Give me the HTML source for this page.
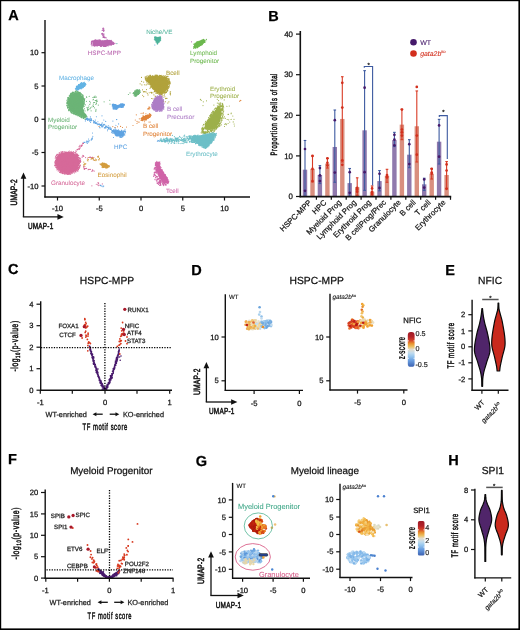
<!DOCTYPE html>
<html><head><meta charset="utf-8"><style>
html,body{margin:0;padding:0;background:#fff;}
#fig{position:relative;width:520px;height:630px;overflow:hidden;background:#fff;}
svg{position:absolute;left:0;top:0;will-change:transform;}
svg text{font-family:"Liberation Sans", sans-serif;text-rendering:geometricPrecision;}
</style></head><body><div id="fig">
<svg width="520" height="630" viewBox="0 0 520 630">
<rect x="0" y="0" width="520" height="630" fill="#fff"/>
<text transform="translate(8.20,14.80)" y="5.22" font-size="14.5" fill="#000" stroke="#000" stroke-width="0.25" font-weight="bold" >A</text>
<path d="M92.7,40.8 L96.0,40.0 L100.4,40.2 L103.9,40.5 L107.4,39.9 L110.1,40.3 L111.8,42.1 L114.5,43.4 L111.8,44.3 L109.2,45.6 L103.9,46.3 L98.6,46.1 L93.4,45.9 L92.5,43.9 Z" fill="#b965ae"/>
<path d="M106.6 43.6h0M113.4 44.4h0M110.4 44.4h0M96.6 43.8h0M98.5 42.6h0M111.5 41.6h0M110.9 42.6h0M98.6 42.1h0M98.0 42.8h0M97.4 42.2h0M102.1 43.7h0M103.6 46.4h0M104.8 46.0h0M110.8 41.4h0M106.6 46.0h0M96.4 44.5h0M95.0 40.0h0M106.3 45.8h0M92.1 41.8h0M91.9 43.1h0M103.9 40.9h0M102.7 42.6h0M106.7 45.5h0M103.9 43.0h0M103.4 45.1h0M97.2 42.8h0M91.3 42.2h0M95.8 43.5h0M108.3 41.0h0M96.0 41.8h0M100.2 44.7h0M94.9 44.8h0M97.7 45.5h0M113.0 42.7h0M112.2 44.5h0M107.0 41.3h0M109.5 44.2h0M93.3 42.2h0M104.5 44.2h0M103.7 41.4h0M112.8 43.0h0M100.0 43.3h0M106.0 44.1h0M92.5 41.0h0M100.7 46.5h0M99.1 41.6h0M94.8 41.7h0M111.4 41.4h0M100.5 40.0h0M105.7 45.1h0M106.1 44.7h0M106.9 40.9h0M107.9 40.5h0M94.8 41.8h0M102.0 45.1h0M97.0 43.1h0M101.1 46.2h0M93.4 44.3h0M96.4 45.1h0M107.8 45.0h0M98.5 42.0h0M107.6 42.7h0M94.3 43.1h0M113.6 44.2h0M105.2 40.5h0M94.6 40.5h0M95.8 40.8h0M104.8 46.5h0M95.5 39.7h0M107.0 40.7h0M105.2 43.0h0M101.3 42.8h0M97.0 40.7h0M92.0 41.5h0M102.7 40.8h0M104.7 44.0h0M99.1 42.5h0M109.8 42.5h0M100.3 40.7h0M94.1 46.0h0M107.4 39.9h0M101.7 44.3h0M104.1 43.9h0M99.6 41.1h0M105.8 46.5h0M108.1 46.0h0M99.9 40.3h0M104.0 41.8h0M94.8 46.2h0M91.1 44.0h0M109.8 44.4h0M111.3 44.5h0M94.4 43.7h0M101.5 46.5h0M111.4 43.9h0M91.4 42.0h0M106.7 43.2h0M103.8 44.8h0M109.1 44.6h0M96.7 42.6h0M96.0 45.7h0M100.1 45.0h0M95.5 42.0h0M99.7 40.1h0M105.3 40.8h0M99.5 41.7h0M97.8 42.8h0M102.1 41.5h0M103.9 44.5h0M104.0 45.7h0M113.4 42.4h0M105.5 45.2h0M101.7 41.3h0M101.3 45.3h0M92.7 41.1h0M101.7 41.5h0M104.0 46.4h0M97.3 44.6h0M111.2 40.4h0M107.9 45.4h0M108.9 40.4h0M106.7 43.3h0M99.3 43.5h0M101.0 45.7h0M96.1 40.1h0M92.3 41.5h0M96.3 45.1h0M113.9 43.9h0M112.0 41.8h0M93.8 44.1h0M106.1 42.8h0M103.0 45.8h0M105.9 41.6h0M107.5 45.0h0M98.7 44.1h0M102.6 42.3h0M106.7 44.8h0M106.9 44.6h0M95.6 42.3h0M101.3 46.5h0M110.1 44.7h0M111.4 41.0h0M109.2 44.8h0M93.8 41.5h0M113.8 42.9h0M112.9 42.8h0M104.1 41.6h0M91.8 41.1h0M91.5 41.5h0M97.3 40.8h0M97.2 40.0h0M95.7 42.9h0M105.2 41.1h0M92.0 44.9h0M105.8 46.2h0M95.2 41.5h0M107.9 43.7h0M91.5 43.2h0M98.8 40.0h0M104.5 46.0h0M111.3 43.0h0M107.5 45.4h0M106.3 40.0h0M95.8 43.8h0M105.4 45.8h0M92.0 45.8h0M115.0 43.3h0M112.4 42.2h0M92.3 45.0h0M99.5 40.0h0M99.0 41.4h0M93.8 45.4h0M106.7 42.9h0M110.9 42.8h0M112.6 41.8h0M94.2 42.4h0M110.2 40.6h0M95.9 43.6h0M105.3 46.5h0M107.0 43.7h0M106.2 44.2h0M93.4 41.9h0M107.5 43.7h0M106.8 45.0h0M111.6 43.8h0M111.1 45.4h0M99.2 43.5h0M109.1 40.9h0M112.7 43.8h0M113.3 43.1h0M95.0 40.7h0M91.7 44.0h0M107.3 45.5h0M96.4 40.5h0M105.1 43.5h0M100.5 42.4h0M97.3 41.5h0M102.4 42.2h0M107.4 43.5h0M93.5 44.5h0M100.5 43.6h0M94.3 40.3h0M107.6 45.5h0M100.4 40.2h0M100.3 41.3h0M104.5 40.8h0M96.4 45.7h0M97.2 46.1h0M99.2 39.8h0M102.4 41.9h0M93.0 40.9h0M109.8 42.9h0M105.5 46.2h0M98.5 40.0h0M92.9 40.8h0M110.1 43.1h0M94.3 43.3h0M94.3 44.9h0M94.3 42.7h0M93.0 40.5h0M98.7 45.0h0M106.5 45.4h0M95.7 41.8h0M101.9 45.2h0M100.4 45.9h0M108.8 40.7h0M93.4 42.8h0M109.2 44.3h0M110.4 43.2h0M111.6 40.7h0M107.9 40.5h0M100.3 41.6h0M104.0 41.1h0M109.9 40.4h0M95.8 42.9h0M97.7 42.1h0M104.4 43.8h0M103.5 30.2h0M103.7 30.6h0M104.0 30.0h0M103.9 28.7h0M103.7 30.9h0M103.5 28.1h0M104.1 30.4h0M103.8 28.7h0M102.9 29.7h0M103.7 31.4h0M103.1 29.9h0M102.7 28.3h0M103.2 29.5h0M102.2 30.4h0M103.5 34.1h0M103.4 36.7h0M103.5 34.0h0M104.2 36.0h0M104.1 34.1h0M103.4 35.7h0M103.5 37.3h0M101.7 33.5h0M103.8 36.6h0M102.5 35.7h0M103.0 34.7h0M103.0 34.6h0M102.1 33.5h0M102.0 34.4h0M103.7 35.7h0M102.7 33.4h0M103.6 36.0h0M103.9 37.4h0M104.6 37.2h0M103.0 37.3h0M104.8 37.7h0M104.5 37.7h0M105.2 37.3h0M106.2 37.7h0M106.1 38.0h0M104.6 37.3h0" stroke="#b965ae" stroke-width="1.15" stroke-linecap="round" fill="none"/>
<path d="M116.9 43.6h0" stroke="#4db39a" stroke-width="1.15" stroke-linecap="round" fill="none"/>
<path d="M154.4,37.6 L155.8,36.6 L157.3,37.4 L159.3,36.5 L161.0,37.6 L160.6,39.8 L157.5,43.7 L154.9,40.3 Z" fill="#4db39a"/>
<path d="M157.8 43.4h0M160.6 38.7h0M159.0 37.2h0M155.0 40.1h0M156.3 38.2h0M154.6 37.5h0M157.5 40.1h0M158.4 40.2h0M154.8 36.9h0M160.1 40.4h0M158.2 39.5h0M155.0 38.3h0M158.1 40.8h0M158.7 38.8h0M157.2 43.8h0M160.5 36.9h0M156.9 37.9h0M158.2 38.6h0M157.2 39.4h0M155.3 36.7h0M158.8 42.0h0M157.5 43.3h0M157.5 43.1h0M156.1 39.1h0M156.4 42.2h0M159.2 37.3h0M157.1 39.4h0M158.5 38.5h0M157.7 43.7h0M154.4 39.2h0M158.1 38.9h0M155.4 37.2h0M156.3 37.7h0M156.5 41.7h0M158.3 42.2h0M156.8 37.0h0M160.5 40.3h0M158.9 42.2h0M156.2 41.6h0M159.8 41.3h0M160.7 38.1h0M154.9 37.2h0M159.6 40.6h0M157.9 37.6h0M156.2 39.6h0M158.1 40.7h0M158.4 39.0h0M157.4 42.0h0M158.4 37.6h0M160.7 40.0h0M159.9 40.5h0M159.4 41.8h0M155.5 39.4h0M156.0 42.1h0M156.4 40.0h0M158.4 39.6h0M158.7 39.2h0M155.5 38.2h0M156.7 37.4h0M160.1 39.8h0M158.1 38.6h0M157.8 43.1h0M158.9 39.0h0M156.2 41.3h0M157.5 39.1h0M158.5 39.8h0M157.3 44.1h0M156.9 37.3h0M158.4 41.7h0M156.5 41.4h0M157.1 43.3h0M158.6 38.9h0" stroke="#4db39a" stroke-width="1.15" stroke-linecap="round" fill="none"/>
<path d="M154.8 45.0h0" stroke="#5ea3e2" stroke-width="1.15" stroke-linecap="round" fill="none"/>
<path d="M193.5,48.0 L194.2,44.0 L198.1,41.4 L202.5,39.9 L205.6,39.8 L204.7,42.2 L201.7,45.3 L197.3,47.5 L194.6,48.2 Z" fill="#6cb84e"/>
<path d="M199.1 44.3h0M203.0 43.4h0M197.7 41.8h0M193.9 44.4h0M200.2 41.3h0M205.0 42.3h0M197.9 47.4h0M197.1 46.9h0M200.0 43.9h0M201.5 43.6h0M202.1 41.7h0M198.0 43.8h0M202.0 42.4h0M197.5 46.6h0M200.5 40.8h0M199.6 43.6h0M193.7 48.5h0M197.6 41.8h0M194.5 47.2h0M205.0 41.9h0M197.7 42.2h0M199.5 42.3h0M194.3 46.2h0M197.7 45.2h0M198.7 46.5h0M196.7 44.1h0M204.0 40.7h0M203.0 41.3h0M196.7 42.4h0M204.0 39.8h0M201.1 43.5h0M204.7 42.0h0M202.9 42.4h0M201.6 42.8h0M195.8 45.1h0M197.8 44.0h0M201.3 41.1h0M196.9 44.1h0M198.2 43.6h0M195.9 45.6h0M202.0 40.7h0M199.1 45.9h0M198.3 41.7h0M203.0 40.4h0M195.3 43.0h0M199.1 45.5h0M195.9 46.4h0M204.0 40.4h0M204.1 41.8h0M202.7 43.6h0M203.0 40.9h0M202.3 44.4h0M204.2 42.5h0M196.8 45.5h0M202.0 44.3h0M199.8 45.8h0M197.4 41.6h0M197.2 46.0h0M194.8 46.3h0M199.5 46.1h0M202.1 41.8h0M202.1 43.4h0M195.7 44.2h0M199.7 41.6h0M198.1 42.7h0M203.2 39.6h0M199.7 41.1h0M203.7 39.3h0M197.6 42.0h0M199.7 44.4h0M196.9 47.8h0M195.9 43.2h0M198.6 45.7h0M194.1 44.1h0M197.5 45.9h0M198.3 42.9h0M206.4 39.4h0M202.6 41.8h0M197.4 45.4h0M194.1 47.3h0M201.7 41.1h0M199.1 46.0h0M200.1 41.6h0M202.0 44.8h0M193.7 46.7h0M199.5 43.6h0M195.9 44.0h0M194.1 43.9h0M195.4 43.6h0M196.1 43.1h0M205.9 40.7h0M203.0 42.0h0M204.5 41.7h0M202.3 41.6h0M197.1 46.7h0M198.8 41.2h0M196.7 44.3h0M198.5 42.2h0M203.3 41.5h0M196.5 44.0h0M199.3 45.7h0M202.7 43.3h0M195.2 43.2h0M203.1 39.9h0M196.8 41.9h0M200.9 44.9h0M201.4 40.2h0M197.4 47.7h0M195.3 48.3h0M194.6 47.1h0M204.4 41.4h0M201.8 42.3h0M201.5 44.0h0M202.2 39.9h0M195.3 45.8h0M200.1 42.3h0" stroke="#6cb84e" stroke-width="1.15" stroke-linecap="round" fill="none"/>
<path d="M191.5 41.8h0" stroke="#b965ae" stroke-width="1.15" stroke-linecap="round" fill="none"/>
<path d="M75.7,88.7 L77.0,86.0 L79.2,84.3 L81.9,82.8 L84.5,82.7 L85.7,83.8 L85.0,86.0 L82.8,87.8 L80.1,89.1 L77.5,90.2 Z" fill="#62b3e4"/>
<path d="M77.6 86.0h0M78.5 84.6h0M77.2 87.3h0M78.9 89.0h0M77.5 89.3h0M86.0 84.2h0M85.5 84.8h0M76.6 88.2h0M81.3 85.5h0M82.8 84.1h0M78.5 89.5h0M77.0 86.4h0M79.1 87.1h0M82.8 86.7h0M80.5 88.2h0M78.2 87.6h0M79.0 85.1h0M78.4 89.1h0M84.1 82.6h0M76.3 89.9h0M83.3 85.5h0M78.1 88.0h0M80.9 83.6h0M77.4 87.4h0M83.1 83.3h0M83.8 86.3h0M85.1 84.9h0M83.3 86.6h0M80.2 84.0h0M84.4 85.7h0M79.0 89.0h0M84.1 82.5h0M79.3 85.3h0M83.5 84.2h0M82.2 83.8h0M78.7 85.0h0M81.1 89.0h0M76.3 87.9h0M75.4 88.5h0M81.0 84.9h0M76.4 89.6h0M84.3 84.0h0M79.9 85.9h0M83.1 83.2h0M81.1 82.9h0M82.8 86.5h0M78.1 88.5h0M84.9 83.9h0M79.0 88.2h0M78.8 84.5h0M76.2 87.8h0M79.8 85.4h0M81.4 85.6h0M79.1 86.7h0M83.5 87.2h0M81.7 82.5h0M85.1 85.2h0M78.0 88.4h0M82.8 87.8h0M83.6 86.3h0M84.2 82.4h0M81.0 88.6h0M85.4 83.3h0M82.2 86.7h0M81.8 88.1h0M79.4 85.1h0M81.5 86.5h0M84.3 86.5h0M83.3 82.8h0M85.4 83.2h0M75.7 89.5h0M83.5 87.2h0M78.3 87.2h0M80.3 86.8h0M78.3 86.5h0M80.5 86.2h0M84.3 82.4h0M84.9 86.0h0M83.4 86.2h0M79.4 86.6h0M85.1 85.4h0M80.4 83.5h0M76.4 86.4h0M83.6 84.4h0M78.5 88.2h0M81.6 84.9h0M80.6 87.2h0M83.4 85.4h0M76.6 86.3h0M77.9 90.2h0M84.8 85.1h0M79.2 85.5h0M77.0 89.9h0M80.6 87.9h0M77.6 89.4h0M76.8 86.9h0M79.3 88.5h0" stroke="#62b3e4" stroke-width="1.15" stroke-linecap="round" fill="none"/>
<path d="M72.7,93.6 L76.8,92.6 L79.8,93.6 L82.4,96.3 L83.7,99.8 L83.7,104.2 L82.4,107.7 L83.3,111.2 L85.9,114.8 L86.8,117.4 L84.2,117.8 L79.8,115.6 L76.2,113.9 L71.8,112.1 L69.2,109.5 L67.9,105.1 L68.3,99.8 L70.1,96.3 Z" fill="#6bb476"/>
<path d="M73.9 99.4h0M76.9 100.3h0M74.3 94.6h0M68.6 98.2h0M68.4 107.4h0M80.0 99.4h0M83.1 110.0h0M86.0 116.7h0M74.3 107.3h0M69.8 105.9h0M81.6 100.6h0M81.6 103.4h0M78.0 103.9h0M77.4 98.9h0M74.4 102.6h0M70.0 108.0h0M83.1 105.5h0M72.4 102.6h0M70.5 111.2h0M78.8 109.4h0M72.5 100.6h0M73.5 113.9h0M83.1 102.9h0M67.0 102.2h0M76.9 115.0h0M79.5 109.6h0M82.9 106.4h0M70.2 97.7h0M76.8 94.2h0M74.9 99.0h0M67.9 103.2h0M85.9 114.7h0M77.5 107.7h0M71.3 93.9h0M78.2 92.7h0M76.9 100.8h0M71.8 100.4h0M72.9 109.2h0M72.0 93.4h0M66.7 103.5h0M82.1 94.5h0M83.5 99.3h0M75.2 96.4h0M79.3 99.8h0M71.2 103.9h0M80.9 99.7h0M81.7 100.4h0M82.3 104.7h0M77.1 110.4h0M85.1 119.4h0M78.8 103.2h0M81.2 117.3h0M80.4 93.6h0M85.7 117.0h0M72.7 102.6h0M68.8 110.7h0M77.9 93.3h0M68.9 101.2h0M70.6 100.3h0M82.9 103.8h0M74.7 93.2h0M68.3 101.3h0M73.7 110.8h0M81.3 111.2h0M81.6 102.7h0M80.8 96.6h0M82.5 115.5h0M82.6 107.3h0M81.9 102.9h0M83.1 95.4h0M78.0 98.4h0M68.4 98.0h0M82.6 105.0h0M73.8 108.1h0M83.9 103.3h0M83.3 97.6h0M78.5 108.3h0M71.5 102.6h0M81.2 105.3h0M73.7 110.8h0M84.9 116.9h0M72.9 100.7h0M82.3 95.8h0M75.6 97.9h0M80.2 110.4h0M68.7 109.9h0M77.2 91.9h0M73.6 96.4h0M71.6 107.3h0M77.4 93.2h0M80.5 96.6h0M81.6 107.4h0M84.2 102.4h0M72.2 112.7h0M68.2 104.2h0M66.9 105.0h0M80.0 96.9h0M75.4 99.2h0M69.4 101.0h0M82.9 101.2h0M78.0 95.9h0M70.2 104.4h0M77.9 100.2h0M73.0 98.1h0M80.5 95.3h0M69.8 104.6h0M79.8 96.1h0M81.9 103.1h0M73.9 110.1h0M81.5 104.3h0M83.3 105.3h0M84.5 99.7h0M79.7 103.0h0M80.7 100.6h0M72.3 100.7h0M74.9 113.3h0M70.3 107.0h0M82.8 97.8h0M71.3 110.0h0M72.1 111.2h0M82.9 95.0h0M76.1 108.2h0M69.4 96.8h0M72.3 101.4h0M83.5 118.4h0M74.6 106.3h0M82.0 117.9h0M72.9 92.1h0M69.3 109.2h0M72.9 106.6h0M81.2 101.2h0M82.6 109.6h0M70.7 98.2h0M74.1 93.0h0M76.0 95.5h0M83.2 96.5h0M80.6 105.1h0M74.9 106.3h0M76.5 111.2h0M72.5 107.6h0M83.0 104.0h0M71.6 106.3h0M79.3 95.1h0M76.6 93.5h0M70.8 109.7h0M79.3 111.0h0M75.3 98.2h0M72.1 98.3h0M83.4 110.1h0M74.9 96.5h0M72.7 93.3h0M74.4 107.5h0M85.3 114.0h0M74.7 108.7h0M76.1 105.5h0M78.7 99.8h0M71.3 105.6h0M72.2 107.2h0M72.1 104.5h0M78.6 107.4h0M78.3 94.8h0M83.4 109.9h0M84.4 115.8h0M78.3 98.0h0M81.1 106.7h0M69.9 101.0h0M76.6 100.7h0M81.5 102.4h0M83.8 103.1h0M71.2 98.4h0M84.4 101.1h0M78.7 95.5h0M80.9 100.4h0M85.4 115.7h0M74.7 93.7h0M82.8 97.5h0M70.0 109.6h0M82.5 111.1h0M81.4 116.5h0M67.3 105.2h0M76.8 99.9h0M72.3 96.7h0M83.3 117.8h0M73.8 93.2h0M77.5 101.9h0M70.7 100.9h0M79.6 93.1h0M75.0 107.9h0M80.8 98.7h0M82.0 111.7h0M67.9 98.6h0M85.4 117.2h0M80.3 109.3h0M81.7 98.8h0M79.5 93.7h0M74.1 114.0h0M77.0 93.3h0M71.3 106.0h0M75.7 96.9h0M77.4 112.8h0M72.6 111.7h0M80.1 93.7h0M84.0 101.5h0M79.7 107.3h0M80.8 117.0h0M79.7 101.4h0M72.0 96.2h0M74.6 98.9h0M70.4 100.7h0M85.0 116.5h0M79.3 107.1h0M71.7 95.2h0M76.0 106.1h0M80.9 96.5h0M71.1 101.2h0M81.9 100.1h0M81.8 97.5h0M75.6 107.6h0M82.8 100.3h0M66.9 100.2h0M68.9 110.7h0M81.8 104.8h0M80.0 95.2h0M85.4 115.4h0M80.0 97.5h0M75.7 97.7h0M81.7 115.6h0M71.7 101.2h0M80.9 94.0h0M81.4 97.1h0M78.1 112.9h0M72.1 98.4h0M71.1 112.4h0M71.8 99.4h0M79.1 106.6h0M76.2 112.9h0M69.6 106.8h0M79.9 107.9h0M72.2 103.5h0M70.8 104.3h0M71.2 107.6h0M79.8 108.3h0M80.1 106.6h0M73.3 108.7h0M70.3 96.5h0M82.3 114.7h0M78.5 98.2h0M70.3 107.6h0M79.6 105.1h0M77.5 96.9h0M76.4 94.1h0M78.6 95.4h0M83.9 99.2h0M75.4 103.9h0M83.1 109.9h0M72.4 107.2h0M74.7 97.6h0M75.6 99.3h0M75.1 103.7h0M70.6 105.4h0M67.6 103.6h0M73.5 110.9h0M76.3 97.2h0M86.6 116.1h0M80.0 96.9h0M83.9 99.3h0M67.9 108.0h0M74.8 98.5h0M76.5 107.6h0M70.5 93.9h0M67.8 103.0h0M75.3 91.3h0M77.4 101.5h0M75.0 109.4h0M71.8 111.9h0M71.5 102.8h0M77.6 105.2h0M76.5 97.9h0M79.5 94.7h0M83.3 111.6h0M76.8 103.9h0M79.7 105.5h0M80.3 99.3h0M73.6 99.3h0M77.1 99.4h0M71.2 105.9h0M73.4 106.2h0M75.9 105.2h0M76.1 113.0h0M78.3 92.1h0M76.7 106.5h0M72.2 92.3h0M67.1 103.4h0M82.3 102.4h0M76.7 106.2h0M81.7 108.7h0M73.6 111.0h0M77.6 109.6h0M73.6 109.9h0M68.3 98.5h0M73.2 98.5h0M79.3 110.4h0M79.4 108.4h0M69.8 101.8h0M75.2 104.1h0M72.2 98.2h0M76.4 100.0h0M69.4 107.2h0M84.0 104.6h0M72.0 101.4h0M77.8 98.9h0M79.0 107.7h0M73.9 99.5h0M79.1 115.1h0M69.2 110.7h0M77.7 111.5h0M69.1 100.2h0M73.0 107.1h0M73.2 98.2h0M81.7 96.6h0M80.6 97.7h0M81.0 97.2h0M81.8 110.1h0M82.0 98.0h0M78.4 102.9h0M82.4 96.6h0M71.1 97.2h0M82.4 106.8h0M70.6 95.9h0M77.9 104.6h0M75.8 99.5h0M80.7 103.4h0M76.1 92.8h0M83.8 115.0h0M80.6 100.6h0M76.0 110.5h0M81.4 114.9h0M80.8 104.7h0M78.3 113.6h0M68.4 104.4h0M76.7 107.7h0M79.5 94.9h0M67.7 106.4h0M83.5 110.7h0M81.9 111.8h0M74.5 103.5h0M76.6 99.4h0M75.3 101.2h0M84.4 117.9h0M75.6 91.2h0M71.1 93.0h0M75.8 96.7h0M70.0 99.0h0M84.3 115.4h0M67.7 102.0h0M81.1 93.9h0M71.8 111.8h0M81.3 105.0h0M85.1 115.9h0M78.7 92.1h0M71.6 105.1h0M71.0 97.7h0M80.6 103.4h0M80.0 92.7h0M73.3 101.1h0M73.7 102.5h0M76.5 90.9h0M78.6 104.8h0M77.0 96.8h0M77.1 104.4h0M82.1 103.3h0M70.4 101.6h0M75.0 96.8h0M78.9 115.0h0M68.7 104.8h0M82.8 108.1h0M80.8 116.2h0M72.8 105.0h0M76.9 106.0h0M67.7 105.2h0M68.0 99.4h0M71.4 97.5h0M79.6 101.1h0M79.9 97.6h0M75.3 98.6h0M76.0 94.3h0M84.1 102.0h0M83.3 116.5h0M79.1 99.6h0M75.0 101.5h0M75.2 110.9h0M72.3 110.8h0M71.6 97.3h0M68.7 103.8h0M78.4 110.1h0M76.1 95.7h0M81.8 105.9h0M80.3 114.8h0M73.8 104.2h0M74.8 94.9h0M80.7 104.9h0M83.8 103.9h0M75.0 109.3h0M80.1 111.1h0M68.9 100.5h0M77.9 104.8h0M68.5 110.1h0M79.9 110.4h0M69.6 98.9h0M77.6 102.4h0M74.7 96.8h0M83.0 117.0h0M81.8 97.4h0M78.6 93.3h0M79.9 105.5h0M79.0 113.6h0M81.1 102.3h0M68.8 98.9h0M76.2 94.3h0M83.3 112.0h0M72.8 104.3h0M79.5 109.6h0M67.7 97.6h0M70.9 111.9h0M75.6 99.9h0M85.0 115.2h0M74.7 97.3h0M78.5 93.3h0M67.6 103.2h0M71.2 107.3h0M79.6 98.2h0M70.8 102.9h0M71.8 101.3h0M79.9 93.2h0M77.1 92.8h0M72.3 113.2h0M73.1 113.3h0M74.0 99.9h0M70.7 96.0h0M83.9 117.1h0M81.5 98.1h0M72.8 100.1h0M76.3 102.5h0M77.4 114.7h0M84.5 103.1h0M78.2 101.0h0M75.7 95.2h0M74.6 109.6h0M81.1 109.4h0M75.2 114.4h0M83.0 115.1h0M68.6 99.2h0M84.1 98.7h0M80.9 94.3h0M75.9 98.1h0M81.8 94.2h0M75.1 113.3h0M75.5 96.3h0M84.2 101.8h0M77.3 114.0h0M84.3 113.0h0M79.2 108.0h0M79.0 110.4h0M79.4 106.9h0M76.5 106.1h0M74.3 107.9h0M71.6 94.6h0M74.4 100.8h0M83.1 106.5h0M78.4 97.9h0M70.0 95.9h0M84.0 103.6h0M67.4 102.6h0M75.4 92.1h0M84.2 104.6h0M77.7 91.6h0M72.9 93.1h0M75.1 91.8h0M78.0 94.4h0M81.1 116.2h0M82.4 98.5h0M78.0 110.6h0M69.0 104.2h0M76.8 99.1h0M70.8 93.3h0M74.5 109.4h0M74.3 96.5h0M67.9 100.8h0M81.9 99.9h0M67.5 107.2h0M76.8 106.4h0M69.1 102.2h0M77.9 93.1h0M80.9 99.6h0M80.6 98.9h0M73.4 94.7h0M71.1 99.6h0M72.0 98.4h0M73.5 99.2h0M79.1 115.4h0M74.4 103.6h0M78.8 92.2h0M82.1 96.2h0M77.0 92.2h0M73.1 92.8h0M66.7 105.7h0M78.0 99.1h0M80.0 96.4h0M76.0 108.3h0M70.8 96.2h0M82.0 103.9h0M85.8 115.1h0M71.6 97.5h0M75.2 91.8h0M81.1 115.1h0M87.0 118.6h0M79.3 100.2h0M79.0 113.0h0M68.0 97.9h0M71.7 96.9h0M74.6 92.8h0M70.2 108.9h0M73.0 107.1h0M69.1 102.8h0M87.0 116.2h0M75.7 111.3h0M74.9 103.2h0M77.6 99.0h0M76.0 94.9h0M76.6 99.8h0M75.6 100.9h0M70.1 98.2h0M75.8 106.3h0M76.1 106.6h0M77.1 109.3h0M75.0 95.5h0M83.3 98.3h0M73.8 111.9h0M84.5 100.5h0M81.9 116.0h0M74.8 99.8h0M83.0 110.7h0M77.8 115.5h0M81.0 116.2h0M81.0 106.0h0M78.2 102.6h0M75.7 97.3h0M72.4 111.3h0M79.3 95.8h0M79.6 100.4h0M75.1 108.5h0M78.4 102.2h0M68.9 99.2h0M81.4 93.7h0M69.4 101.7h0M83.6 106.1h0M71.9 110.5h0M76.8 100.9h0M80.0 107.7h0M73.3 110.8h0M68.8 101.6h0M75.9 100.9h0M78.5 115.0h0M75.6 103.6h0M87.5 118.6h0M74.1 112.7h0M82.1 101.4h0M82.8 106.5h0M82.7 111.3h0M84.3 116.2h0M76.9 107.5h0M80.1 102.2h0M73.2 109.2h0M66.9 102.4h0M70.5 111.1h0M68.6 107.1h0M85.7 117.0h0M74.7 113.2h0M81.4 115.4h0M75.8 91.2h0M82.2 109.0h0M76.4 100.4h0M78.1 115.9h0M73.1 102.0h0M79.3 97.9h0M72.2 108.9h0M85.4 115.5h0M74.3 101.3h0M68.7 104.6h0M80.1 106.2h0M78.1 100.7h0M67.7 104.7h0M79.6 116.1h0M72.5 99.8h0M83.7 118.0h0M77.3 101.2h0M86.2 115.2h0M78.8 97.7h0M82.2 109.0h0M79.5 93.4h0M67.5 108.1h0M75.3 112.2h0M68.3 99.2h0M80.3 94.1h0M75.9 114.2h0M74.4 97.6h0M79.6 103.5h0M79.9 114.8h0M75.6 110.0h0M80.9 115.0h0M70.9 101.0h0M74.8 108.8h0M82.5 107.5h0M73.6 113.1h0M74.4 114.0h0M70.9 94.3h0M71.7 112.1h0M72.4 98.7h0M73.6 92.4h0M73.4 97.9h0M71.4 95.7h0M71.2 100.8h0M71.3 103.4h0M69.5 102.4h0M75.6 94.4h0M77.3 98.5h0M80.0 110.2h0M67.7 102.5h0M70.6 107.2h0M72.3 109.7h0M74.5 99.3h0M80.8 105.8h0M83.6 98.1h0M74.6 104.1h0M75.2 95.6h0M73.0 96.4h0M83.8 101.7h0M83.8 117.9h0M77.0 101.1h0M80.5 101.5h0M81.2 102.4h0M72.3 94.8h0M71.7 96.1h0M71.4 112.9h0M83.7 99.0h0M85.8 119.1h0M84.2 116.0h0M83.8 98.4h0M75.9 103.3h0M83.0 107.1h0M70.1 95.6h0M80.6 103.1h0M67.4 99.0h0M83.0 97.6h0M84.2 100.3h0M75.5 114.6h0M79.8 92.7h0M82.0 102.0h0M71.0 108.2h0M78.4 100.4h0M74.2 98.5h0M70.3 109.4h0M71.6 103.1h0M81.0 105.9h0M76.3 108.8h0M80.4 92.8h0M80.6 98.1h0M70.0 109.3h0M77.5 102.4h0M79.1 100.0h0M82.7 100.8h0M80.0 92.2h0M80.3 96.7h0M75.7 91.9h0M76.0 114.8h0M73.5 94.5h0M70.3 94.7h0M76.7 114.3h0M72.0 97.8h0M85.0 114.7h0M74.7 99.6h0M83.1 107.0h0M79.0 99.7h0M76.5 100.5h0M84.0 117.6h0M84.4 116.9h0M70.8 95.8h0M76.9 92.8h0M73.0 109.4h0M75.6 111.7h0M76.8 112.2h0M76.6 113.0h0M72.7 103.4h0M70.8 103.7h0M75.1 108.5h0M81.9 117.1h0M83.1 112.0h0M82.3 107.8h0M74.8 97.5h0M71.8 112.3h0M78.1 102.8h0M72.9 111.1h0M73.1 95.5h0M83.9 113.5h0M79.6 116.4h0M69.3 95.2h0M77.0 109.3h0M73.4 98.1h0M76.1 100.2h0M75.7 103.5h0M75.0 111.1h0M70.5 100.8h0M78.4 112.7h0M68.5 97.2h0M75.5 102.6h0M68.6 98.7h0M74.3 100.3h0M70.1 110.3h0M68.6 109.1h0M82.4 103.0h0M82.2 103.9h0M83.1 114.1h0M69.4 107.3h0M82.8 101.5h0M86.8 118.5h0M78.7 96.4h0M80.4 116.9h0M82.5 108.3h0M68.9 103.2h0M80.0 113.0h0M79.4 92.9h0M67.3 101.0h0M82.4 102.8h0M73.7 97.1h0M80.5 113.2h0M81.1 97.5h0M86.0 118.7h0M81.3 104.6h0M68.6 99.3h0M81.9 117.4h0M94.1 96.7h0M86.4 101.3h0M84.3 106.2h0M86.7 97.3h0M88.4 109.6h0M86.5 96.7h0M93.0 99.8h0M97.2 101.3h0M96.5 97.0h0M91.1 110.8h0M95.8 111.5h0M95.9 110.5h0M93.5 99.2h0M96.0 109.3h0M89.7 101.4h0M95.2 100.6h0M91.8 107.0h0M95.1 97.4h0M95.1 96.1h0M85.0 110.9h0M96.5 101.7h0M84.5 108.7h0M90.4 102.8h0M92.9 97.5h0M96.4 103.6h0M84.9 98.7h0M94.1 97.3h0M89.2 96.3h0M89.9 108.8h0M87.0 107.6h0M88.2 107.5h0M96.2 103.1h0M93.7 102.5h0M94.4 107.8h0M85.4 104.8h0M93.3 104.1h0M93.5 106.4h0M89.8 104.4h0M87.6 109.4h0M87.7 110.6h0M88.8 106.0h0M87.8 108.6h0M94.6 102.5h0M90.5 107.8h0M92.9 105.8h0M95.8 104.5h0M110.0 104.1h0M98.3 105.1h0M104.1 101.8h0M96.9 100.0h0M109.7 100.2h0M96.2 100.4h0" stroke="#6bb476" stroke-width="1.15" stroke-linecap="round" fill="none"/>
<path d="M133.8,93.0 L135.2,90.8 L137.4,89.5 L139.6,89.9 L140.2,92.1 L138.3,94.7 L136.1,96.7 L134.3,95.6 Z" fill="#6bb476"/>
<path d="M139.9 91.8h0M138.0 92.0h0M137.7 91.0h0M135.0 96.4h0M140.3 92.3h0M136.6 90.1h0M138.6 94.5h0M134.8 94.2h0M138.8 93.2h0M136.0 95.9h0M135.7 93.2h0M135.6 95.6h0M139.5 93.3h0M135.2 95.8h0M139.4 89.7h0M137.7 92.6h0M138.9 92.0h0M136.0 90.1h0M137.7 92.0h0M138.2 92.8h0M137.8 91.7h0M139.5 91.1h0M135.1 91.5h0M137.9 92.4h0M138.3 93.1h0M138.8 93.3h0M134.1 95.0h0M137.9 94.5h0M134.6 91.1h0M134.1 92.6h0M135.1 90.9h0M139.6 91.7h0M137.6 90.9h0M135.8 93.4h0M139.2 89.5h0M138.1 93.5h0M134.3 92.4h0M139.2 91.3h0M133.9 93.8h0M137.2 89.5h0M138.5 93.7h0M135.7 94.8h0M136.4 92.3h0M140.1 90.8h0M138.7 93.4h0M133.0 93.3h0M128.4 94.5h0M130.0 92.9h0M134.0 95.2h0M133.6 92.6h0" stroke="#6bb476" stroke-width="1.15" stroke-linecap="round" fill="none"/>
<path d="M112.1,130.3 L116.6,130.3 L120.4,130.7 L123.9,131.5 L123.4,134.5 L121.1,136.7 L117.4,135.6 L113.6,133.0 Z" fill="#5ea3e2"/>
<path d="M112.3,105.1 L113.6,103.8 L115.8,104.2 L117.2,105.1 L119.4,104.6 L120.7,103.3 L123.3,103.8 L124.8,105.5 L123.3,107.3 L118.9,107.3 L116.3,109.7 L113.6,108.6 Z" fill="#5ea3e2"/>
<path d="M91.6 120.2h0M90.3 118.8h0M101.8 126.8h0M100.2 125.4h0M109.3 128.8h0M89.7 120.3h0M107.0 127.0h0M110.7 128.6h0M105.2 127.2h0M89.2 119.2h0M89.6 121.1h0M88.4 119.1h0M95.0 121.5h0M105.3 127.8h0M89.8 120.0h0M97.5 123.8h0M87.3 118.7h0M104.3 124.3h0M88.4 120.0h0M107.0 126.2h0M101.6 126.0h0M91.4 119.5h0M104.7 124.8h0M95.0 122.6h0M99.5 124.6h0M100.4 124.7h0M93.4 120.6h0M96.6 123.7h0M106.9 126.1h0M108.6 127.7h0M108.3 127.3h0M100.9 124.5h0M108.4 128.7h0M89.8 119.6h0M111.4 129.7h0M87.0 119.5h0M109.9 127.1h0M106.9 126.3h0M96.3 122.5h0M106.7 126.8h0M110.8 129.3h0M90.9 118.9h0M102.7 126.2h0M85.9 119.1h0M103.3 125.7h0M88.0 118.2h0M103.4 125.8h0M86.9 118.4h0M96.3 123.4h0M108.6 128.0h0M93.7 122.4h0M111.3 128.8h0M97.8 124.7h0M91.4 118.8h0M110.7 128.0h0M89.9 120.6h0M101.9 123.9h0M110.3 129.4h0M110.8 128.0h0M100.4 124.7h0M91.8 120.2h0M99.2 123.7h0M93.5 121.8h0M94.2 121.9h0M94.4 121.7h0M90.6 122.3h0M87.0 118.9h0M105.8 126.0h0M86.0 119.3h0M100.6 125.4h0M95.2 123.4h0M102.3 127.0h0M101.4 124.2h0M98.1 124.6h0M105.9 127.9h0M100.9 124.8h0M109.3 128.6h0M102.2 122.7h0M109.0 127.7h0M107.9 129.3h0M104.9 125.0h0M94.7 121.7h0M98.6 124.1h0M87.9 119.8h0M104.3 127.7h0M103.3 124.3h0M107.3 127.5h0M87.9 120.1h0M89.8 118.9h0M102.8 125.6h0M104.4 127.9h0M87.5 120.3h0M86.6 119.2h0M95.3 120.1h0M94.9 122.1h0M87.2 119.4h0M88.6 119.3h0M91.3 120.7h0M85.4 120.9h0M89.9 120.0h0M87.0 118.1h0M95.5 122.7h0M105.6 126.5h0M103.3 125.5h0M101.7 125.1h0M97.9 124.2h0M90.8 120.7h0M87.6 118.1h0M90.9 120.4h0M110.5 129.3h0M116.8 130.1h0M124.8 134.9h0M115.5 130.3h0M121.8 135.4h0M112.0 130.5h0M113.1 131.2h0M117.0 135.5h0M120.3 132.5h0M115.9 134.6h0M118.7 131.3h0M121.0 137.5h0M118.4 129.8h0M117.9 135.6h0M117.1 131.5h0M121.3 135.5h0M115.7 129.6h0M116.3 132.8h0M113.8 129.9h0M122.2 135.5h0M117.7 133.2h0M123.4 132.8h0M120.5 133.6h0M118.9 132.5h0M122.7 136.8h0M117.8 135.2h0M120.5 132.8h0M117.7 130.5h0M115.5 133.8h0M125.1 132.5h0M123.0 133.5h0M117.3 132.9h0M117.1 130.5h0M116.3 131.1h0M117.2 134.0h0M122.5 135.6h0M123.8 135.2h0M117.9 135.2h0M114.6 131.4h0M123.5 132.4h0M125.3 131.7h0M120.5 132.8h0M125.1 132.9h0M121.4 132.4h0M123.0 131.8h0M112.9 133.3h0M120.8 137.3h0M121.9 135.4h0M121.6 130.4h0M117.5 133.8h0M112.3 130.6h0M114.4 129.9h0M124.3 130.9h0M118.2 136.1h0M120.6 134.6h0M120.4 134.2h0M111.7 132.6h0M116.0 135.3h0M119.7 136.0h0M123.5 134.3h0M116.4 134.7h0M112.5 131.9h0M124.3 134.5h0M119.3 133.8h0M119.9 133.9h0M118.4 134.7h0M112.9 130.7h0M124.5 131.3h0M118.4 131.0h0M115.4 135.2h0M121.4 135.5h0M113.2 131.3h0M122.2 132.3h0M113.3 130.7h0M116.8 135.1h0M114.6 133.1h0M112.0 131.8h0M123.9 131.4h0M121.8 133.6h0M114.4 132.2h0M118.2 135.6h0M123.7 130.9h0M121.3 134.5h0M113.1 133.1h0M119.4 131.0h0M120.4 133.3h0M114.8 131.6h0M124.0 133.6h0M119.6 135.9h0M121.9 130.4h0M117.9 133.6h0M124.3 131.2h0M112.7 131.6h0M120.2 134.4h0M122.0 135.9h0M121.2 137.4h0M118.1 133.8h0M117.6 131.7h0M115.7 134.3h0M119.8 137.1h0M118.1 135.1h0M121.9 136.6h0M122.5 135.0h0M120.4 136.0h0M120.8 137.4h0M114.0 132.9h0M123.2 135.9h0M119.2 132.0h0M120.7 136.9h0M117.4 135.9h0M122.0 136.7h0M121.5 137.0h0M119.2 134.7h0M113.6 129.7h0M116.3 136.0h0M119.9 135.7h0M119.0 135.1h0M119.6 135.6h0M122.0 134.0h0M117.2 131.4h0M114.9 134.0h0M115.2 134.3h0M117.0 131.7h0M118.0 135.1h0M117.2 108.7h0M116.6 109.1h0M114.8 109.1h0M113.0 108.7h0M117.5 107.7h0M119.3 107.3h0M115.9 106.4h0M115.4 104.5h0M112.3 104.3h0M123.1 104.5h0M116.4 106.0h0M113.5 107.5h0M120.8 107.4h0M121.1 105.9h0M122.6 106.8h0M113.5 107.7h0M112.8 104.5h0M121.6 104.6h0M112.3 105.9h0M119.4 106.8h0M121.7 105.3h0M124.4 104.4h0M122.4 103.7h0M115.9 107.2h0M121.7 105.2h0M120.9 106.4h0M123.6 104.0h0M114.6 105.7h0M116.9 105.5h0M117.6 105.9h0M117.1 108.1h0M112.7 104.7h0M113.2 106.6h0M122.1 105.1h0M113.4 109.1h0M120.2 105.6h0M123.1 107.5h0M112.6 104.7h0M119.2 106.5h0M120.8 105.0h0M116.1 107.3h0M114.4 107.1h0M120.7 107.5h0M121.7 107.4h0M123.7 105.1h0M116.4 109.2h0M123.1 105.4h0M114.3 106.0h0M120.2 104.2h0M119.8 105.2h0M112.4 104.7h0M119.0 107.4h0M114.1 109.0h0M114.0 106.7h0M116.5 105.3h0M114.4 107.1h0M124.4 104.8h0M113.8 107.0h0M118.2 107.8h0M115.1 106.2h0M121.4 104.6h0M115.0 105.3h0M114.0 108.6h0M115.4 108.2h0M113.4 104.8h0M115.4 106.2h0M116.9 108.9h0M115.8 107.1h0M116.5 107.9h0M114.0 105.7h0M121.3 104.3h0M116.4 106.0h0M112.8 107.1h0M113.2 104.0h0M112.6 105.7h0M114.5 106.3h0M115.3 109.1h0M113.1 105.6h0M113.2 108.1h0M122.5 106.3h0M118.7 106.0h0M117.7 106.8h0M116.8 119.6h0M90.4 116.9h0M115.9 125.2h0M103.1 125.8h0M108.3 127.8h0M108.6 125.7h0M116.5 119.5h0M107.5 130.7h0M112.9 121.1h0M97.9 121.7h0M92.5 133.0h0M114.1 130.7h0M125.6 131.7h0M92.8 136.2h0M122.8 134.6h0M103.8 120.0h0M113.5 137.5h0M99.6 127.0h0M114.9 127.8h0M105.7 121.4h0M118.6 123.9h0M100.0 127.8h0M102.0 115.8h0M112.5 131.6h0M93.8 123.0h0M125.1 130.9h0M111.9 131.8h0M125.0 129.2h0M96.4 116.7h0M115.5 128.0h0M88.6 142.0h0M91.3 140.1h0M91.1 139.9h0M89.3 140.7h0M91.2 139.7h0M87.3 143.5h0M91.5 138.8h0M92.3 137.7h0M92.5 138.8h0M91.8 139.2h0M167.1 141.8h0M162.5 141.3h0M167.1 141.3h0M159.0 140.6h0M161.0 140.1h0M158.8 140.9h0M164.4 140.8h0M167.1 141.3h0M167.2 140.9h0M157.9 140.2h0M165.5 140.4h0M163.1 141.1h0M159.4 141.2h0M166.9 140.8h0M162.8 141.0h0M157.4 141.2h0M161.2 140.3h0M164.5 140.7h0M166.4 140.3h0M159.2 141.2h0" stroke="#5ea3e2" stroke-width="1.15" stroke-linecap="round" fill="none"/>
<path d="M146.1,78.2 L148.3,76.5 L152.7,76.0 L159.7,76.0 L166.6,76.9 L168.9,82.6 L167.6,87.5 L165.9,91.0 L162.3,93.6 L157.1,93.0 L153.5,89.2 L150.9,84.8 L147.4,82.2 Z" fill="#b1a23b"/>
<path d="M159.0 89.3h0M151.5 81.0h0M162.8 89.4h0M161.4 75.9h0M161.9 92.1h0M159.0 93.2h0M163.8 90.2h0M154.3 91.2h0M168.9 86.9h0M159.3 91.2h0M153.4 84.4h0M161.1 83.2h0M162.4 89.1h0M168.4 84.3h0M161.1 81.2h0M158.1 80.3h0M153.7 83.7h0M155.6 82.6h0M160.7 90.7h0M166.9 91.0h0M160.0 91.9h0M149.9 82.2h0M152.2 78.6h0M162.4 89.0h0M169.1 85.5h0M159.0 88.9h0M168.3 88.4h0M155.0 79.7h0M162.2 94.1h0M165.6 85.1h0M164.2 86.8h0M158.6 79.4h0M154.2 76.9h0M163.3 78.6h0M163.1 78.6h0M164.8 82.6h0M166.8 81.7h0M148.2 78.2h0M167.5 86.8h0M155.9 87.3h0M152.6 85.2h0M154.6 90.9h0M150.0 81.3h0M153.1 80.3h0M168.0 87.8h0M156.4 93.2h0M157.4 88.0h0M160.1 90.8h0M166.3 81.8h0M165.2 80.0h0M155.1 83.3h0M155.9 90.7h0M169.4 85.1h0M155.1 91.7h0M154.4 77.2h0M166.9 80.8h0M156.9 75.7h0M161.4 93.3h0M152.0 76.3h0M162.2 85.8h0M154.1 88.5h0M164.9 79.1h0M158.8 79.8h0M166.8 77.8h0M156.0 88.0h0M161.9 85.3h0M151.5 87.1h0M159.8 87.4h0M161.8 94.1h0M158.7 81.3h0M149.8 84.0h0M166.3 84.5h0M155.6 75.2h0M158.2 80.5h0M156.6 91.4h0M168.6 87.2h0M161.8 89.9h0M164.7 89.8h0M166.1 87.9h0M147.0 81.5h0M161.7 84.9h0M168.0 80.6h0M161.4 81.7h0M169.8 84.2h0M151.4 83.5h0M159.8 80.8h0M158.4 81.1h0M152.2 81.2h0M164.8 78.8h0M155.8 86.7h0M161.4 76.9h0M164.9 80.0h0M163.4 78.4h0M146.0 80.6h0M165.8 77.0h0M161.4 91.4h0M148.4 83.8h0M157.5 81.4h0M149.2 81.9h0M168.7 86.2h0M150.4 76.4h0M163.1 77.7h0M159.0 93.3h0M162.0 88.2h0M162.5 90.3h0M152.0 79.2h0M157.2 92.8h0M169.0 78.9h0M166.6 78.4h0M164.1 92.3h0M160.8 83.4h0M163.1 89.5h0M155.8 89.0h0M154.4 84.9h0M163.4 84.6h0M156.8 81.9h0M156.1 83.4h0M158.9 85.1h0M155.5 78.6h0M167.4 76.6h0M164.3 89.3h0M165.2 88.2h0M157.6 81.9h0M165.7 75.7h0M147.6 80.5h0M160.0 81.8h0M161.0 87.8h0M162.0 92.2h0M154.7 86.2h0M158.4 83.0h0M162.9 88.8h0M159.7 85.5h0M156.6 82.0h0M163.0 81.2h0M165.3 83.9h0M159.1 81.7h0M161.7 82.6h0M148.8 81.7h0M165.6 92.0h0M150.4 82.2h0M155.9 83.7h0M167.5 83.7h0M162.2 87.1h0M165.8 78.9h0M164.7 92.9h0M158.0 75.9h0M158.7 92.1h0M164.0 82.8h0M149.4 77.8h0M163.2 87.5h0M156.2 81.8h0M160.5 75.6h0M164.2 78.4h0M152.3 78.4h0M166.0 78.9h0M164.2 84.1h0M159.6 93.2h0M159.5 86.6h0M154.5 89.8h0M154.6 88.8h0M168.6 87.1h0M159.6 94.2h0M154.8 77.6h0M164.0 90.9h0M159.1 89.4h0M165.9 89.5h0M166.2 82.1h0M162.8 76.6h0M161.4 88.5h0M169.8 81.2h0M161.5 94.0h0M150.3 77.4h0M160.9 91.3h0M164.5 84.5h0M155.6 80.9h0M148.9 80.1h0M153.7 82.1h0M164.8 82.4h0M150.0 79.5h0M169.8 83.4h0M167.1 87.5h0M165.4 89.1h0M163.5 81.6h0M158.9 93.7h0M161.5 80.9h0M163.9 78.8h0M153.1 75.9h0M149.9 80.3h0M162.6 76.2h0M160.2 87.6h0M155.3 75.5h0M159.9 85.6h0M162.3 76.2h0M152.4 85.1h0M145.8 79.5h0M148.5 76.9h0M155.9 91.1h0M164.1 79.1h0M164.8 87.8h0M159.9 90.2h0M148.4 76.1h0M161.3 77.5h0M158.5 77.5h0M151.1 78.2h0M148.9 78.0h0M152.1 86.2h0M153.8 80.1h0M153.7 84.7h0M164.1 76.1h0M156.6 79.3h0M166.6 87.5h0M157.6 88.9h0M152.1 87.3h0M161.5 94.6h0M166.4 91.7h0M150.6 84.3h0M161.0 80.0h0M151.1 79.9h0M152.6 85.0h0M158.3 91.3h0M154.9 85.4h0M152.3 77.4h0M161.1 93.5h0M167.5 89.1h0M160.5 82.8h0M157.8 84.8h0M163.7 86.5h0M167.7 88.8h0M157.7 76.6h0M157.0 90.8h0M159.2 82.6h0M159.2 77.0h0M150.4 80.3h0M152.8 87.5h0M154.2 84.3h0M169.4 82.8h0M153.1 83.2h0M157.1 88.5h0M150.3 84.5h0M150.2 82.3h0M159.3 87.6h0M152.4 87.6h0M151.8 83.1h0M158.2 87.9h0M167.0 89.9h0M145.9 78.3h0M155.3 88.1h0M170.2 83.4h0M157.2 91.2h0M160.9 91.2h0M154.5 79.3h0M150.3 76.6h0M162.5 90.2h0M159.9 76.1h0M160.5 88.8h0M166.4 83.5h0M157.9 88.4h0M154.6 77.6h0M160.5 87.8h0M157.7 93.4h0M147.8 81.2h0M163.8 82.9h0M164.9 90.9h0M158.1 82.7h0M156.8 75.7h0M164.6 85.2h0M157.6 75.4h0M168.7 81.4h0M162.9 84.6h0M164.5 93.1h0M153.7 85.1h0M167.8 76.4h0M162.0 89.1h0M152.1 80.7h0M169.1 87.2h0M162.0 92.9h0M151.3 87.1h0M159.0 83.4h0M149.5 77.2h0M156.7 83.2h0M161.9 89.8h0M151.2 86.9h0M167.4 80.6h0M162.1 92.6h0M156.8 83.7h0M166.8 85.1h0M150.0 80.9h0M165.6 77.6h0M161.1 94.3h0M153.3 83.3h0M159.6 75.2h0M146.7 80.9h0M159.3 81.2h0M166.5 82.7h0M146.9 82.2h0M152.5 78.3h0M160.8 82.8h0M162.9 82.5h0M162.6 92.9h0M167.3 85.8h0M162.3 93.5h0M162.0 94.7h0M160.0 92.4h0M161.9 83.1h0M163.5 82.8h0M161.3 92.0h0M149.9 81.3h0M155.1 82.5h0M159.3 90.5h0M150.1 75.3h0M157.8 92.0h0M159.6 77.9h0M169.3 80.0h0M162.4 81.2h0M161.8 85.3h0M159.0 93.1h0M164.6 87.1h0M154.7 77.2h0M158.8 94.2h0M163.6 88.3h0M162.1 88.3h0M165.5 89.5h0M155.6 75.1h0M160.9 81.2h0M159.1 81.8h0M164.9 88.0h0M145.4 76.9h0M147.1 80.5h0M151.9 78.5h0M149.8 75.9h0M162.3 84.5h0M147.6 79.1h0M158.3 79.1h0M165.2 77.2h0M152.4 88.1h0M160.1 78.2h0M169.9 82.6h0M151.9 82.6h0M150.5 84.1h0M154.1 88.5h0M168.8 78.3h0M145.4 76.9h0M152.9 82.4h0M164.0 75.7h0M162.2 90.4h0M164.0 79.9h0M165.8 83.0h0M158.0 83.4h0M162.6 83.2h0M161.5 86.9h0M165.7 90.7h0M158.3 90.8h0M149.7 76.8h0M164.4 84.0h0M157.8 82.7h0M156.8 77.2h0M160.3 77.5h0M169.1 79.6h0M160.5 81.7h0M157.7 92.2h0M161.4 93.5h0M147.0 80.1h0M158.7 78.9h0M158.6 87.6h0M159.6 80.7h0M169.1 85.8h0M159.7 83.7h0M155.7 79.0h0M164.0 80.8h0M154.9 77.8h0M149.0 81.5h0M154.7 91.7h0M157.8 89.7h0M152.9 76.6h0M149.3 78.2h0M163.7 92.3h0M160.4 78.9h0M160.7 94.7h0M151.4 85.1h0M157.4 77.6h0M156.2 87.1h0M159.7 83.9h0M159.4 76.4h0M160.8 93.0h0M165.2 87.9h0M164.7 78.9h0M159.5 94.3h0M164.1 88.4h0M151.6 81.9h0M157.7 77.2h0M152.7 75.6h0M159.6 80.4h0M163.3 81.2h0M156.9 87.5h0M165.5 86.7h0M169.2 83.5h0M154.6 77.4h0M153.4 82.7h0M153.3 82.8h0M164.9 83.5h0M169.4 81.3h0M159.2 90.6h0M156.1 84.3h0M161.9 93.2h0M155.5 81.9h0M159.4 77.9h0M149.5 82.1h0M155.1 82.2h0M162.6 78.8h0M154.7 77.3h0M153.6 80.9h0M165.1 90.7h0M149.4 78.4h0M146.4 77.0h0M167.0 83.0h0M147.1 75.8h0M147.3 79.4h0M163.0 82.7h0M160.9 93.7h0M155.2 76.6h0M169.2 86.2h0M150.1 75.7h0M146.4 77.1h0M161.4 87.3h0M159.0 93.0h0M145.4 78.2h0M161.7 87.7h0M164.1 91.1h0M150.9 86.4h0M151.0 83.3h0M154.1 86.3h0M151.0 82.0h0M168.5 83.8h0M166.2 92.3h0M158.4 79.9h0M161.6 82.8h0M159.1 92.1h0M150.9 85.8h0M152.1 77.0h0M168.6 82.3h0M163.7 77.9h0M161.7 83.8h0M168.5 82.3h0M150.6 81.8h0M156.0 90.1h0M156.2 90.3h0M165.6 92.9h0M167.6 78.5h0M164.6 92.9h0M156.2 78.2h0M162.9 80.4h0M151.2 77.9h0M162.3 93.6h0M164.2 87.7h0M161.7 85.8h0M153.7 85.7h0M165.9 86.7h0M157.2 86.1h0M151.1 86.6h0M154.0 76.6h0M153.4 79.7h0M156.5 75.1h0M161.6 76.3h0M168.6 79.0h0M159.5 81.3h0M154.0 87.0h0M149.0 81.3h0M146.3 78.9h0M161.2 82.4h0M148.9 79.3h0M166.6 76.5h0M161.9 82.8h0M158.2 79.0h0M152.6 81.9h0M157.8 75.2h0M160.2 88.8h0M168.4 82.2h0M148.4 77.8h0M162.8 87.8h0M162.5 83.0h0M158.5 81.5h0M168.8 79.4h0M156.7 78.7h0M156.4 80.1h0M159.2 79.8h0M165.6 82.4h0M165.8 81.7h0M167.8 84.7h0M160.5 94.2h0M160.2 93.9h0M162.2 85.8h0M148.3 81.4h0M164.7 88.5h0M152.5 88.7h0M157.9 75.8h0M151.5 77.1h0M167.3 89.4h0M164.5 91.5h0M146.2 78.8h0M168.6 81.0h0M162.8 77.8h0M162.5 82.2h0M151.4 82.0h0M162.7 76.2h0M162.8 78.9h0M153.0 86.0h0M164.6 82.6h0M150.2 79.9h0M164.5 81.2h0M151.7 78.2h0M163.7 75.7h0M152.0 78.4h0M159.4 81.5h0M169.6 81.8h0M145.3 78.9h0M152.8 76.3h0M167.9 79.3h0M164.0 92.9h0M146.8 76.7h0M163.8 92.1h0M161.0 89.2h0M157.3 77.7h0M160.0 91.0h0M147.4 79.2h0M164.7 76.7h0M162.2 77.6h0M150.7 75.3h0M170.0 83.1h0M164.0 84.9h0M164.9 92.6h0M156.5 76.8h0M167.3 87.8h0M162.5 78.4h0M155.9 85.2h0M162.2 81.9h0M146.7 80.5h0M154.8 75.2h0M166.5 86.6h0M157.0 83.9h0M159.0 88.8h0M159.1 78.7h0M149.8 75.4h0M162.2 78.9h0M156.2 87.8h0M150.7 77.7h0M145.9 80.2h0M160.4 85.0h0M159.7 92.3h0M155.7 81.3h0M155.1 88.2h0M159.1 88.4h0M148.5 79.2h0M154.8 84.9h0M167.0 89.9h0M149.7 75.5h0M162.2 91.8h0M158.0 90.8h0M158.9 78.3h0M165.5 86.3h0M154.4 78.0h0M150.0 77.6h0M170.1 83.0h0M169.0 80.4h0M156.8 82.4h0M162.9 77.7h0M146.0 78.2h0M166.8 88.0h0M156.4 80.7h0M152.0 82.5h0M170.1 82.2h0M164.6 80.4h0M167.3 80.7h0M156.7 83.3h0M152.6 81.6h0M162.2 88.8h0M157.2 81.6h0M158.2 82.8h0M161.1 75.4h0M152.7 85.5h0M165.9 81.8h0M164.0 80.3h0M164.1 80.9h0M162.9 86.0h0M157.6 82.6h0M149.1 84.2h0M159.9 93.4h0M169.9 82.0h0M146.0 78.0h0M156.1 76.7h0M146.9 81.7h0M158.6 86.4h0M159.5 86.6h0M157.3 89.6h0M162.8 76.7h0M157.8 82.8h0M159.4 82.4h0M161.9 77.3h0M168.1 86.8h0M155.9 90.5h0M156.4 77.4h0M154.2 86.2h0M168.0 76.3h0M156.8 79.8h0M151.8 79.1h0M153.0 88.3h0M168.0 83.1h0M166.2 92.1h0M157.8 83.2h0M168.0 76.4h0M163.9 90.5h0M156.4 75.6h0M155.5 80.9h0M162.3 86.3h0M164.0 77.8h0M159.2 79.5h0M158.5 83.9h0M161.9 89.3h0M165.2 82.4h0M162.7 87.9h0M147.0 76.0h0M166.8 89.5h0M167.6 80.5h0M153.5 83.5h0M154.6 87.4h0M155.0 85.1h0M151.8 80.6h0M158.4 76.9h0M163.0 87.1h0M160.3 78.7h0M157.5 92.7h0M160.9 90.3h0M167.9 90.0h0M163.7 93.2h0M154.5 79.3h0M153.5 89.6h0M162.7 78.6h0M153.6 84.2h0M164.4 81.8h0M163.5 87.7h0M165.4 93.0h0M152.8 76.3h0M161.5 75.9h0M166.8 89.2h0M168.6 81.9h0M165.2 79.3h0M161.0 92.7h0M161.2 79.7h0M164.4 87.1h0M152.7 79.6h0M161.6 84.8h0M154.8 86.7h0M152.8 75.8h0M167.4 91.1h0M167.2 82.3h0M153.3 86.8h0M146.1 84.9h0M147.2 83.9h0M141.6 81.3h0M149.2 92.7h0M150.3 85.7h0M145.0 77.1h0M143.7 82.1h0M151.7 92.2h0M151.7 93.1h0M141.5 77.4h0M146.5 89.6h0M145.2 91.7h0M143.4 91.6h0M146.2 92.0h0M148.0 94.9h0M144.4 84.7h0M143.7 96.6h0M150.4 87.2h0M147.9 78.4h0M143.7 92.0h0M141.9 84.9h0M144.6 91.6h0M151.3 85.6h0M150.0 88.5h0M142.5 89.8h0M147.3 93.3h0M140.1 83.8h0M150.9 92.4h0M151.3 82.4h0M142.6 95.2h0M164.9 96.8h0M163.6 101.7h0M163.3 100.9h0M167.8 103.0h0M165.6 98.6h0M167.6 90.9h0M165.5 101.7h0M166.5 92.4h0M170.0 92.0h0M170.4 94.8h0M163.3 92.7h0M170.6 91.8h0M167.0 98.3h0M168.9 101.8h0M170.4 93.4h0M164.5 94.9h0M166.1 98.3h0M170.1 93.9h0M156.9 99.1h0M162.8 96.7h0M151.6 98.5h0M157.5 98.8h0M153.0 92.7h0M160.8 94.5h0M152.9 98.7h0M161.4 98.0h0M155.6 96.5h0M163.0 95.2h0M155.1 96.0h0M156.9 92.1h0M151.5 93.0h0M153.9 94.8h0M155.8 93.1h0" stroke="#b1a23b" stroke-width="1.15" stroke-linecap="round" fill="none"/>
<path d="M152.8,102.0 L155.4,97.9 L159.8,95.6 L162.4,97.8 L163.6,103.0 L163.7,107.4 L161.6,110.5 L156.2,110.6 L152.7,108.4 L152.3,104.9 Z" fill="#ad7dc6"/>
<path d="M154.5 104.0h0M162.0 106.5h0M161.5 109.9h0M161.0 95.9h0M158.9 108.8h0M163.5 109.1h0M154.5 105.5h0M159.6 101.3h0M157.0 103.7h0M156.0 107.2h0M154.6 103.9h0M161.5 104.3h0M162.0 106.6h0M160.8 96.2h0M159.4 95.9h0M158.5 108.1h0M156.7 100.9h0M154.7 105.7h0M155.5 98.9h0M158.2 110.0h0M160.6 101.1h0M160.9 104.5h0M157.6 107.9h0M156.7 111.2h0M163.6 106.3h0M157.4 102.1h0M161.6 105.4h0M154.1 105.7h0M156.6 106.3h0M159.5 100.4h0M162.3 109.1h0M151.6 104.6h0M160.0 101.0h0M159.7 95.0h0M159.4 106.6h0M158.2 99.9h0M157.0 109.0h0M158.5 100.0h0M156.1 107.8h0M157.6 101.0h0M156.6 104.1h0M153.3 109.4h0M160.1 102.6h0M159.3 107.0h0M160.1 103.4h0M161.8 110.9h0M152.5 108.3h0M161.1 102.7h0M155.4 101.0h0M162.5 101.1h0M158.9 100.6h0M163.6 106.6h0M162.7 108.7h0M157.0 108.6h0M155.2 97.8h0M152.0 105.9h0M160.8 107.0h0M162.0 107.8h0M157.9 100.2h0M159.8 100.8h0M156.9 100.0h0M157.0 106.1h0M155.6 103.2h0M158.0 105.1h0M156.0 109.3h0M156.6 104.3h0M158.0 109.6h0M152.5 108.3h0M159.3 103.5h0M159.1 105.0h0M160.8 102.5h0M154.7 101.1h0M152.0 106.9h0M160.7 104.7h0M156.3 100.8h0M159.3 105.6h0M155.0 103.6h0M154.9 107.2h0M157.9 102.9h0M159.9 110.3h0M154.6 109.8h0M157.5 99.0h0M160.6 106.3h0M156.3 97.9h0M152.3 108.5h0M158.2 106.0h0M157.4 110.7h0M159.0 106.2h0M152.1 104.7h0M159.9 106.1h0M156.3 100.5h0M159.3 108.2h0M163.8 103.9h0M154.0 110.2h0M163.4 106.3h0M157.5 111.2h0M156.6 102.2h0M161.2 99.4h0M156.1 97.0h0M157.1 104.0h0M154.0 101.0h0M163.5 99.5h0M157.4 108.4h0M155.1 101.7h0M153.8 108.2h0M152.7 108.6h0M152.2 106.6h0M160.8 103.4h0M162.4 101.2h0M164.1 106.9h0M163.4 107.8h0M153.8 104.9h0M161.8 109.8h0M159.3 104.1h0M163.8 108.9h0M155.3 109.9h0M159.4 97.4h0M159.5 97.0h0M159.3 99.5h0M160.9 102.1h0M162.0 101.7h0M162.6 108.9h0M161.4 102.8h0M155.7 102.3h0M161.5 96.2h0M153.5 102.1h0M156.4 109.4h0M160.5 98.8h0M159.5 104.8h0M162.1 103.7h0M155.2 100.3h0M161.1 96.6h0M154.6 100.8h0M162.5 108.6h0M155.5 101.9h0M160.2 101.2h0M152.2 107.8h0M163.4 104.5h0M156.8 101.0h0M156.6 110.0h0M158.5 107.5h0M158.3 99.7h0M161.8 107.2h0M161.9 105.7h0M160.9 109.1h0M161.7 108.5h0M152.2 103.2h0M156.5 105.6h0M153.5 103.1h0M155.9 111.4h0M156.8 109.4h0M153.8 103.4h0M163.3 107.0h0M161.2 99.1h0M161.5 107.2h0M154.8 99.5h0M163.7 101.6h0M156.8 96.8h0M155.3 103.0h0M161.8 108.7h0M158.9 97.2h0M162.8 103.7h0M163.4 99.7h0M157.1 100.7h0M151.7 106.1h0M156.0 110.2h0M159.0 99.5h0M160.9 107.2h0M164.2 103.0h0M155.6 101.1h0M156.2 108.1h0M162.3 110.6h0M158.0 99.1h0M154.5 108.9h0M158.0 108.7h0M157.8 108.7h0M162.1 105.0h0M154.5 105.5h0M157.3 101.8h0M152.8 105.1h0M154.6 106.1h0M157.2 103.9h0M158.7 105.8h0M161.2 109.1h0M163.3 100.2h0M152.7 105.1h0M156.9 108.1h0M161.6 108.4h0M155.8 106.2h0M161.0 106.3h0M160.4 104.0h0M162.8 108.0h0M157.9 104.4h0M159.2 107.2h0M153.9 103.0h0M159.4 105.3h0M161.5 97.4h0M159.2 101.6h0M162.4 105.7h0M156.5 102.0h0M160.2 106.8h0M157.3 95.9h0M163.4 100.6h0M162.8 107.1h0M162.6 107.2h0M152.6 107.4h0M160.6 95.1h0M152.8 105.1h0M161.6 108.2h0M154.4 110.1h0M159.0 102.0h0M162.5 107.3h0M161.8 96.4h0M152.8 106.6h0M162.5 107.1h0M153.8 101.8h0M163.0 97.5h0M151.8 105.8h0M161.5 106.7h0M159.7 105.1h0M156.5 98.8h0M156.5 97.6h0M157.7 97.3h0M158.0 100.6h0M153.6 100.2h0M158.3 108.9h0M154.8 98.0h0M153.4 102.0h0M162.7 105.1h0M159.9 97.1h0M160.1 101.3h0M161.3 107.8h0M161.4 109.0h0M156.9 110.0h0M157.7 98.3h0M163.2 105.5h0M154.6 101.6h0M158.1 100.7h0M161.0 107.4h0M155.9 104.1h0M157.6 105.1h0M160.4 110.5h0M153.7 105.7h0M154.9 105.2h0M154.4 107.4h0M160.8 110.0h0M156.7 97.5h0M161.9 111.0h0M163.5 106.0h0M160.4 109.6h0M154.5 100.1h0M155.7 111.3h0M156.2 101.8h0M154.1 108.2h0M157.6 110.0h0M161.8 103.3h0M158.3 101.6h0M153.7 103.0h0M161.0 96.7h0M157.7 110.6h0M153.3 105.6h0M161.0 95.9h0M158.5 104.5h0M162.0 98.7h0M159.4 108.8h0M162.8 100.6h0M160.0 105.8h0M159.3 111.4h0M161.6 107.0h0M159.1 96.2h0M155.0 99.5h0M161.3 107.7h0M152.5 102.4h0M161.1 99.4h0M154.8 106.5h0M155.6 107.6h0M157.1 107.0h0M154.5 105.9h0M153.3 107.2h0M154.3 99.0h0M161.2 99.2h0M160.8 111.2h0M161.1 109.5h0M155.4 105.8h0M154.4 108.0h0M159.5 105.4h0M156.6 104.1h0M154.3 98.7h0M158.1 96.2h0M154.0 100.3h0M156.0 108.2h0M161.1 96.9h0M157.3 98.5h0M159.9 107.8h0M153.6 109.5h0M162.8 102.6h0M163.0 106.2h0M158.9 105.9h0M158.1 102.1h0M152.9 108.8h0M154.6 109.8h0M153.0 102.5h0M158.4 99.6h0M157.2 110.4h0M153.7 106.4h0" stroke="#ad7dc6" stroke-width="1.15" stroke-linecap="round" fill="none"/>
<path d="M141.2,119.2 L142.5,117.0 L145.1,115.7 L148.6,114.4 L150.9,114.8 L149.5,117.5 L146.0,120.0 L142.5,120.4 Z" fill="#e0843a"/>
<path d="M145.9 118.3h0M150.6 114.4h0M141.0 118.7h0M145.5 117.8h0M142.0 117.6h0M145.5 115.7h0M146.2 119.6h0M145.7 117.4h0M141.5 118.6h0M148.2 118.4h0M146.8 118.8h0M150.1 114.4h0M141.5 119.0h0M144.6 117.3h0M149.7 114.3h0M150.6 115.1h0M144.0 118.7h0M150.2 115.1h0M146.6 115.2h0M147.3 117.5h0M150.5 116.5h0M144.4 117.8h0M150.2 116.2h0M142.2 118.5h0M148.1 116.6h0M144.5 116.7h0M143.5 116.4h0M142.4 119.5h0M145.6 115.5h0M144.8 119.0h0M142.7 117.1h0M147.6 118.0h0M145.6 117.4h0M144.2 118.0h0M150.8 114.7h0M147.7 115.9h0M149.2 116.0h0M142.8 116.8h0M146.1 115.8h0M148.1 115.7h0M147.7 116.0h0M142.8 120.7h0M142.1 119.9h0M147.8 114.7h0M148.8 117.3h0M147.5 116.7h0M149.8 117.4h0M146.0 120.3h0M148.6 117.1h0M143.0 117.1h0M149.1 115.4h0M144.7 118.2h0M144.9 118.2h0M141.1 118.6h0M148.8 117.0h0M144.1 116.3h0M149.4 115.0h0M144.6 120.0h0M148.9 116.3h0M142.9 117.0h0M142.9 118.4h0M143.8 119.3h0M141.9 117.5h0M150.3 114.9h0M149.3 115.2h0M149.9 115.0h0M147.5 117.6h0M142.9 120.5h0M143.9 117.8h0M144.9 116.9h0M151.1 115.3h0M144.9 117.1h0M147.3 117.1h0M141.8 120.4h0M147.7 108.9h0M149.0 107.6h0M149.1 106.9h0M149.7 108.2h0M149.0 109.3h0M149.3 107.9h0M148.5 108.3h0M150.0 107.9h0M149.4 113.6h0M141.1 113.2h0M148.0 118.0h0M139.3 118.8h0M143.1 115.3h0M136.3 114.8h0M150.2 122.0h0M141.0 120.2h0M145.9 113.7h0M144.6 121.7h0M143.3 112.7h0M139.1 122.1h0M149.0 122.0h0M143.0 113.5h0M138.0 122.0h0M137.0 123.5h0" stroke="#e0843a" stroke-width="1.15" stroke-linecap="round" fill="none"/>
<path d="M218.0,107.1 L220.2,106.9 L221.2,111.2 L220.9,116.2 L220.5,120.5 L218.4,124.1 L215.5,127.0 L213.3,129.5 L209.0,129.9 L204.7,129.2 L205.0,125.6 L207.6,121.3 L210.1,117.7 L212.6,114.1 L215.5,110.5 Z" fill="#9db04a"/>
<path d="M221.7 108.4h0M216.0 127.7h0M204.3 133.2h0M205.7 127.1h0M214.2 112.5h0M209.6 115.9h0M209.8 126.6h0M219.1 103.0h0M216.7 122.4h0M203.7 128.9h0M207.3 128.1h0M218.5 122.7h0M211.6 120.9h0M212.9 116.1h0M213.1 124.6h0M204.9 128.7h0M217.4 108.5h0M217.6 113.2h0M212.6 115.6h0M202.6 129.1h0M217.9 114.5h0M204.8 133.5h0M210.7 114.3h0M218.9 107.6h0M217.8 127.2h0M222.3 104.5h0M216.1 127.0h0M210.3 117.9h0M209.8 121.9h0M207.8 130.6h0M212.9 121.2h0M222.4 110.4h0M214.3 128.0h0M212.7 123.1h0M209.1 118.4h0M216.6 109.4h0M205.7 133.6h0M219.3 108.7h0M210.6 133.3h0M209.1 118.9h0M216.0 117.8h0M216.5 128.7h0M205.6 128.6h0M222.4 103.9h0M217.6 118.8h0M210.5 129.8h0M203.0 131.1h0M215.8 115.1h0M207.8 121.3h0M221.7 117.7h0M218.2 106.3h0M219.5 123.9h0M205.3 125.3h0M221.3 105.7h0M210.3 117.6h0M206.6 128.6h0M207.2 132.4h0M217.5 117.2h0M221.3 121.1h0M220.0 105.0h0M209.3 118.1h0M211.1 125.6h0M208.6 129.2h0M208.2 127.2h0M207.0 127.1h0M217.0 114.3h0M208.5 122.8h0M215.3 124.7h0M222.4 105.9h0M216.8 116.6h0M208.9 127.7h0M213.9 131.1h0M202.9 127.8h0M202.4 132.9h0M214.5 128.0h0M215.9 125.9h0M207.2 120.7h0M213.3 113.1h0M216.6 119.9h0M216.7 126.3h0M216.2 108.2h0M220.8 115.0h0M220.7 102.9h0M216.0 122.9h0M209.9 123.6h0M213.0 111.4h0M220.0 109.4h0M205.6 121.3h0M212.5 119.5h0M219.6 115.0h0M210.6 118.4h0M210.5 126.3h0M223.1 109.2h0M213.3 112.0h0M219.1 117.4h0M216.5 112.4h0M213.6 123.8h0M219.6 113.0h0M211.3 119.2h0M212.8 127.7h0M223.0 109.6h0M205.3 125.9h0M221.0 122.2h0M211.5 130.4h0M209.5 121.3h0M203.5 132.6h0M221.9 120.4h0M219.9 111.3h0M213.4 121.3h0M207.1 125.1h0M218.9 125.0h0M210.8 126.0h0M201.1 132.7h0M211.6 131.4h0M211.4 115.6h0M213.2 132.5h0M207.5 121.6h0M223.4 106.4h0M215.8 123.5h0M217.2 121.6h0M222.2 110.8h0M212.9 113.8h0M213.1 122.0h0M221.5 106.4h0M217.5 107.4h0M216.4 116.4h0M222.0 119.9h0M222.2 103.3h0M213.4 113.8h0M206.2 132.3h0M215.5 115.1h0M217.7 124.4h0M208.1 132.3h0M205.4 131.2h0M219.0 114.0h0M208.0 123.8h0M207.6 120.3h0M206.3 122.7h0M209.9 123.0h0M215.9 126.5h0M209.2 118.7h0M211.5 122.1h0M206.2 132.3h0M219.1 126.4h0M203.0 127.7h0M223.1 118.3h0M216.9 127.3h0M205.7 127.2h0M218.9 116.8h0M206.8 125.0h0M219.0 115.4h0M210.1 121.4h0M205.9 132.6h0M206.9 121.7h0M221.4 109.8h0M212.3 113.8h0M212.1 113.7h0M209.2 128.9h0M206.9 126.9h0M215.7 113.2h0M217.0 124.8h0M208.1 131.1h0M215.9 110.8h0M209.2 133.4h0M208.6 131.3h0M221.2 114.3h0M215.1 125.8h0M220.2 117.2h0M213.9 111.4h0M217.3 113.7h0M221.4 106.6h0M214.1 129.4h0M212.0 112.6h0M213.0 119.9h0M209.3 128.4h0M214.9 113.9h0M215.0 113.8h0M207.4 130.9h0M212.6 111.6h0M217.8 114.8h0M215.3 111.0h0M218.5 115.2h0M213.6 114.5h0M210.3 115.4h0M214.4 127.3h0M219.1 111.2h0M212.1 120.1h0M221.1 110.9h0M210.8 120.1h0M220.8 105.9h0M220.4 109.3h0M202.3 127.8h0M207.4 125.2h0M206.1 125.6h0M213.5 115.6h0M217.4 109.3h0M214.8 122.7h0M213.0 111.0h0M219.3 121.8h0M216.0 107.5h0M221.8 113.8h0M213.2 117.0h0M211.3 119.2h0M221.9 105.8h0M208.1 119.3h0M216.6 119.0h0M210.6 115.0h0M205.6 127.1h0M213.9 119.8h0M215.2 125.0h0M211.8 116.9h0M205.5 123.4h0M214.2 109.7h0M220.6 116.5h0M220.5 108.7h0M203.5 131.1h0M217.5 124.2h0M209.9 121.5h0M220.2 111.5h0M221.6 105.8h0M213.9 112.1h0M212.0 119.8h0M209.0 129.3h0M222.7 115.1h0M216.5 124.9h0M214.1 118.8h0M212.5 130.1h0M216.9 118.4h0M208.7 123.7h0M215.4 110.2h0M213.1 128.8h0M215.1 123.8h0M214.1 127.4h0M210.5 130.4h0M217.8 126.5h0M205.4 128.4h0M213.0 130.5h0M222.6 108.6h0M203.5 129.6h0M213.0 120.8h0M222.0 105.5h0M207.2 132.8h0M203.0 125.8h0M220.2 112.3h0M208.0 128.2h0M210.1 116.2h0M205.1 124.3h0M211.0 128.3h0M223.4 114.9h0M214.2 131.3h0M215.7 120.9h0M202.6 131.8h0M205.0 131.7h0M213.3 124.3h0M220.1 118.6h0M217.9 119.8h0M213.6 123.7h0M211.1 115.2h0M220.4 113.7h0M206.7 122.3h0M208.4 119.6h0M215.9 111.1h0M201.9 130.9h0M214.9 122.2h0M213.9 121.8h0M222.3 116.7h0M214.1 126.7h0M219.0 123.5h0M213.7 112.7h0M208.4 127.1h0M223.0 104.9h0M202.6 129.9h0M213.6 121.8h0M204.2 133.2h0M212.9 115.6h0M210.4 119.1h0M220.0 121.0h0M214.7 128.9h0M220.6 111.1h0M215.9 129.3h0M214.7 108.7h0M219.2 115.4h0M219.9 104.4h0M215.5 113.1h0M202.9 127.8h0M215.8 110.3h0M210.1 118.7h0M216.6 114.5h0M213.0 128.2h0M207.2 126.2h0M215.5 124.5h0M204.5 131.8h0M212.6 133.1h0M219.7 108.6h0M215.8 116.8h0M205.4 132.7h0M213.5 116.2h0M216.7 108.6h0M205.2 122.7h0M212.3 128.9h0M216.5 126.1h0M223.1 106.1h0M210.2 122.4h0M208.6 117.5h0M218.9 125.6h0M209.5 127.3h0M207.0 122.9h0M203.8 124.2h0M218.1 120.3h0M219.1 126.1h0M215.2 116.8h0M218.4 118.9h0M203.5 124.6h0M219.5 110.8h0M214.9 123.6h0M220.8 106.9h0M206.0 127.8h0M208.9 119.2h0M205.3 123.9h0M219.0 121.1h0M216.5 126.5h0M216.4 111.9h0M201.8 132.9h0M213.0 121.8h0M206.9 129.6h0M203.0 129.4h0M201.7 131.2h0M219.4 116.0h0M214.1 131.1h0M219.4 105.0h0M220.7 112.6h0M220.6 106.3h0M218.4 113.7h0M203.0 125.8h0M219.5 114.2h0M216.6 128.4h0M209.3 119.9h0M208.2 123.8h0M217.4 109.9h0M213.7 118.2h0M222.3 109.7h0M206.9 122.2h0M218.0 110.9h0M209.4 129.0h0M210.1 125.3h0M221.9 118.0h0M215.9 128.9h0M222.0 105.5h0M215.7 113.8h0M218.1 123.3h0M207.0 127.8h0M207.0 125.0h0M211.6 115.1h0M213.8 118.4h0M215.6 129.0h0M208.5 124.8h0M216.1 118.9h0M216.8 114.8h0M215.2 118.5h0M217.2 121.7h0M212.0 132.1h0M217.4 123.0h0M213.4 120.6h0M210.6 124.6h0M216.1 115.9h0M215.0 127.0h0M203.0 128.8h0M221.6 118.9h0M215.7 115.5h0M214.8 119.8h0M216.7 124.1h0M213.5 122.8h0M220.8 109.7h0M211.0 125.3h0M214.1 116.6h0M210.4 122.5h0M218.0 123.5h0M215.4 115.8h0M218.3 108.0h0M214.2 114.3h0M212.8 129.1h0M223.7 110.9h0M203.8 128.3h0M216.5 112.8h0M201.5 128.9h0M209.5 132.3h0M220.6 110.1h0M209.2 120.8h0M207.5 123.6h0M217.6 126.6h0M215.8 116.5h0M210.6 115.7h0M219.8 110.0h0M208.6 117.6h0M210.6 116.1h0M219.1 105.2h0M220.5 113.3h0M209.3 125.6h0M211.5 122.3h0M218.6 124.9h0M204.1 128.1h0M219.5 112.9h0M211.8 112.5h0M215.9 121.8h0M220.3 123.4h0M219.9 124.7h0M208.8 122.7h0M202.4 129.1h0M211.3 129.9h0M213.0 114.1h0M209.0 117.7h0M206.5 122.0h0M214.5 127.5h0M201.9 130.8h0M218.1 116.0h0M205.4 132.9h0M204.7 127.2h0M215.7 108.4h0M210.3 119.2h0M218.4 112.0h0M204.2 132.0h0M203.5 133.3h0M217.4 122.8h0M205.4 125.5h0M211.4 114.4h0M221.2 113.3h0M218.2 118.2h0M216.3 128.9h0M217.1 126.6h0M209.3 128.4h0M210.4 120.9h0M213.1 127.4h0M202.7 130.3h0M207.8 125.6h0M218.3 125.2h0M205.9 123.7h0M208.0 120.1h0M205.7 125.0h0M219.5 115.5h0M222.8 107.7h0M214.6 130.7h0M206.9 131.3h0M216.9 127.7h0M217.5 121.9h0M219.8 112.6h0M219.7 123.5h0M203.0 132.3h0M219.5 118.7h0M217.3 105.7h0M219.6 106.5h0M213.1 128.5h0M221.4 118.1h0M218.7 111.7h0M218.8 103.9h0M218.4 125.5h0M223.0 117.5h0M213.5 115.0h0M218.8 106.5h0M206.9 123.2h0M220.3 106.0h0M213.7 116.1h0M212.0 125.6h0M221.2 115.3h0M214.1 126.1h0M217.2 113.7h0M218.7 121.3h0M213.9 115.4h0M214.9 117.0h0M218.8 108.0h0M208.9 126.8h0M223.0 107.7h0M220.6 104.0h0M212.9 111.1h0M207.2 124.7h0M210.6 121.8h0M204.0 131.8h0M215.0 112.0h0M216.3 115.4h0M211.2 125.5h0M219.2 110.1h0M218.6 109.7h0M218.3 113.1h0M210.9 130.0h0M213.2 130.8h0M211.6 128.5h0M211.2 123.3h0M216.5 112.9h0M206.4 124.9h0M221.9 110.9h0M208.1 127.5h0M202.2 127.8h0M221.7 118.3h0M222.3 106.5h0M205.6 127.9h0M204.0 132.0h0M219.2 112.6h0M218.2 118.0h0M217.8 106.4h0M217.8 113.7h0M215.9 108.4h0M209.5 128.4h0M215.4 127.0h0M210.9 131.4h0M219.2 117.2h0M216.5 127.2h0M220.3 107.0h0M214.9 122.3h0M214.3 127.7h0M220.0 125.8h0M215.6 116.0h0M220.9 117.9h0M207.7 120.8h0M210.9 130.8h0M222.7 116.3h0M221.6 109.0h0M215.7 125.9h0M219.2 122.1h0M217.5 126.1h0M208.3 128.8h0M206.1 127.2h0M211.8 116.6h0M212.3 125.9h0M217.4 124.0h0M219.7 123.8h0M215.7 123.3h0M217.6 123.8h0M208.6 128.4h0M215.1 121.5h0M218.2 118.1h0M206.0 133.6h0M223.0 112.9h0M213.2 120.8h0M211.9 113.6h0M204.6 132.5h0M212.1 112.6h0M219.7 119.1h0M213.1 122.1h0M222.8 113.7h0M206.8 124.0h0M214.4 123.7h0M218.9 103.5h0M213.0 120.1h0M208.4 120.1h0M215.8 113.5h0M217.5 113.8h0M206.9 127.0h0M205.2 127.0h0M201.5 129.1h0M215.3 119.0h0M207.3 125.5h0M222.6 107.3h0M222.0 106.5h0M220.5 114.7h0M216.7 128.5h0M208.1 125.6h0M223.7 107.8h0M210.2 126.4h0M222.6 103.5h0M215.3 115.3h0M217.4 110.7h0M210.5 116.5h0M209.1 121.9h0M214.1 126.8h0M207.7 130.5h0M210.9 114.1h0M218.9 126.6h0M213.6 111.5h0M208.0 131.5h0M219.0 103.6h0M219.0 115.1h0M218.9 113.8h0M209.8 131.0h0M207.8 129.2h0M214.9 130.6h0M220.8 114.2h0M217.8 107.0h0M214.1 115.1h0M207.6 130.6h0M214.4 131.1h0M221.0 122.6h0M210.4 118.2h0M206.2 127.1h0M218.6 120.8h0M221.9 112.8h0M218.2 113.7h0M228.1 123.5h0M214.5 113.7h0M224.5 126.5h0M217.5 126.4h0M229.3 106.0h0M228.7 119.8h0M221.3 124.8h0M226.9 106.2h0M229.7 122.0h0M225.2 118.4h0M219.6 116.9h0M216.5 111.3h0M233.2 121.9h0M215.9 110.1h0M218.4 109.2h0M231.2 113.0h0M215.1 127.8h0M217.2 114.3h0M222.2 108.3h0M217.3 114.2h0M214.9 122.6h0M231.1 119.4h0M217.8 121.5h0M234.1 124.0h0M215.1 111.7h0M220.0 113.0h0M226.6 124.7h0M216.2 113.8h0M224.5 116.8h0M224.7 124.2h0M227.2 119.5h0M234.4 126.0h0M223.0 105.3h0M234.0 119.3h0M218.8 116.7h0M228.4 114.4h0M223.4 111.8h0M231.1 113.7h0M225.5 123.8h0M232.8 116.0h0M217.4 110.1h0M219.8 121.0h0M226.0 123.8h0M228.0 114.3h0M203.3 101.8h0M218.6 100.6h0M217.3 99.2h0M217.3 103.1h0M200.4 99.4h0M203.0 105.6h0M224.2 99.9h0M213.9 105.1h0M206.5 100.8h0M201.2 100.3h0" stroke="#9db04a" stroke-width="1.15" stroke-linecap="round" fill="none"/>
<path d="M191.7,136.0 L200.5,135.2 L209.3,133.8 L215.2,133.4 L214.6,137.4 L211.9,141.8 L208.4,145.3 L204.9,147.8 L200.5,145.3 L195.2,142.6 L191.7,141.3 Z" fill="#6cbfc7"/>
<path d="M184.2 136.7h0M176.1 138.3h0M164.5 141.5h0M187.0 142.4h0M177.6 139.3h0M178.2 140.3h0M172.1 140.7h0M186.5 142.0h0M179.6 136.4h0M162.3 140.0h0M188.3 138.9h0M178.1 140.4h0M168.7 140.3h0M161.3 140.2h0M161.3 140.6h0M163.8 138.2h0M168.3 143.6h0M176.9 141.3h0M167.2 141.2h0M185.2 138.2h0M176.9 140.6h0M173.8 143.0h0M173.8 142.7h0M167.7 140.3h0M177.1 137.8h0M167.5 140.4h0M170.3 139.8h0M176.4 141.3h0M180.2 137.4h0M170.5 139.9h0M183.1 140.3h0M171.4 139.5h0M189.4 142.1h0M164.7 139.3h0M178.4 137.7h0M171.3 139.7h0M174.6 141.3h0M163.7 140.1h0M170.8 139.4h0M166.1 141.1h0M181.7 140.2h0M184.8 138.5h0M185.2 139.9h0M189.2 139.0h0M172.3 140.9h0M180.5 140.1h0M190.5 137.5h0M176.0 139.2h0M176.6 139.3h0M181.0 140.5h0M161.0 140.7h0M187.1 137.7h0M173.3 139.8h0M184.2 140.4h0M164.3 141.3h0M175.8 140.4h0M178.3 143.3h0M184.7 139.7h0M179.1 141.2h0M179.9 139.2h0M189.5 137.1h0M168.7 140.3h0M174.4 140.7h0M188.2 140.3h0M174.6 140.2h0M178.9 139.3h0M176.1 138.6h0M191.1 138.7h0M181.8 140.7h0M184.8 141.8h0M161.0 138.4h0M172.7 140.9h0M184.0 142.0h0M165.4 141.5h0M185.0 140.5h0M189.5 141.2h0M184.3 138.7h0M183.1 139.6h0M168.8 140.8h0M163.8 139.5h0M190.0 137.5h0M173.5 140.3h0M188.7 136.3h0M181.4 139.9h0M189.7 135.8h0M160.8 140.6h0M185.6 139.7h0M183.6 138.5h0M178.0 138.3h0M165.2 139.9h0M166.4 138.1h0M189.7 138.5h0M172.5 140.2h0M184.2 142.3h0M191.2 138.2h0M167.3 140.1h0M162.2 141.4h0M161.2 141.6h0M173.8 139.3h0M186.5 142.0h0M185.7 142.3h0M178.9 140.8h0M160.1 139.9h0M167.9 139.2h0M164.8 140.8h0M165.1 142.4h0M164.2 140.2h0M161.1 141.5h0M176.2 143.0h0M170.9 138.5h0M171.3 139.3h0M168.9 141.9h0M185.4 141.8h0M169.3 140.8h0M165.0 140.3h0M169.1 140.9h0M167.9 139.5h0M171.2 143.4h0M172.1 138.5h0M167.2 138.4h0M180.1 140.1h0M165.0 141.6h0M189.1 138.3h0M188.3 139.4h0M175.7 138.3h0M183.4 139.6h0M166.8 139.2h0M169.3 139.0h0M189.0 135.9h0M175.1 139.1h0M183.8 143.6h0M186.0 139.5h0M182.5 140.1h0M174.6 143.4h0M172.1 139.2h0M161.9 139.7h0M187.7 140.8h0M182.1 137.3h0M162.0 140.7h0M186.8 142.3h0M169.1 138.9h0M187.2 138.4h0M164.8 141.8h0M160.7 139.8h0M187.4 138.0h0M188.5 140.1h0M175.8 139.5h0M189.2 137.4h0M162.9 141.6h0M164.8 139.8h0M191.1 140.3h0M190.0 138.5h0M182.2 139.3h0M170.7 138.4h0M182.9 141.6h0M160.0 140.2h0M171.4 141.8h0M187.2 136.9h0M167.3 139.7h0M164.1 140.8h0M175.7 140.2h0M181.5 138.5h0M169.9 140.0h0M186.1 136.7h0M189.0 139.7h0M166.9 137.5h0M172.3 140.3h0M186.8 142.7h0M176.1 141.4h0M184.0 141.5h0M170.0 139.6h0M186.2 140.7h0M186.7 138.7h0M184.8 139.5h0M188.1 139.3h0M172.4 135.4h0M176.6 141.5h0M185.9 140.7h0M183.2 141.5h0M177.1 138.3h0M161.1 140.9h0M167.0 140.8h0M174.4 136.6h0M184.0 135.9h0M189.0 139.7h0M191.5 137.7h0M172.3 140.1h0M190.9 137.8h0M172.3 142.1h0M165.8 138.5h0M189.6 136.1h0M163.4 139.6h0M175.2 137.9h0M184.8 138.4h0M180.1 139.8h0M187.1 136.5h0M177.0 140.5h0M174.3 142.0h0M170.9 141.5h0M180.1 143.6h0M178.1 141.9h0M176.3 139.9h0M181.9 143.3h0M176.2 141.1h0M182.3 143.5h0M176.0 139.7h0M184.7 135.1h0M166.5 139.1h0M171.5 140.4h0M169.8 140.8h0M188.1 139.1h0M178.6 141.7h0M190.0 136.6h0M177.8 138.7h0M190.0 142.0h0M183.7 139.8h0M188.6 139.8h0M169.6 141.9h0M191.9 142.4h0M169.6 139.2h0M194.0 142.4h0M202.0 144.7h0M213.4 140.3h0M204.2 142.3h0M201.3 135.9h0M205.9 144.3h0M200.6 137.3h0M206.6 145.0h0M195.8 140.0h0M210.2 139.6h0M191.9 140.7h0M206.2 142.3h0M207.5 145.9h0M197.2 136.6h0M199.7 138.1h0M205.5 139.5h0M205.7 147.4h0M193.9 138.5h0M207.3 138.0h0M212.3 138.6h0M216.1 134.5h0M202.7 139.9h0M212.8 136.8h0M203.0 142.8h0M203.4 147.2h0M203.7 141.3h0M205.7 135.5h0M203.5 142.8h0M205.4 143.2h0M190.4 137.8h0M208.6 135.5h0M191.0 138.2h0M203.4 145.3h0M194.0 137.7h0M200.8 145.5h0M211.6 138.4h0M204.3 136.2h0M191.9 139.9h0M190.8 135.9h0M213.6 135.2h0M209.3 136.5h0M201.5 143.6h0M195.7 138.1h0M210.3 134.3h0M212.7 137.6h0M200.5 137.6h0M200.2 144.6h0M205.4 140.5h0M213.9 136.0h0M204.6 136.2h0M207.0 135.6h0M195.8 139.4h0M192.1 142.1h0M192.4 140.4h0M204.0 136.0h0M208.5 144.3h0M201.7 140.1h0M204.6 141.3h0M201.7 137.1h0M190.2 137.3h0M215.3 134.6h0M202.9 135.3h0M194.4 139.1h0M207.1 138.2h0M205.4 136.9h0M208.9 135.4h0M201.7 141.3h0M190.0 138.9h0M195.4 135.7h0M200.9 145.4h0M203.0 138.8h0M206.9 135.9h0M204.0 144.4h0M191.4 141.3h0M208.3 143.1h0M200.7 143.0h0M208.4 145.4h0M209.4 141.6h0M195.7 143.8h0M208.4 138.3h0M205.3 148.5h0M196.1 136.3h0M200.1 141.7h0M209.0 145.8h0M202.8 143.1h0M200.8 145.6h0M195.8 143.2h0M213.5 134.4h0M200.1 144.6h0M197.3 140.2h0M211.4 140.5h0M200.2 137.7h0M199.7 140.4h0M201.8 144.3h0M200.5 144.9h0M211.9 136.6h0M210.1 138.6h0M195.5 137.0h0M206.8 140.8h0M206.8 139.3h0M203.6 135.9h0M208.2 139.9h0M205.0 147.5h0M207.2 145.0h0M213.7 137.5h0M210.9 143.5h0M214.2 133.7h0M192.8 142.3h0M210.1 133.2h0M202.4 138.7h0M203.0 135.4h0M198.1 135.1h0M204.4 138.8h0M204.3 147.8h0M199.9 138.5h0M203.3 144.1h0M191.7 139.4h0M193.8 138.4h0M196.0 135.8h0M201.4 143.5h0M204.4 142.6h0M206.5 135.8h0M209.7 133.2h0M205.1 137.3h0M191.4 141.9h0M205.9 141.5h0M206.2 142.4h0M203.4 138.5h0M195.5 139.7h0M206.7 136.4h0M210.6 139.3h0M192.0 138.8h0M210.3 135.5h0M202.0 141.9h0M206.8 141.2h0M192.2 137.4h0M209.5 134.4h0M209.9 138.1h0M202.5 135.3h0M205.3 138.6h0M204.0 144.4h0M209.7 136.2h0M214.2 134.2h0M213.5 132.9h0M193.6 142.5h0M205.0 142.2h0M204.2 147.4h0M203.5 143.1h0M205.6 134.0h0M212.0 139.8h0M206.1 136.0h0M203.8 137.5h0M211.2 138.8h0M199.0 137.5h0M200.8 139.2h0M213.9 138.0h0M199.1 143.8h0M198.3 143.6h0M215.2 137.7h0M197.7 139.6h0M204.2 144.9h0M192.0 138.9h0M206.6 147.6h0M208.1 139.3h0M202.3 136.1h0M201.5 146.7h0M212.3 140.6h0M209.1 137.7h0M205.6 144.3h0M203.6 135.9h0M204.2 143.8h0M199.1 137.6h0M204.1 141.4h0M206.2 140.4h0M199.1 143.3h0M207.6 138.2h0M206.1 142.0h0M193.2 137.2h0M203.2 134.2h0M202.7 135.0h0M209.6 144.3h0M214.9 135.6h0M200.4 139.2h0M215.5 135.1h0M210.0 139.3h0M215.4 134.1h0M210.8 140.2h0M202.0 142.3h0M210.0 139.1h0M209.0 139.4h0M204.6 143.7h0M207.5 141.8h0M199.8 136.8h0M190.9 139.1h0M205.2 140.2h0M207.6 133.8h0M210.9 138.8h0M197.8 140.1h0M204.4 145.7h0M207.1 136.7h0M202.6 137.4h0M204.2 148.1h0M204.3 147.6h0M193.0 140.6h0M215.7 134.0h0M203.4 146.5h0M208.0 143.7h0M196.7 140.9h0M206.4 138.3h0M213.7 134.1h0M195.4 138.0h0M213.6 134.8h0M192.0 139.4h0M212.0 141.9h0M210.8 136.4h0M211.2 134.0h0M209.2 142.7h0M192.1 141.1h0M212.8 139.0h0M192.5 142.2h0M202.6 144.7h0M211.4 143.1h0M200.5 143.9h0M203.9 136.8h0M194.6 140.5h0M211.9 141.4h0M202.0 139.2h0M213.8 133.1h0M201.6 135.9h0M198.5 144.7h0M215.1 136.9h0M208.0 146.0h0M212.3 141.4h0M211.8 133.0h0M208.1 146.0h0M205.1 135.0h0M215.2 134.6h0M209.1 143.1h0M193.8 138.5h0M198.0 143.1h0M194.0 141.7h0M207.5 136.4h0M215.9 134.6h0M206.8 139.2h0M211.9 136.7h0M206.5 145.9h0M214.0 140.1h0M198.9 141.1h0M210.0 143.9h0M204.3 135.2h0M212.0 132.9h0M205.1 138.9h0M197.4 136.2h0M197.2 135.3h0M203.7 138.3h0M213.4 140.2h0M193.1 138.2h0M208.8 134.8h0M200.0 137.4h0M196.6 136.9h0M207.3 138.8h0M202.8 138.1h0M205.1 140.9h0M207.6 139.1h0M200.9 141.2h0M197.1 136.9h0M201.1 138.0h0M203.9 139.5h0M194.0 136.3h0M210.6 134.1h0M215.0 133.5h0M205.2 141.8h0M203.0 145.3h0M201.7 143.1h0M211.5 133.8h0M206.1 144.3h0M194.2 140.9h0M199.2 138.2h0M205.3 136.5h0M203.1 147.5h0M194.5 142.0h0M207.3 138.4h0M196.6 143.2h0M210.6 139.7h0M212.8 135.1h0M207.6 137.7h0M194.9 141.9h0M202.2 140.8h0M194.4 137.3h0M194.2 142.4h0M209.8 140.9h0M206.7 134.2h0M209.2 141.0h0M213.5 135.5h0M208.8 135.8h0M216.2 134.7h0M195.2 135.6h0M202.8 136.8h0M211.1 134.3h0M203.6 142.1h0M207.8 144.7h0M208.5 140.8h0M206.7 146.1h0M200.2 145.6h0M210.0 139.9h0M215.9 134.8h0M203.7 134.0h0M216.2 135.3h0M195.6 138.3h0M202.8 141.6h0M192.4 136.5h0M203.7 137.5h0M201.6 139.0h0M206.1 146.4h0M191.4 142.0h0M208.3 136.7h0M209.3 141.8h0M212.6 137.2h0M206.6 136.3h0M191.5 139.1h0M205.9 146.3h0M206.6 137.1h0M212.8 139.3h0M191.8 140.8h0M214.9 134.1h0M209.2 135.3h0M205.7 135.3h0M201.0 138.6h0M205.9 143.0h0M206.2 133.7h0M195.4 141.0h0M195.5 143.4h0M199.1 138.3h0M200.5 138.9h0M198.9 145.5h0M198.0 140.4h0M200.2 140.5h0M213.0 138.9h0M205.0 143.3h0M211.7 134.2h0M199.9 144.3h0M199.8 144.3h0M204.4 141.1h0M194.8 141.9h0M207.0 138.2h0M206.8 146.7h0M210.4 135.6h0M201.8 145.1h0M214.3 133.3h0M190.5 137.4h0M205.7 147.7h0M206.4 142.0h0M210.3 136.0h0M199.1 140.6h0M195.3 135.3h0M205.4 147.4h0M194.6 140.7h0M193.3 136.9h0M216.4 133.3h0M196.8 141.6h0M201.4 138.7h0M205.6 136.9h0M209.6 136.4h0M201.3 143.6h0M194.4 141.2h0M202.4 144.7h0M198.4 141.3h0M200.1 138.0h0M202.3 144.0h0M194.4 135.2h0M210.9 133.2h0M194.3 140.7h0M190.7 136.2h0M203.8 140.2h0M204.3 143.4h0M202.2 146.8h0M210.0 143.2h0M212.0 137.1h0M210.8 135.4h0M211.9 141.9h0M211.5 142.2h0M210.2 139.0h0M194.9 135.4h0M203.7 147.7h0M208.8 143.6h0M203.6 143.8h0M198.6 141.2h0M194.6 141.2h0M214.1 133.7h0M199.7 136.1h0M199.6 142.6h0M190.9 141.5h0M196.9 142.0h0M216.0 135.1h0M196.9 139.5h0M199.4 136.9h0M212.4 141.7h0M200.6 137.7h0M211.6 140.2h0M199.8 145.7h0M197.5 143.1h0M204.7 141.7h0M208.0 137.2h0M205.2 143.1h0M209.2 137.1h0M201.5 137.6h0M199.2 138.8h0M204.9 134.3h0M198.4 136.8h0M200.9 143.9h0M207.1 139.5h0M209.3 134.5h0M208.0 135.1h0M195.8 137.2h0M212.6 135.7h0M214.0 139.6h0M206.9 144.4h0M209.6 135.1h0M209.4 141.3h0M207.8 136.1h0M193.7 136.1h0M205.7 137.5h0M201.9 138.4h0M212.7 132.8h0M203.4 138.7h0M210.6 142.2h0M215.4 136.3h0M194.0 137.8h0M209.7 143.2h0M207.8 142.8h0M215.6 134.5h0M203.2 138.6h0M207.1 142.8h0M204.4 140.8h0M207.8 146.9h0M208.0 144.3h0M193.9 139.5h0M191.5 136.1h0M210.1 138.3h0M213.2 134.6h0M207.7 145.0h0M206.2 147.5h0M208.1 136.5h0M209.2 145.5h0M208.0 133.6h0M211.7 135.9h0M194.2 140.3h0M203.9 140.1h0M203.5 144.5h0M213.2 139.4h0M204.2 142.9h0M196.6 137.3h0M196.9 138.0h0M214.2 138.3h0M193.3 135.5h0M200.9 141.0h0M195.9 139.0h0M194.5 142.5h0M194.4 137.7h0M210.7 137.9h0M199.8 142.5h0M205.8 144.8h0M199.3 144.6h0M211.7 137.4h0M210.5 134.3h0M202.3 141.9h0M211.1 133.6h0M201.9 143.1h0M201.8 138.6h0M204.8 139.8h0M206.0 145.3h0M203.2 138.7h0M208.5 138.2h0M209.5 143.3h0M204.5 145.1h0M203.0 136.5h0M191.0 138.1h0M210.3 136.5h0M211.0 139.7h0M209.2 142.9h0M202.2 140.0h0M202.4 146.9h0M212.0 142.1h0M205.8 148.3h0M207.1 145.6h0M212.4 136.0h0M199.0 138.1h0M210.1 139.1h0M206.4 139.8h0M199.1 137.8h0M212.5 138.7h0M210.1 135.8h0M203.5 139.0h0M214.2 139.8h0" stroke="#6cbfc7" stroke-width="1.15" stroke-linecap="round" fill="none"/>
<path d="M55.9,160.2 L57.3,155.8 L60.9,153.2 L65.3,152.3 L69.7,152.1 L74.1,153.2 L77.6,156.3 L79.3,160.2 L78.9,165.5 L76.7,169.9 L72.3,172.6 L66.1,173.1 L60.9,171.7 L57.3,168.2 L56.0,164.6 Z" fill="#d66999"/>
<path d="M60.0 171.5h0M55.6 156.7h0M68.2 155.7h0M71.4 159.5h0M77.3 163.6h0M55.6 160.4h0M70.2 159.4h0M62.9 161.5h0M58.2 156.6h0M77.5 167.6h0M62.7 164.7h0M76.9 159.1h0M78.4 167.6h0M61.1 169.4h0M77.6 155.2h0M78.6 160.1h0M77.9 168.6h0M71.3 152.4h0M68.4 169.3h0M77.2 168.9h0M77.0 155.8h0M78.1 160.1h0M68.1 167.0h0M57.2 162.9h0M63.5 169.4h0M62.3 155.7h0M71.0 160.8h0M61.5 158.6h0M69.2 170.7h0M62.6 158.7h0M66.8 168.1h0M71.4 161.2h0M76.1 155.1h0M55.5 165.7h0M66.4 154.6h0M63.0 153.6h0M71.1 171.2h0M73.5 172.1h0M73.4 159.1h0M58.6 159.5h0M58.3 165.2h0M77.4 165.5h0M62.7 164.7h0M72.9 157.1h0M70.3 158.0h0M60.6 171.6h0M72.2 173.2h0M56.6 157.3h0M77.9 165.2h0M72.7 167.6h0M71.0 156.2h0M67.0 173.8h0M75.5 161.4h0M66.1 163.0h0M71.4 159.1h0M64.9 160.3h0M66.7 173.1h0M75.7 171.7h0M71.5 169.1h0M59.0 165.5h0M71.1 151.4h0M62.5 173.6h0M60.9 169.4h0M77.6 163.4h0M54.7 162.7h0M76.2 165.8h0M63.7 168.1h0M75.9 163.9h0M62.1 159.2h0M68.2 152.7h0M58.2 160.3h0M61.8 153.1h0M71.6 159.9h0M72.4 171.6h0M58.9 169.8h0M71.4 162.9h0M70.5 161.0h0M61.8 164.1h0M72.5 171.9h0M70.0 173.6h0M71.9 157.5h0M76.7 169.1h0M79.3 159.9h0M58.5 161.6h0M60.9 160.3h0M57.9 154.7h0M74.4 164.5h0M71.0 154.5h0M62.5 169.3h0M57.9 169.0h0M64.0 163.7h0M57.0 165.1h0M66.2 166.6h0M58.7 166.7h0M55.9 160.2h0M74.4 170.2h0M74.7 156.2h0M71.8 163.4h0M68.5 164.5h0M65.4 166.3h0M63.3 153.6h0M62.9 156.5h0M73.9 156.4h0M75.4 162.9h0M67.9 155.4h0M69.2 173.9h0M78.0 170.7h0M60.8 159.7h0M70.0 165.8h0M70.3 168.1h0M70.5 159.3h0M62.1 164.7h0M66.6 159.8h0M67.9 170.9h0M75.5 156.2h0M80.1 161.5h0M75.6 165.0h0M67.3 152.2h0M71.6 158.9h0M68.8 168.9h0M75.8 163.7h0M65.2 159.0h0M65.0 162.4h0M69.0 153.6h0M65.6 172.7h0M65.7 154.2h0M67.9 169.5h0M58.7 165.9h0M70.3 169.3h0M70.6 154.0h0M78.1 159.3h0M63.7 159.0h0M70.8 156.1h0M61.1 156.4h0M64.7 158.1h0M61.8 159.9h0M64.7 169.6h0M62.3 168.6h0M65.4 168.5h0M62.1 162.5h0M61.2 162.9h0M63.5 155.1h0M72.3 171.9h0M71.0 159.7h0M75.9 164.4h0M56.5 159.5h0M60.4 171.6h0M67.7 168.8h0M56.1 167.5h0M71.6 156.0h0M71.7 171.9h0M56.9 162.1h0M70.9 153.5h0M65.8 169.9h0M77.5 159.0h0M69.7 153.1h0M68.4 170.9h0M61.7 155.7h0M66.5 155.4h0M75.0 160.5h0M61.8 157.4h0M80.2 160.7h0M58.1 167.3h0M62.8 161.5h0M55.6 160.6h0M65.5 167.4h0M73.8 168.6h0M58.6 156.6h0M61.5 157.6h0M63.3 160.1h0M72.7 170.7h0M56.9 166.4h0M60.1 159.0h0M66.3 158.3h0M74.6 159.3h0M56.6 160.0h0M80.1 161.8h0M67.9 160.4h0M58.9 158.9h0M59.1 168.7h0M68.7 171.7h0M58.7 154.5h0M79.8 164.6h0M77.7 154.9h0M70.8 171.7h0M74.3 162.9h0M61.7 170.1h0M69.9 153.6h0M80.6 161.4h0M68.8 165.1h0M67.4 160.1h0M57.8 162.2h0M64.9 170.5h0M63.7 169.6h0M72.9 160.6h0M63.0 158.4h0M80.1 158.3h0M67.3 170.6h0M65.3 157.1h0M74.6 163.1h0M71.5 155.1h0M68.7 152.5h0M58.1 160.6h0M75.6 152.7h0M60.9 154.1h0M70.6 159.8h0M59.4 169.0h0M60.6 159.5h0M71.0 151.7h0M74.2 160.9h0M80.3 160.9h0M72.6 156.7h0M71.3 158.8h0M70.4 162.1h0M62.1 163.1h0M78.7 165.3h0M69.9 173.3h0M67.1 167.1h0M63.5 159.6h0M72.8 161.2h0M75.9 157.4h0M78.3 165.6h0M77.6 155.8h0M59.5 157.1h0M69.6 154.8h0M65.2 152.1h0M73.7 162.2h0M72.8 153.8h0M56.4 155.4h0M61.7 157.3h0M60.2 154.5h0M61.6 153.7h0M67.2 168.2h0M62.7 160.8h0M58.4 166.8h0M75.7 167.3h0M56.1 165.2h0M60.9 164.3h0M72.6 171.0h0M65.2 152.7h0M71.6 158.3h0M79.3 161.5h0M64.9 171.4h0M76.4 163.2h0M65.5 171.1h0M76.5 165.4h0M61.8 152.9h0M77.1 154.5h0M64.5 172.8h0M67.2 167.3h0M62.0 154.1h0M63.7 157.9h0M66.8 171.3h0M58.1 167.2h0M60.1 169.4h0M68.6 172.9h0M75.3 160.1h0M66.5 161.3h0M56.9 158.5h0M73.8 155.9h0M79.0 158.0h0M72.4 154.2h0M66.8 165.6h0M63.3 154.1h0M75.6 165.7h0M79.3 161.4h0M61.5 172.5h0M74.6 165.2h0M60.4 163.3h0M65.6 162.1h0M58.3 157.7h0M69.3 157.8h0M61.1 151.8h0M68.7 170.5h0M59.7 172.5h0M69.1 154.1h0M68.0 171.7h0M70.6 162.3h0M61.0 171.2h0M78.5 157.0h0M77.2 154.1h0M68.5 168.3h0M60.9 164.3h0M58.2 171.1h0M60.5 163.9h0M68.4 174.3h0M70.0 160.8h0M58.0 160.5h0M74.3 169.1h0M67.3 174.4h0M80.3 158.6h0M64.9 156.7h0M66.7 170.2h0M75.4 157.7h0M65.3 154.5h0M75.2 164.2h0M68.7 157.8h0M78.5 165.6h0M78.3 160.2h0M63.2 158.1h0M69.5 160.7h0M57.2 154.3h0M65.1 167.3h0M68.5 160.8h0M67.2 158.3h0M75.8 153.7h0M61.6 152.6h0M72.5 158.6h0M57.8 162.2h0M68.6 171.6h0M61.1 169.6h0M67.5 167.8h0M67.2 155.2h0M62.3 153.5h0M68.5 173.0h0M59.7 163.0h0M59.7 172.2h0M66.0 164.6h0M68.9 161.9h0M79.7 166.9h0M70.0 168.6h0M62.2 164.8h0M72.0 168.8h0M71.5 162.2h0M67.3 156.4h0M65.7 173.4h0M74.6 157.2h0M56.1 165.3h0M71.0 161.8h0M77.6 164.4h0M78.3 161.9h0M60.3 165.3h0M76.1 153.3h0M59.3 159.6h0M59.5 163.8h0M66.7 165.3h0M69.7 161.2h0M68.5 152.0h0M78.7 167.5h0M67.6 162.7h0M64.0 173.7h0M66.7 159.0h0M59.3 167.0h0M73.6 151.8h0M59.1 167.1h0M67.2 152.4h0M56.8 165.4h0M73.6 165.9h0M64.1 167.8h0M75.3 162.7h0M58.9 162.3h0M67.4 153.6h0M77.6 156.8h0M73.8 170.0h0M57.0 158.8h0M70.3 163.6h0M65.2 157.5h0M73.1 169.7h0M72.5 170.7h0M80.4 165.5h0M65.2 171.5h0M69.9 153.6h0M71.4 156.8h0M78.4 163.7h0M65.7 152.2h0M61.1 172.5h0M78.5 161.2h0M70.7 174.2h0M75.1 156.9h0M72.1 155.6h0M67.0 170.2h0M63.9 157.2h0M74.1 164.9h0M74.0 159.6h0M63.5 173.1h0M63.5 170.6h0M62.5 151.6h0M72.6 157.5h0M73.6 159.9h0M64.8 151.6h0M61.3 165.6h0M71.9 160.3h0M75.7 160.5h0M73.4 166.6h0M80.0 158.2h0M79.4 157.9h0M75.2 158.5h0M64.2 170.1h0M74.2 158.9h0M63.8 163.7h0M55.0 161.3h0M78.5 169.4h0M75.6 165.3h0M57.7 166.4h0M66.2 154.9h0M62.1 171.3h0M63.6 170.4h0M66.1 163.1h0M79.5 166.4h0M62.7 157.2h0M69.7 157.3h0M74.2 163.9h0M73.2 161.3h0M63.6 171.7h0M76.4 167.8h0M59.0 155.4h0M66.4 173.0h0M75.4 164.4h0M59.9 162.0h0M67.4 171.4h0M55.9 161.5h0M68.5 158.3h0M70.8 172.9h0M61.4 154.7h0M73.2 171.9h0M59.7 162.8h0M63.1 167.0h0M62.1 162.1h0M65.6 169.2h0M60.6 167.8h0M61.9 167.9h0M76.8 166.9h0M73.7 156.4h0M59.3 160.1h0M64.4 155.8h0M58.6 159.7h0M78.3 160.5h0M60.2 155.0h0M65.3 170.0h0M70.9 167.5h0M76.5 158.7h0M78.3 164.7h0M69.7 154.7h0M74.1 157.1h0M78.2 169.2h0M74.1 155.2h0M66.7 157.4h0M76.4 163.1h0M71.1 160.7h0M62.0 155.8h0M55.2 163.3h0M54.9 162.9h0M75.4 171.3h0M75.2 170.8h0M59.5 154.4h0M77.2 162.6h0M69.2 161.2h0M79.2 167.5h0M55.0 165.8h0M60.7 172.1h0M76.1 153.4h0M68.4 153.6h0M58.3 162.3h0M68.0 166.4h0M63.7 166.7h0M64.7 171.3h0M57.3 155.0h0M70.5 153.3h0M76.4 159.1h0M64.7 167.3h0M62.8 157.9h0M78.5 168.1h0M71.2 163.8h0M76.8 164.1h0M60.0 161.8h0M73.0 170.9h0M58.6 169.9h0M58.8 156.3h0M71.4 156.0h0M60.5 171.0h0M62.2 159.7h0M73.5 153.8h0M73.2 163.8h0M68.8 173.5h0M76.8 164.8h0M59.8 167.1h0M75.5 160.6h0M63.6 155.0h0M59.7 152.7h0M68.2 156.0h0M72.7 157.7h0M68.4 162.7h0M75.9 165.4h0M63.6 163.7h0M75.7 159.3h0M69.9 162.6h0M72.3 172.2h0M69.6 172.2h0M62.4 172.6h0M61.0 172.0h0M73.6 164.5h0M58.3 163.1h0M65.2 156.1h0M64.3 168.5h0M78.1 164.6h0M68.7 160.4h0M61.5 152.3h0M66.0 155.1h0M56.0 167.2h0M61.8 163.1h0M72.6 169.3h0M60.9 153.5h0M62.4 166.9h0M69.7 174.0h0M56.8 168.1h0M65.3 163.5h0M75.7 158.2h0M74.8 159.2h0M70.9 151.7h0M73.3 168.8h0M59.1 153.8h0M72.8 165.6h0M78.0 160.4h0M74.9 160.9h0M76.9 169.7h0M71.7 159.7h0M77.9 170.9h0M74.2 155.6h0M70.0 172.8h0M60.9 156.7h0M72.4 163.9h0M71.9 164.5h0M63.5 166.8h0M55.8 165.6h0M68.8 171.5h0M57.0 154.3h0M75.6 168.5h0M64.3 172.1h0M75.5 171.7h0M56.2 157.0h0M73.0 164.0h0M80.4 162.3h0M74.3 173.0h0M61.5 157.7h0M64.9 152.6h0M72.2 160.3h0M66.0 158.2h0M75.2 169.3h0M65.9 159.9h0M73.1 154.1h0M56.3 155.2h0M63.3 171.5h0M55.4 161.8h0M63.5 155.6h0M59.1 162.2h0M67.3 153.4h0M63.2 162.2h0M56.0 156.5h0M58.6 159.9h0M65.3 173.0h0M70.4 162.3h0M61.5 168.4h0M65.1 158.5h0M65.3 159.1h0M67.2 155.8h0M67.6 162.9h0M79.0 166.8h0M58.8 157.1h0M66.8 167.5h0M75.9 163.0h0M68.5 169.7h0M63.3 168.9h0M64.4 173.2h0M59.6 167.1h0M72.2 152.3h0M76.9 159.0h0M73.8 160.2h0M75.3 171.4h0M74.3 156.0h0M64.5 172.2h0M62.0 160.7h0M80.0 166.8h0M58.1 166.7h0M75.4 161.1h0M61.6 164.2h0M68.9 162.0h0M73.1 167.1h0M75.0 163.7h0M77.4 162.8h0M55.4 165.0h0M62.3 158.5h0M77.9 168.4h0M68.5 157.6h0M74.8 155.4h0M58.4 165.1h0M77.5 167.3h0M70.9 151.6h0M70.6 161.5h0M80.3 161.4h0M57.8 168.7h0M76.1 166.9h0M63.7 161.3h0M68.3 167.0h0M69.9 166.5h0M77.4 168.3h0M65.8 161.5h0M69.3 151.0h0M65.2 168.3h0M80.1 161.0h0M68.8 171.4h0M76.1 171.8h0M70.2 163.8h0M77.0 165.8h0M60.0 166.1h0M59.5 161.4h0M74.1 160.4h0M63.9 171.5h0M59.2 153.9h0M65.5 153.5h0M78.1 169.1h0M69.0 151.2h0M62.7 166.5h0M67.7 156.5h0M73.9 171.2h0M57.2 164.2h0M73.1 156.3h0M66.0 164.7h0M77.7 168.2h0M75.8 171.0h0M68.6 170.4h0M55.8 156.3h0M63.8 165.1h0M59.0 163.3h0M67.5 165.2h0M60.1 156.6h0M62.8 172.8h0M74.4 167.6h0M75.0 164.3h0M73.9 159.6h0M63.8 163.6h0M55.4 165.9h0M56.0 165.5h0M69.8 158.8h0M80.1 165.0h0M68.0 161.0h0M66.8 168.1h0M77.3 159.4h0M64.3 161.5h0M60.4 164.8h0M68.6 171.7h0M59.1 167.3h0M61.0 162.7h0M72.3 164.5h0M69.0 160.6h0M57.2 159.7h0M79.0 167.9h0M66.0 174.0h0M57.1 163.1h0M69.0 155.2h0M56.6 167.0h0M77.1 161.5h0M65.2 171.1h0M62.1 168.8h0M61.1 159.3h0M59.9 170.4h0M59.5 163.5h0M70.4 167.6h0M68.9 157.4h0M77.7 171.2h0M68.8 167.2h0M65.8 172.8h0M63.6 170.9h0M61.1 154.4h0M65.5 153.8h0M80.7 159.7h0M69.0 152.2h0M62.2 165.4h0M61.6 166.5h0M66.2 167.0h0M66.4 170.4h0M63.6 158.4h0M69.0 151.2h0M74.1 155.1h0M73.0 170.4h0M73.7 154.3h0M68.3 153.3h0M76.5 167.2h0M56.6 165.3h0M69.8 172.6h0M76.5 170.1h0M73.9 171.7h0M71.9 173.4h0M75.4 157.1h0M65.1 153.0h0M61.1 172.3h0M66.2 157.9h0M76.3 154.2h0M60.4 164.3h0M75.3 170.5h0M74.3 158.5h0M69.0 171.2h0M68.1 173.8h0M79.5 163.5h0M57.9 156.3h0M56.1 157.9h0M68.3 154.8h0M56.6 161.3h0M61.2 160.3h0M57.9 157.7h0M79.6 160.4h0M67.9 157.0h0M61.3 171.2h0M63.1 172.6h0M59.3 161.1h0M64.2 153.6h0M59.2 157.8h0M76.8 167.1h0M69.3 174.1h0M57.2 168.8h0M66.4 159.1h0M74.6 164.2h0M72.0 160.2h0M67.8 161.4h0M65.4 157.6h0M73.8 152.9h0M67.7 159.0h0M69.0 155.6h0M60.8 152.0h0M73.4 171.6h0M75.3 154.9h0M63.4 155.9h0M67.5 167.8h0M69.8 173.8h0M67.6 161.8h0M76.4 155.9h0M59.1 166.5h0M79.8 165.3h0M74.5 156.6h0M55.8 163.6h0M55.9 162.9h0M57.3 160.6h0M70.7 159.7h0M69.4 172.7h0M61.2 166.5h0M72.3 160.6h0M63.4 164.2h0M75.4 165.7h0M73.9 171.5h0M60.6 161.5h0M70.7 154.6h0M56.7 168.2h0M69.5 167.5h0M58.4 166.1h0M74.9 152.6h0M65.1 172.4h0M71.1 164.0h0M68.2 154.4h0M73.4 168.2h0M67.5 157.3h0M68.3 152.4h0M66.9 164.2h0M58.6 169.8h0M71.2 167.8h0M65.5 167.7h0M75.1 160.0h0M77.2 156.0h0M76.9 158.9h0M74.1 170.6h0M65.1 172.7h0M58.6 164.0h0M71.2 172.1h0M63.2 163.2h0M77.7 168.5h0M58.7 168.4h0M71.6 165.5h0M69.3 165.9h0M70.9 157.4h0M70.2 165.3h0M70.3 170.9h0M66.1 152.6h0M59.6 171.9h0M76.4 167.8h0M73.9 163.8h0M71.8 168.3h0M65.4 168.6h0M58.6 163.9h0M66.9 170.0h0M67.3 156.1h0M62.2 160.0h0M65.5 172.7h0M71.0 164.3h0M66.2 154.8h0M76.2 170.0h0M59.5 155.0h0M77.1 166.5h0M62.6 158.2h0M74.0 171.8h0M55.2 158.1h0M68.2 152.6h0M63.0 168.8h0M68.4 172.8h0M68.1 154.0h0M71.5 164.0h0M75.7 166.7h0M62.2 158.3h0M70.1 159.8h0M66.3 171.4h0M60.0 164.2h0M73.5 161.0h0M73.9 162.7h0M80.5 160.7h0M79.6 162.3h0M60.7 167.4h0M64.6 158.6h0M76.3 161.5h0M71.8 171.4h0M77.8 169.0h0M66.8 158.0h0M60.7 170.2h0M76.0 158.5h0M58.3 166.2h0M58.9 169.8h0M72.7 164.0h0M67.5 171.1h0M77.6 166.8h0M80.8 161.6h0M57.1 165.1h0M66.5 152.1h0M65.2 156.8h0M59.0 163.0h0M67.3 172.1h0M59.1 157.0h0M76.6 170.3h0M75.8 171.9h0M56.0 164.0h0M71.8 156.0h0M66.5 170.5h0M72.1 158.7h0M63.5 165.5h0M62.3 169.7h0M79.1 158.9h0M72.8 155.9h0M71.2 152.5h0M68.0 172.7h0M62.3 151.7h0M66.1 170.3h0M77.0 160.7h0M75.3 167.2h0M72.2 155.5h0M71.8 161.2h0M62.9 158.7h0M79.4 168.1h0M69.4 168.6h0M76.8 165.5h0M56.6 162.9h0M67.8 168.4h0M60.8 155.1h0M65.3 155.6h0M63.2 154.9h0M69.2 155.4h0M57.9 161.6h0M66.3 154.2h0M63.0 172.9h0M72.6 152.5h0M61.0 173.0h0M63.5 169.7h0M61.3 164.0h0M79.4 163.3h0M56.9 169.8h0M59.4 158.6h0M77.7 170.2h0M64.4 161.1h0M74.4 169.9h0M56.5 163.1h0M70.4 165.4h0M58.8 166.1h0M60.8 156.4h0M71.0 152.3h0M56.1 159.3h0M64.8 174.2h0M72.3 157.0h0M69.5 158.4h0M63.0 169.0h0M62.7 152.7h0M74.8 160.7h0M74.7 161.0h0M72.0 154.9h0M68.5 154.3h0M60.0 158.4h0M69.5 159.9h0M54.6 165.2h0M79.7 166.4h0M68.4 165.4h0M67.1 160.9h0M62.2 154.1h0M79.3 168.3h0M78.7 155.4h0M58.9 162.1h0M65.8 156.6h0M64.7 157.1h0M69.2 168.5h0M71.7 169.6h0M65.2 163.6h0M72.0 165.7h0M70.9 165.9h0M67.7 169.8h0M61.4 157.2h0M64.5 169.7h0M64.0 167.5h0M61.2 170.4h0M73.3 151.7h0M64.2 173.1h0M68.4 156.6h0M77.8 157.4h0M71.9 165.9h0M60.9 163.1h0M61.8 170.9h0M71.0 156.5h0M76.5 155.0h0M59.2 152.7h0M65.5 169.6h0M59.9 166.4h0M57.6 166.9h0M72.8 157.2h0M65.1 155.5h0M65.3 168.1h0M76.8 169.9h0M60.5 158.3h0M68.5 154.9h0M63.0 157.0h0M72.5 168.9h0M59.5 167.6h0M57.8 159.9h0M73.9 169.8h0M55.8 167.2h0M69.1 161.2h0M55.8 162.6h0M78.1 160.5h0M79.5 163.1h0M69.2 152.5h0M66.4 154.1h0M66.6 158.4h0M63.3 171.8h0M70.7 152.8h0M55.2 164.5h0M72.6 162.7h0M73.9 164.8h0M72.8 166.4h0M70.9 162.6h0M63.0 172.3h0M72.5 166.1h0M64.7 154.5h0M71.5 164.6h0M61.1 152.0h0M61.4 157.0h0M71.7 172.3h0M76.6 159.0h0M69.1 172.1h0M61.3 152.1h0M63.5 164.2h0M58.4 161.8h0M74.2 171.8h0M65.9 155.2h0M80.2 161.2h0M59.9 172.5h0M59.8 158.4h0M65.1 155.9h0M63.3 170.5h0M61.5 169.9h0M57.3 169.7h0M56.8 165.1h0M67.5 155.7h0M59.6 164.0h0M60.5 160.8h0M60.4 164.7h0M62.9 159.7h0M62.0 172.9h0M70.0 169.4h0M58.8 166.2h0M78.6 157.5h0M69.5 167.5h0M75.8 159.5h0M76.1 159.4h0M65.2 171.2h0M63.2 151.9h0M77.8 170.0h0M66.1 162.7h0M62.2 165.1h0M65.1 165.6h0M70.1 174.2h0M60.8 165.6h0M67.8 173.3h0M63.1 167.6h0M57.8 161.5h0M76.3 168.8h0M81.5 145.2h0M75.9 150.9h0M82.2 145.6h0M77.2 149.7h0M77.4 149.2h0M81.6 145.8h0M80.1 147.9h0M78.8 149.2h0M77.7 149.6h0M76.9 149.7h0M82.5 144.0h0M79.1 146.6h0M81.7 145.3h0M83.5 143.4h0M79.3 149.3h0M81.3 145.9h0M75.1 152.6h0M79.6 148.7h0M79.9 145.3h0M81.3 145.1h0M80.1 146.7h0M78.8 148.3h0M82.7 143.1h0M76.2 151.6h0M81.3 146.5h0M83.1 156.1h0M92.8 158.3h0M82.3 157.1h0M92.4 157.2h0M83.6 155.9h0M92.3 157.2h0M87.5 158.0h0M91.4 157.5h0M93.2 159.7h0M93.9 157.5h0M82.0 157.1h0M92.5 158.0h0M90.7 157.5h0M85.6 157.6h0M83.8 156.3h0M89.5 157.5h0M90.1 156.8h0M82.9 155.4h0M88.5 169.3h0M86.6 168.4h0M84.9 166.5h0M85.5 168.6h0M91.7 171.2h0M84.1 168.9h0M93.0 170.6h0M92.6 169.9h0M84.8 168.3h0M83.6 166.6h0M92.8 170.9h0M89.5 169.3h0M92.8 171.0h0M94.2 171.1h0M84.0 168.1h0M90.5 169.3h0M84.5 169.5h0M88.1 169.7h0M83.5 166.9h0M92.4 170.1h0" stroke="#d66999" stroke-width="1.15" stroke-linecap="round" fill="none"/>
<path d="M86.8 142.6h0M86.9 141.0h0M87.1 142.2h0M84.5 142.3h0M87.8 141.3h0M85.0 142.2h0M88.6 141.0h0M86.4 141.2h0M83.8 142.3h0M88.6 139.0h0" stroke="#5ea3e2" stroke-width="1.15" stroke-linecap="round" fill="none"/>
<path d="M100.4,163.7 L103.2,162.7 L105.8,163.7 L109.9,165.9 L106.7,167.7 L102.3,167.2 Z" fill="#d39c3d"/>
<path d="M103.1 165.4h0M100.3 164.3h0M105.3 165.8h0M106.5 167.9h0M102.3 162.9h0M106.2 167.8h0M109.1 166.0h0M103.6 164.5h0M102.7 163.2h0M101.9 165.7h0M102.6 163.6h0M103.5 164.0h0M104.5 164.1h0M101.8 164.3h0M102.3 165.6h0M106.3 167.5h0M102.1 165.4h0M103.5 164.4h0M105.7 167.9h0M107.3 165.7h0M109.0 166.8h0M104.1 167.0h0M103.1 165.6h0M108.0 167.1h0M106.4 167.0h0M104.6 167.2h0M104.7 163.2h0M102.3 164.0h0M105.5 164.3h0M104.9 167.2h0M102.0 167.2h0M104.9 165.4h0M103.3 164.7h0M100.7 164.7h0M103.0 167.2h0M104.1 166.4h0M106.5 164.8h0M104.1 165.4h0M102.3 163.7h0M103.0 163.1h0M101.9 163.5h0M108.7 166.8h0M105.0 165.0h0M103.2 166.9h0M104.2 166.3h0M104.4 163.5h0M107.8 165.2h0M105.6 166.5h0M100.1 163.9h0M105.4 167.6h0M108.3 167.1h0M103.4 166.8h0M102.9 167.6h0M104.2 166.1h0M103.6 163.8h0M107.0 168.1h0M108.0 166.8h0M105.3 163.9h0M109.1 166.8h0M109.0 165.5h0M107.7 167.5h0M102.9 163.5h0M107.3 166.6h0M104.5 164.1h0M105.5 165.6h0M106.1 165.3h0M108.3 167.1h0M102.8 163.3h0M104.5 163.2h0M102.5 166.2h0M106.9 164.5h0M106.0 164.1h0M104.4 163.5h0M106.1 164.4h0M109.3 166.4h0M105.0 165.6h0M106.3 163.8h0M106.2 167.6h0M108.8 167.0h0M105.4 164.1h0M105.3 166.2h0M103.2 167.5h0M107.0 167.7h0M106.2 164.4h0M103.5 167.4h0M105.0 167.1h0M106.5 166.8h0M87.3 159.8h0M88.0 160.8h0M85.5 164.1h0M83.8 162.1h0M84.1 164.3h0M84.7 163.9h0M83.8 165.0h0M87.9 160.7h0M84.9 163.5h0M84.4 164.3h0M83.7 164.8h0M84.0 164.5h0M84.1 165.8h0M85.8 163.7h0M99.5 158.3h0M88.4 159.5h0M97.9 156.2h0M98.3 156.1h0M97.7 156.6h0M98.2 157.4h0M93.1 157.8h0M98.4 159.8h0M92.3 158.5h0M99.3 159.7h0M88.6 157.6h0M98.4 156.6h0M95.5 159.1h0M93.9 160.1h0M95.9 160.6h0M96.5 159.7h0M93.2 159.0h0M91.1 159.3h0M91.3 158.2h0M93.2 158.6h0M92.2 158.1h0M94.7 160.3h0" stroke="#d39c3d" stroke-width="1.15" stroke-linecap="round" fill="none"/>
<path d="M100.0 185.0h0M98.3 183.7h0M102.3 183.9h0M98.0 182.6h0M96.3 184.2h0M98.1 182.8h0M97.7 184.8h0M91.9 185.8h0M98.7 183.0h0M98.7 185.6h0" stroke="#d66999" stroke-width="1.15" stroke-linecap="round" fill="none"/>
<path d="M103.0 186.0h0M103.0 186.7h0M100.3 185.3h0M103.7 186.0h0M100.9 185.7h0M101.6 186.0h0" stroke="#5ea3e2" stroke-width="1.15" stroke-linecap="round" fill="none"/>
<path d="M155.5,163.0 L157.0,161.5 L159.5,163.0 L160.5,168.0 L164.0,173.0 L168.0,179.0 L168.0,183.0 L164.0,184.0 L160.0,179.0 L157.0,172.0 Z" fill="#d064a8"/>
<path d="M157.4 165.2h0M158.7 178.6h0M162.4 181.3h0M158.7 173.3h0M157.4 165.5h0M166.1 185.0h0M157.4 163.8h0M154.9 179.6h0M156.8 161.3h0M164.7 183.9h0M155.1 174.9h0M162.7 177.4h0M157.6 163.8h0M154.0 174.8h0M163.4 178.4h0M156.6 171.5h0M158.4 162.0h0M162.0 172.6h0M167.2 179.7h0M160.7 182.7h0M159.4 182.0h0M160.0 171.3h0M154.2 172.5h0M155.5 168.3h0M155.7 172.0h0M156.8 181.8h0M163.2 176.1h0M159.0 163.7h0M167.3 180.1h0M159.6 170.0h0M160.2 175.1h0M155.2 175.3h0M156.0 170.5h0M166.4 177.4h0M159.2 168.2h0M160.3 174.9h0M155.4 172.5h0M156.1 164.1h0M155.3 165.5h0M163.3 185.2h0M158.4 172.2h0M161.2 177.2h0M159.4 169.0h0M161.3 171.0h0M156.6 172.7h0M161.3 177.9h0M160.4 173.7h0M159.5 167.9h0M164.5 177.5h0M160.8 184.4h0M164.0 179.9h0M156.2 173.2h0M160.9 175.4h0M166.0 180.5h0M163.3 177.8h0M158.3 162.8h0M163.5 175.0h0M166.7 180.3h0M155.8 165.8h0M154.5 172.7h0M163.8 185.6h0M161.1 169.3h0M162.5 182.8h0M158.8 170.4h0M159.5 170.6h0M158.5 172.1h0M159.7 169.4h0M155.6 164.9h0M153.9 175.7h0M161.7 177.5h0M155.3 163.0h0M157.7 168.5h0M156.6 176.7h0M160.4 182.9h0M160.3 172.0h0M159.4 163.8h0M159.2 162.5h0M163.5 177.5h0M164.0 174.1h0M157.6 171.5h0M158.4 166.9h0M167.7 181.8h0M158.7 172.1h0M164.5 177.8h0M158.2 164.7h0M159.9 172.4h0M156.7 168.6h0M158.4 184.4h0M157.5 169.9h0M155.5 175.6h0M157.7 176.5h0M162.9 184.1h0M162.1 169.5h0M163.9 177.4h0M159.4 177.5h0M165.6 180.2h0M168.0 180.6h0M162.9 184.3h0M167.9 183.0h0M154.3 173.2h0M157.7 173.8h0M155.8 170.8h0M162.8 174.6h0M156.9 166.5h0M159.7 185.4h0M158.3 182.7h0M155.4 164.4h0M156.3 180.3h0M162.2 175.8h0M157.1 171.7h0M159.7 166.0h0M156.7 170.3h0M157.8 183.0h0M154.2 169.6h0M160.3 182.2h0M159.2 182.1h0M163.5 180.8h0M156.1 176.1h0M155.6 164.0h0M165.4 184.8h0M159.1 172.1h0M158.9 181.9h0M157.1 163.1h0M165.4 174.6h0M156.2 170.4h0M166.1 176.4h0M168.0 183.6h0M156.6 171.6h0M159.6 179.8h0M161.2 182.4h0M157.5 183.4h0M165.2 175.6h0M168.6 181.2h0M159.2 182.7h0M156.5 163.5h0M160.9 185.5h0M156.4 169.2h0M160.8 167.7h0M160.5 177.1h0M158.2 166.0h0M163.4 179.6h0M165.9 184.2h0M168.6 181.8h0M158.5 173.4h0M157.8 179.4h0M157.1 183.5h0M159.6 173.5h0M162.7 171.3h0M157.8 167.6h0M160.4 183.2h0M158.1 179.7h0M163.5 173.1h0M156.8 176.9h0M165.2 184.3h0M163.7 172.7h0M164.3 183.6h0M164.9 174.5h0M157.3 180.0h0M159.8 166.6h0M160.7 180.1h0M155.5 175.7h0M156.8 172.0h0M157.0 181.6h0M163.6 185.1h0M159.1 164.7h0M166.3 180.4h0M153.6 176.3h0M158.4 166.3h0M159.9 184.9h0M167.2 179.1h0M158.1 171.4h0M163.8 179.5h0M160.1 173.5h0M155.8 163.3h0M155.5 177.5h0M160.6 173.6h0M156.2 167.1h0M160.0 163.4h0M153.7 176.4h0M165.3 175.7h0M163.6 184.2h0M157.3 170.3h0M157.1 177.5h0M162.2 170.6h0M154.8 168.1h0M166.8 177.8h0M154.5 174.6h0M156.5 167.1h0M158.7 178.8h0M158.3 164.1h0M156.0 176.0h0M165.9 185.2h0M158.9 175.4h0M156.4 170.4h0M160.3 174.5h0M162.0 181.0h0M159.2 181.3h0M158.1 178.6h0M156.9 177.1h0M164.2 174.7h0M163.9 177.1h0M157.7 169.0h0M156.6 162.6h0M155.0 167.3h0M165.4 180.5h0M160.8 183.8h0M165.4 175.2h0M161.7 178.3h0M162.8 173.7h0M167.0 182.7h0M160.7 180.0h0M168.8 181.7h0M163.0 178.4h0M161.2 181.8h0M160.6 172.3h0M158.0 162.7h0M160.4 166.8h0M157.1 178.9h0M157.1 180.0h0M163.8 181.3h0M159.8 183.4h0M159.5 166.9h0M164.0 181.9h0M163.1 178.8h0M166.3 178.0h0M165.1 178.0h0M160.2 173.1h0M158.4 162.6h0M168.0 179.6h0M158.4 162.1h0M167.1 178.4h0M160.7 181.1h0M162.7 182.6h0M168.8 181.1h0M158.7 183.1h0M160.6 184.1h0M165.0 180.3h0M160.8 182.1h0M168.5 182.6h0M165.4 181.3h0M159.9 171.1h0M159.9 183.4h0M155.9 169.2h0M159.5 181.2h0M160.6 184.7h0M159.0 165.0h0M157.2 167.9h0M161.0 180.2h0M158.7 166.2h0M162.7 175.9h0M160.2 172.3h0M166.4 182.0h0M161.9 174.0h0M159.0 162.5h0M162.0 170.5h0M159.0 173.1h0M163.8 176.9h0M162.2 175.4h0M163.6 178.8h0M160.4 182.3h0M154.6 174.8h0M160.1 164.7h0M159.3 173.1h0M159.9 171.8h0M158.5 175.8h0M161.6 173.4h0M154.3 168.4h0M159.0 170.9h0M163.6 172.0h0M158.5 182.6h0M160.7 172.8h0M166.3 184.7h0M154.0 174.5h0M162.5 183.8h0M158.2 163.6h0M163.3 183.0h0M159.8 161.9h0M166.1 177.3h0M154.4 174.2h0M167.3 177.5h0M158.2 174.2h0M159.8 180.4h0M158.1 172.3h0M159.6 180.4h0M160.8 174.3h0M161.1 167.5h0M159.5 178.3h0M154.7 172.1h0M155.8 167.4h0M156.8 179.5h0M157.9 182.5h0M159.5 175.8h0M164.7 179.8h0M155.4 168.2h0M162.5 179.7h0M156.7 168.4h0M161.3 170.6h0M156.2 164.4h0M160.0 181.5h0M162.0 176.6h0M155.6 169.3h0M160.8 169.0h0M155.2 179.0h0M165.5 178.2h0M160.9 170.3h0M167.0 183.3h0M156.0 162.2h0" stroke="#d064a8" stroke-width="1.15" stroke-linecap="round" fill="none"/>
<path d="M240.0 100.8h0M240.8 100.4h0M239.6 101.2h0M112.8 126.6h0M115.0 127.5h0M117.5 126.7h0M120.6 126.4h0M122.5 127.5h0M126.5 127.0h0M135.3 120.0h0M137.0 121.3h0M133.0 125.5h0M99.0 126.5h0" stroke="#e0843a" stroke-width="1.15" stroke-linecap="round" fill="none"/>
<line x1="45.00" y1="20.00" x2="45.00" y2="197.60" stroke="#111" stroke-width="1.4" />
<line x1="44.30" y1="197.00" x2="250.00" y2="197.00" stroke="#111" stroke-width="1.4" />
<line x1="41.50" y1="52.70" x2="45.00" y2="52.70" stroke="#111" stroke-width="1.2" />
<text transform="translate(38.50,52.70)" y="2.66" font-size="7.6" fill="#111" stroke="#111" stroke-width="0.25" text-anchor="end" >10</text>
<line x1="41.50" y1="86.00" x2="45.00" y2="86.00" stroke="#111" stroke-width="1.2" />
<text transform="translate(38.50,86.00)" y="2.66" font-size="7.6" fill="#111" stroke="#111" stroke-width="0.25" text-anchor="end" >5</text>
<line x1="41.50" y1="119.25" x2="45.00" y2="119.25" stroke="#111" stroke-width="1.2" />
<text transform="translate(38.50,119.25)" y="2.66" font-size="7.6" fill="#111" stroke="#111" stroke-width="0.25" text-anchor="end" >0</text>
<line x1="41.50" y1="152.50" x2="45.00" y2="152.50" stroke="#111" stroke-width="1.2" />
<text transform="translate(38.50,152.50)" y="2.66" font-size="7.6" fill="#111" stroke="#111" stroke-width="0.25" text-anchor="end" >-5</text>
<line x1="41.50" y1="186.00" x2="45.00" y2="186.00" stroke="#111" stroke-width="1.2" />
<text transform="translate(38.50,186.00)" y="2.66" font-size="7.6" fill="#111" stroke="#111" stroke-width="0.25" text-anchor="end" >-10</text>
<line x1="57.50" y1="197.00" x2="57.50" y2="200.50" stroke="#111" stroke-width="1.2" />
<text transform="translate(57.50,208.30)" y="2.66" font-size="7.6" fill="#111" stroke="#111" stroke-width="0.25" text-anchor="middle" >-10</text>
<line x1="99.25" y1="197.00" x2="99.25" y2="200.50" stroke="#111" stroke-width="1.2" />
<text transform="translate(99.25,208.30)" y="2.66" font-size="7.6" fill="#111" stroke="#111" stroke-width="0.25" text-anchor="middle" >-5</text>
<line x1="141.00" y1="197.00" x2="141.00" y2="200.50" stroke="#111" stroke-width="1.2" />
<text transform="translate(141.00,208.30)" y="2.66" font-size="7.6" fill="#111" stroke="#111" stroke-width="0.25" text-anchor="middle" >0</text>
<line x1="182.75" y1="197.00" x2="182.75" y2="200.50" stroke="#111" stroke-width="1.2" />
<text transform="translate(182.75,208.30)" y="2.66" font-size="7.6" fill="#111" stroke="#111" stroke-width="0.25" text-anchor="middle" >5</text>
<line x1="224.50" y1="197.00" x2="224.50" y2="200.50" stroke="#111" stroke-width="1.2" />
<text transform="translate(224.50,208.30)" y="2.66" font-size="7.6" fill="#111" stroke="#111" stroke-width="0.25" text-anchor="middle" >10</text>
<line x1="23.50" y1="216.90" x2="23.50" y2="176.50" stroke="#111" stroke-width="1.3" />
<path d="M23.5,172.5 L20.65,178.8 L26.35,178.8 Z" fill="#111"/>
<line x1="22.85" y1="216.90" x2="59.75" y2="216.90" stroke="#111" stroke-width="1.3" />
<path d="M63.75,216.9 L57.45,214.05 L57.45,219.75 Z" fill="#111"/>
<text transform="translate(13.60,192.39) rotate(-90) scale(0.723,1)" y="3.22" font-size="9.2" fill="#111" stroke="#111" stroke-width="0.5" text-anchor="middle" letter-spacing="0.3">UMAP-2</text>
<text transform="translate(40.71,225.60) scale(0.728,1)" y="3.08" font-size="8.8" fill="#111" stroke="#111" stroke-width="0.5" text-anchor="middle" letter-spacing="0.3">UMAP-1</text>
<text transform="translate(104.40,53.00)" y="2.20" font-size="6.3" fill="#b965ae" stroke="#b965ae" stroke-width="0.04" text-anchor="middle" >HSPC-MPP</text>
<text transform="translate(159.30,31.80)" y="2.20" font-size="6.3" fill="#4db39a" stroke="#4db39a" stroke-width="0.04" text-anchor="middle" >Niche/VE</text>
<text transform="translate(190.00,53.00)" y="2.20" font-size="6.3" fill="#6cb84e" stroke="#6cb84e" stroke-width="0.04" >Lymphoid</text>
<text transform="translate(190.00,60.80)" y="2.20" font-size="6.3" fill="#6cb84e" stroke="#6cb84e" stroke-width="0.04" >Progenitor</text>
<text transform="translate(76.50,78.00)" y="2.20" font-size="6.3" fill="#62b3e4" stroke="#62b3e4" stroke-width="0.04" text-anchor="middle" >Macrophage</text>
<text transform="translate(166.00,73.00)" y="2.20" font-size="6.3" fill="#b1a23b" stroke="#b1a23b" stroke-width="0.04" >Bcell</text>
<text transform="translate(48.00,119.50)" y="2.20" font-size="6.3" fill="#6bb476" stroke="#6bb476" stroke-width="0.04" >Myeloid</text>
<text transform="translate(48.00,127.00)" y="2.20" font-size="6.3" fill="#6bb476" stroke="#6bb476" stroke-width="0.04" >Progenitor</text>
<text transform="translate(167.00,109.00)" y="2.20" font-size="6.3" fill="#ad7dc6" stroke="#ad7dc6" stroke-width="0.04" >B cell</text>
<text transform="translate(167.00,117.00)" y="2.20" font-size="6.3" fill="#ad7dc6" stroke="#ad7dc6" stroke-width="0.04" >Precursor</text>
<text transform="translate(210.00,88.30)" y="2.20" font-size="6.3" fill="#9db04a" stroke="#9db04a" stroke-width="0.04" >Erythroid</text>
<text transform="translate(210.00,96.00)" y="2.20" font-size="6.3" fill="#9db04a" stroke="#9db04a" stroke-width="0.04" >Progenitor</text>
<text transform="translate(143.00,126.00)" y="2.20" font-size="6.3" fill="#e0843a" stroke="#e0843a" stroke-width="0.04" >B cell</text>
<text transform="translate(143.00,134.00)" y="2.20" font-size="6.3" fill="#e0843a" stroke="#e0843a" stroke-width="0.04" >Progenitor</text>
<text transform="translate(114.00,147.00)" y="2.20" font-size="6.3" fill="#5ea3e2" stroke="#5ea3e2" stroke-width="0.04" >HPC</text>
<text transform="translate(186.00,153.80)" y="2.20" font-size="6.3" fill="#6cbfc7" stroke="#6cbfc7" stroke-width="0.04" >Erythrocyte</text>
<text transform="translate(51.00,182.50)" y="2.20" font-size="6.3" fill="#d66999" stroke="#d66999" stroke-width="0.04" >Granulocyte</text>
<text transform="translate(97.50,174.50)" y="2.20" font-size="6.3" fill="#d39c3d" stroke="#d39c3d" stroke-width="0.04" >Eosinophil</text>
<text transform="translate(166.00,190.50)" y="2.20" font-size="6.3" fill="#d064a8" stroke="#d064a8" stroke-width="0.04" >Tcell</text>
<text transform="translate(268.30,16.00)" y="5.22" font-size="14.5" fill="#000" stroke="#000" stroke-width="0.25" font-weight="bold" >B</text>
<rect x="302.80" y="169.70" width="4.4" height="26.80" fill="#9079ad"/>
<line x1="305.00" y1="140.47" x2="305.00" y2="196.50" stroke="#3d5aa0" stroke-width="1.1" />
<line x1="303.70" y1="140.47" x2="306.30" y2="140.47" stroke="#3d5aa0" stroke-width="1.1" />
<circle cx="305.00" cy="149.00" r="1.35" fill="#45196a"/>
<circle cx="305.00" cy="190.82" r="1.35" fill="#45196a"/>
<rect x="310.30" y="168.89" width="4.4" height="27.61" fill="#d98f7f"/>
<line x1="312.50" y1="155.90" x2="312.50" y2="181.88" stroke="#d93a24" stroke-width="1.1" />
<line x1="311.20" y1="155.90" x2="313.80" y2="155.90" stroke="#d93a24" stroke-width="1.1" />
<line x1="311.20" y1="181.88" x2="313.80" y2="181.88" stroke="#d93a24" stroke-width="1.1" />
<circle cx="312.50" cy="155.90" r="1.35" fill="#d22f1d"/>
<circle cx="312.50" cy="168.89" r="1.35" fill="#d22f1d"/>
<circle cx="312.50" cy="181.07" r="1.35" fill="#d22f1d"/>
<rect x="317.70" y="174.98" width="4.4" height="21.52" fill="#9079ad"/>
<line x1="319.90" y1="165.64" x2="319.90" y2="183.51" stroke="#3d5aa0" stroke-width="1.1" />
<line x1="318.60" y1="165.64" x2="321.20" y2="165.64" stroke="#3d5aa0" stroke-width="1.1" />
<line x1="318.60" y1="183.51" x2="321.20" y2="183.51" stroke="#3d5aa0" stroke-width="1.1" />
<circle cx="319.90" cy="168.08" r="1.35" fill="#45196a"/>
<circle cx="319.90" cy="181.07" r="1.35" fill="#45196a"/>
<circle cx="319.90" cy="175.39" r="1.35" fill="#45196a"/>
<rect x="325.20" y="163.61" width="4.4" height="32.89" fill="#d98f7f"/>
<line x1="327.40" y1="158.34" x2="327.40" y2="168.08" stroke="#d93a24" stroke-width="1.1" />
<line x1="326.10" y1="158.34" x2="328.70" y2="158.34" stroke="#d93a24" stroke-width="1.1" />
<line x1="326.10" y1="168.08" x2="328.70" y2="168.08" stroke="#d93a24" stroke-width="1.1" />
<circle cx="327.40" cy="158.34" r="1.35" fill="#d22f1d"/>
<circle cx="327.40" cy="162.80" r="1.35" fill="#d22f1d"/>
<circle cx="327.40" cy="165.24" r="1.35" fill="#d22f1d"/>
<rect x="332.60" y="146.97" width="4.4" height="49.53" fill="#9079ad"/>
<line x1="334.80" y1="110.02" x2="334.80" y2="182.29" stroke="#3d5aa0" stroke-width="1.1" />
<line x1="333.50" y1="110.02" x2="336.10" y2="110.02" stroke="#3d5aa0" stroke-width="1.1" />
<line x1="333.50" y1="182.29" x2="336.10" y2="182.29" stroke="#3d5aa0" stroke-width="1.1" />
<circle cx="334.80" cy="120.17" r="1.35" fill="#45196a"/>
<circle cx="334.80" cy="172.55" r="1.35" fill="#45196a"/>
<rect x="340.10" y="118.95" width="4.4" height="77.55" fill="#d98f7f"/>
<line x1="342.30" y1="76.73" x2="342.30" y2="161.99" stroke="#d93a24" stroke-width="1.1" />
<line x1="341.00" y1="76.73" x2="343.60" y2="76.73" stroke="#d93a24" stroke-width="1.1" />
<line x1="341.00" y1="161.99" x2="343.60" y2="161.99" stroke="#d93a24" stroke-width="1.1" />
<circle cx="342.30" cy="82.82" r="1.35" fill="#d22f1d"/>
<circle cx="342.30" cy="107.59" r="1.35" fill="#d22f1d"/>
<circle cx="342.30" cy="164.83" r="1.35" fill="#d22f1d"/>
<circle cx="342.30" cy="160.37" r="1.35" fill="#d22f1d"/>
<rect x="347.50" y="183.10" width="4.4" height="13.40" fill="#9079ad"/>
<line x1="349.70" y1="168.49" x2="349.70" y2="196.50" stroke="#3d5aa0" stroke-width="1.1" />
<line x1="348.40" y1="168.49" x2="351.00" y2="168.49" stroke="#3d5aa0" stroke-width="1.1" />
<circle cx="349.70" cy="172.14" r="1.35" fill="#45196a"/>
<circle cx="349.70" cy="192.85" r="1.35" fill="#45196a"/>
<rect x="355.00" y="187.16" width="4.4" height="9.34" fill="#d98f7f"/>
<line x1="357.20" y1="177.82" x2="357.20" y2="195.28" stroke="#d93a24" stroke-width="1.1" />
<line x1="355.90" y1="177.82" x2="358.50" y2="177.82" stroke="#d93a24" stroke-width="1.1" />
<line x1="355.90" y1="195.28" x2="358.50" y2="195.28" stroke="#d93a24" stroke-width="1.1" />
<circle cx="357.20" cy="187.97" r="1.35" fill="#d22f1d"/>
<circle cx="357.20" cy="191.63" r="1.35" fill="#d22f1d"/>
<circle cx="357.20" cy="189.60" r="1.35" fill="#d22f1d"/>
<rect x="362.40" y="130.32" width="4.4" height="66.18" fill="#9079ad"/>
<line x1="364.60" y1="70.64" x2="364.60" y2="190.41" stroke="#3d5aa0" stroke-width="1.1" />
<line x1="363.30" y1="70.64" x2="365.90" y2="70.64" stroke="#3d5aa0" stroke-width="1.1" />
<line x1="363.30" y1="190.41" x2="365.90" y2="190.41" stroke="#3d5aa0" stroke-width="1.1" />
<circle cx="364.60" cy="87.69" r="1.35" fill="#45196a"/>
<circle cx="364.60" cy="172.14" r="1.35" fill="#45196a"/>
<rect x="369.90" y="191.63" width="4.4" height="4.87" fill="#d98f7f"/>
<line x1="372.10" y1="185.94" x2="372.10" y2="196.50" stroke="#d93a24" stroke-width="1.1" />
<line x1="370.80" y1="185.94" x2="373.40" y2="185.94" stroke="#d93a24" stroke-width="1.1" />
<circle cx="372.10" cy="188.38" r="1.35" fill="#d22f1d"/>
<circle cx="372.10" cy="194.06" r="1.35" fill="#d22f1d"/>
<circle cx="372.10" cy="192.03" r="1.35" fill="#d22f1d"/>
<rect x="377.30" y="181.07" width="4.4" height="15.43" fill="#9079ad"/>
<line x1="379.50" y1="170.52" x2="379.50" y2="190.82" stroke="#3d5aa0" stroke-width="1.1" />
<line x1="378.20" y1="170.52" x2="380.80" y2="170.52" stroke="#3d5aa0" stroke-width="1.1" />
<line x1="378.20" y1="190.82" x2="380.80" y2="190.82" stroke="#3d5aa0" stroke-width="1.1" />
<circle cx="379.50" cy="173.76" r="1.35" fill="#45196a"/>
<circle cx="379.50" cy="187.97" r="1.35" fill="#45196a"/>
<rect x="384.80" y="175.79" width="4.4" height="20.71" fill="#d98f7f"/>
<line x1="387.00" y1="169.30" x2="387.00" y2="182.29" stroke="#d93a24" stroke-width="1.1" />
<line x1="385.70" y1="169.30" x2="388.30" y2="169.30" stroke="#d93a24" stroke-width="1.1" />
<line x1="385.70" y1="182.29" x2="388.30" y2="182.29" stroke="#d93a24" stroke-width="1.1" />
<circle cx="387.00" cy="174.98" r="1.35" fill="#d22f1d"/>
<circle cx="387.00" cy="177.42" r="1.35" fill="#d22f1d"/>
<circle cx="387.00" cy="176.61" r="1.35" fill="#d22f1d"/>
<rect x="392.20" y="140.07" width="4.4" height="56.43" fill="#9079ad"/>
<line x1="394.40" y1="132.35" x2="394.40" y2="146.56" stroke="#3d5aa0" stroke-width="1.1" />
<line x1="393.10" y1="132.35" x2="395.70" y2="132.35" stroke="#3d5aa0" stroke-width="1.1" />
<line x1="393.10" y1="146.56" x2="395.70" y2="146.56" stroke="#3d5aa0" stroke-width="1.1" />
<circle cx="394.40" cy="134.79" r="1.35" fill="#45196a"/>
<circle cx="394.40" cy="145.34" r="1.35" fill="#45196a"/>
<circle cx="394.40" cy="139.66" r="1.35" fill="#45196a"/>
<rect x="399.70" y="124.64" width="4.4" height="71.86" fill="#d98f7f"/>
<line x1="401.90" y1="109.21" x2="401.90" y2="139.66" stroke="#d93a24" stroke-width="1.1" />
<line x1="400.60" y1="109.21" x2="403.20" y2="109.21" stroke="#d93a24" stroke-width="1.1" />
<line x1="400.60" y1="139.66" x2="403.20" y2="139.66" stroke="#d93a24" stroke-width="1.1" />
<circle cx="401.90" cy="109.62" r="1.35" fill="#d22f1d"/>
<circle cx="401.90" cy="129.51" r="1.35" fill="#d22f1d"/>
<circle cx="401.90" cy="132.35" r="1.35" fill="#d22f1d"/>
<circle cx="401.90" cy="135.60" r="1.35" fill="#d22f1d"/>
<rect x="407.10" y="154.68" width="4.4" height="41.82" fill="#9079ad"/>
<line x1="409.30" y1="139.66" x2="409.30" y2="167.67" stroke="#3d5aa0" stroke-width="1.1" />
<line x1="408.00" y1="139.66" x2="410.60" y2="139.66" stroke="#3d5aa0" stroke-width="1.1" />
<line x1="408.00" y1="167.67" x2="410.60" y2="167.67" stroke="#3d5aa0" stroke-width="1.1" />
<circle cx="409.30" cy="144.13" r="1.35" fill="#45196a"/>
<circle cx="409.30" cy="164.02" r="1.35" fill="#45196a"/>
<rect x="414.60" y="126.26" width="4.4" height="70.24" fill="#d98f7f"/>
<line x1="416.80" y1="90.94" x2="416.80" y2="161.99" stroke="#d93a24" stroke-width="1.1" />
<line x1="415.50" y1="90.94" x2="418.10" y2="90.94" stroke="#d93a24" stroke-width="1.1" />
<line x1="415.50" y1="161.99" x2="418.10" y2="161.99" stroke="#d93a24" stroke-width="1.1" />
<circle cx="416.80" cy="86.88" r="1.35" fill="#d22f1d"/>
<circle cx="416.80" cy="135.60" r="1.35" fill="#d22f1d"/>
<circle cx="416.80" cy="154.68" r="1.35" fill="#d22f1d"/>
<rect x="422.00" y="184.32" width="4.4" height="12.18" fill="#9079ad"/>
<line x1="424.20" y1="178.23" x2="424.20" y2="190.41" stroke="#3d5aa0" stroke-width="1.1" />
<line x1="422.90" y1="178.23" x2="425.50" y2="178.23" stroke="#3d5aa0" stroke-width="1.1" />
<line x1="422.90" y1="190.41" x2="425.50" y2="190.41" stroke="#3d5aa0" stroke-width="1.1" />
<circle cx="424.20" cy="179.45" r="1.35" fill="#45196a"/>
<circle cx="424.20" cy="187.57" r="1.35" fill="#45196a"/>
<rect x="429.50" y="173.76" width="4.4" height="22.74" fill="#d98f7f"/>
<line x1="431.70" y1="168.49" x2="431.70" y2="179.04" stroke="#d93a24" stroke-width="1.1" />
<line x1="430.40" y1="168.49" x2="433.00" y2="168.49" stroke="#d93a24" stroke-width="1.1" />
<line x1="430.40" y1="179.04" x2="433.00" y2="179.04" stroke="#d93a24" stroke-width="1.1" />
<circle cx="431.70" cy="168.89" r="1.35" fill="#d22f1d"/>
<circle cx="431.70" cy="173.76" r="1.35" fill="#d22f1d"/>
<circle cx="431.70" cy="172.55" r="1.35" fill="#d22f1d"/>
<rect x="436.90" y="141.69" width="4.4" height="54.81" fill="#9079ad"/>
<line x1="439.10" y1="119.36" x2="439.10" y2="164.02" stroke="#3d5aa0" stroke-width="1.1" />
<line x1="437.80" y1="119.36" x2="440.40" y2="119.36" stroke="#3d5aa0" stroke-width="1.1" />
<line x1="437.80" y1="164.02" x2="440.40" y2="164.02" stroke="#3d5aa0" stroke-width="1.1" />
<circle cx="439.10" cy="125.45" r="1.35" fill="#45196a"/>
<circle cx="439.10" cy="156.71" r="1.35" fill="#45196a"/>
<rect x="444.40" y="174.98" width="4.4" height="21.52" fill="#d98f7f"/>
<line x1="446.60" y1="161.58" x2="446.60" y2="188.38" stroke="#d93a24" stroke-width="1.1" />
<line x1="445.30" y1="161.58" x2="447.90" y2="161.58" stroke="#d93a24" stroke-width="1.1" />
<line x1="445.30" y1="188.38" x2="447.90" y2="188.38" stroke="#d93a24" stroke-width="1.1" />
<circle cx="446.60" cy="164.43" r="1.35" fill="#d22f1d"/>
<circle cx="446.60" cy="170.52" r="1.35" fill="#d22f1d"/>
<circle cx="446.60" cy="188.79" r="1.35" fill="#d22f1d"/>
<path d="M364.3,67.8 V66.5 H372.6 V185.5" fill="none" stroke="#3d5aa0" stroke-width="1.1"/>
<text transform="translate(368.60,64.50)" y="2.10" font-size="6" fill="#222" stroke="#222" stroke-width="0.25" text-anchor="middle" >*</text>
<path d="M439.3,117 V115.6 H447.3 V159" fill="none" stroke="#3d5aa0" stroke-width="1.1"/>
<text transform="translate(443.50,112.00)" y="2.10" font-size="6" fill="#222" stroke="#222" stroke-width="0.25" text-anchor="middle" >*</text>
<line x1="300.30" y1="31.00" x2="300.30" y2="197.30" stroke="#111" stroke-width="1.6" />
<line x1="299.50" y1="196.60" x2="451.20" y2="196.60" stroke="#111" stroke-width="1.6" />
<line x1="296.00" y1="196.50" x2="300.00" y2="196.50" stroke="#111" stroke-width="1.2" />
<text transform="translate(293.00,196.50)" y="2.77" font-size="7.9" fill="#111" stroke="#111" stroke-width="0.25" text-anchor="end" >0</text>
<line x1="296.00" y1="155.90" x2="300.00" y2="155.90" stroke="#111" stroke-width="1.2" />
<text transform="translate(293.00,155.90)" y="2.77" font-size="7.9" fill="#111" stroke="#111" stroke-width="0.25" text-anchor="end" >10</text>
<line x1="296.00" y1="115.30" x2="300.00" y2="115.30" stroke="#111" stroke-width="1.2" />
<text transform="translate(293.00,115.30)" y="2.77" font-size="7.9" fill="#111" stroke="#111" stroke-width="0.25" text-anchor="end" >20</text>
<line x1="296.00" y1="74.70" x2="300.00" y2="74.70" stroke="#111" stroke-width="1.2" />
<text transform="translate(293.00,74.70)" y="2.77" font-size="7.9" fill="#111" stroke="#111" stroke-width="0.25" text-anchor="end" >30</text>
<line x1="296.00" y1="34.10" x2="300.00" y2="34.10" stroke="#111" stroke-width="1.2" />
<text transform="translate(293.00,34.10)" y="2.77" font-size="7.9" fill="#111" stroke="#111" stroke-width="0.25" text-anchor="end" >40</text>
<line x1="316.40" y1="196.50" x2="316.40" y2="199.80" stroke="#111" stroke-width="1.2" />
<line x1="331.30" y1="196.50" x2="331.30" y2="199.80" stroke="#111" stroke-width="1.2" />
<line x1="346.20" y1="196.50" x2="346.20" y2="199.80" stroke="#111" stroke-width="1.2" />
<line x1="361.10" y1="196.50" x2="361.10" y2="199.80" stroke="#111" stroke-width="1.2" />
<line x1="376.00" y1="196.50" x2="376.00" y2="199.80" stroke="#111" stroke-width="1.2" />
<line x1="390.90" y1="196.50" x2="390.90" y2="199.80" stroke="#111" stroke-width="1.2" />
<line x1="405.80" y1="196.50" x2="405.80" y2="199.80" stroke="#111" stroke-width="1.2" />
<line x1="420.70" y1="196.50" x2="420.70" y2="199.80" stroke="#111" stroke-width="1.2" />
<line x1="435.60" y1="196.50" x2="435.60" y2="199.80" stroke="#111" stroke-width="1.2" />
<line x1="450.50" y1="196.50" x2="450.50" y2="199.80" stroke="#111" stroke-width="1.2" />
<text transform="translate(312.00,203.00) rotate(-45)" y="0.00" font-size="7.8" fill="#111" stroke="#111" stroke-width="0.22" text-anchor="end" >HSPC-MPP</text>
<text transform="translate(326.90,203.00) rotate(-45)" y="0.00" font-size="7.8" fill="#111" stroke="#111" stroke-width="0.22" text-anchor="end" >HPC</text>
<text transform="translate(341.80,203.00) rotate(-45)" y="0.00" font-size="7.8" fill="#111" stroke="#111" stroke-width="0.22" text-anchor="end" >Myeloid Prog</text>
<text transform="translate(356.70,203.00) rotate(-45)" y="0.00" font-size="7.8" fill="#111" stroke="#111" stroke-width="0.22" text-anchor="end" >Lymphoid Prog</text>
<text transform="translate(371.60,203.00) rotate(-45)" y="0.00" font-size="7.8" fill="#111" stroke="#111" stroke-width="0.22" text-anchor="end" >Erythroid Prog</text>
<text transform="translate(386.50,203.00) rotate(-45)" y="0.00" font-size="7.8" fill="#111" stroke="#111" stroke-width="0.22" text-anchor="end" >B cellProg/Prec</text>
<text transform="translate(401.40,203.00) rotate(-45)" y="0.00" font-size="7.8" fill="#111" stroke="#111" stroke-width="0.22" text-anchor="end" >Granulocyte</text>
<text transform="translate(416.30,203.00) rotate(-45)" y="0.00" font-size="7.8" fill="#111" stroke="#111" stroke-width="0.22" text-anchor="end" >B cell</text>
<text transform="translate(431.20,203.00) rotate(-45)" y="0.00" font-size="7.8" fill="#111" stroke="#111" stroke-width="0.22" text-anchor="end" >T cell</text>
<text transform="translate(446.10,203.00) rotate(-45)" y="0.00" font-size="7.8" fill="#111" stroke="#111" stroke-width="0.22" text-anchor="end" >Erythrocyte</text>
<text transform="translate(273.70,114.31) rotate(-90) scale(0.635,1)" y="3.25" font-size="9.3" fill="#111" stroke="#111" stroke-width="0.5" text-anchor="middle" letter-spacing="0.9">Proportion of cells of total</text>
<circle cx="413.5" cy="42.2" r="3.3" fill="#45196a"/>
<circle cx="413.5" cy="53.5" r="3.3" fill="#d22f1d"/>
<text transform="translate(420.20,42.20)" y="2.45" font-size="7" fill="#45196a" stroke="#45196a" stroke-width="0.1" >WT</text>
<text transform="translate(420.20,53.50)" y="2.42" font-size="6.9" fill="#d22f1d" stroke="#d22f1d" stroke-width="0.08" font-style="italic" >gata2b<tspan font-size="4.2" dy="-3">ko</tspan></text>
<text transform="translate(8.00,269.00)" y="5.22" font-size="14.5" fill="#000" stroke="#000" stroke-width="0.25" font-weight="bold" >C</text>
<text transform="translate(107.00,280.50)" y="3.60" font-size="10.3" fill="#111" stroke="#111" stroke-width="0.25" text-anchor="middle" >HSPC-MPP</text>
<path d="M91.1 352.6h0M109.4 381.3h0M93.8 357.9h0M116.9 358.8h0M95.1 364.3h0M114.6 366.3h0M91.5 351.5h0M119.3 351.0h0M94.8 365.0h0M112.3 374.3h0M103.6 387.9h0M106.9 387.0h0M92.8 358.9h0M110.4 379.2h0M104.8 390.2h0M114.8 364.8h0M100.5 380.2h0M110.1 381.9h0M94.2 360.7h0M111.3 377.4h0M100.3 383.4h0M116.5 361.2h0M92.9 360.3h0M107.9 385.3h0M94.9 366.7h0M110.1 378.6h0M105.1 388.9h0M106.5 387.7h0M93.4 363.6h0M109.6 381.9h0M93.5 364.2h0M116.4 358.3h0M104.5 390.0h0M114.9 365.8h0M104.1 388.9h0M117.1 360.7h0M98.9 376.9h0M111.1 377.2h0M101.2 381.1h0M110.6 378.3h0M90.0 346.5h0M105.9 388.6h0M94.1 362.0h0M117.4 359.8h0M93.3 359.7h0M113.3 370.9h0M95.8 366.7h0M112.0 374.7h0M91.5 353.5h0M116.0 362.8h0M103.2 386.8h0M118.9 351.5h0M100.5 381.3h0M111.8 373.7h0M96.9 371.7h0M107.4 384.2h0M103.8 390.2h0M115.3 363.9h0M102.5 386.6h0M117.8 355.6h0M94.0 363.4h0M115.6 362.6h0M91.5 353.8h0M117.2 358.1h0M101.0 385.2h0M112.1 378.1h0M89.7 346.3h0M106.7 387.7h0M102.3 386.9h0M108.2 384.5h0M103.3 388.6h0M118.6 351.9h0M92.7 358.0h0M116.6 359.3h0M96.7 373.0h0M119.2 350.3h0M103.7 388.4h0M106.1 388.8h0M91.2 351.5h0M111.2 376.8h0M92.2 354.1h0M118.0 354.5h0M93.4 360.8h0M108.6 383.8h0M93.1 357.8h0M112.0 374.3h0M90.9 350.9h0M107.7 387.5h0M101.4 385.3h0M114.1 369.5h0M92.6 356.5h0M108.5 384.1h0M96.5 369.1h0M111.0 378.2h0M94.1 363.2h0M113.2 370.1h0M98.1 374.1h0M118.9 350.4h0M104.2 389.7h0M106.2 389.9h0M100.1 380.7h0M110.6 377.1h0M93.5 361.9h0M112.2 377.5h0M96.6 368.3h0M110.4 375.7h0M91.8 355.0h0M109.6 380.9h0M92.9 360.0h0M114.5 366.6h0M94.9 366.1h0M115.9 361.1h0M89.6 347.0h0M116.6 357.2h0M103.8 389.2h0M112.5 371.2h0M98.2 375.3h0M109.2 379.5h0M91.7 355.3h0M106.3 387.1h0M91.4 353.5h0M110.3 380.2h0M103.9 389.4h0M113.6 369.9h0M96.5 369.8h0M116.4 363.5h0M90.4 349.1h0M111.2 376.3h0M103.2 385.8h0M110.0 379.9h0M100.0 382.5h0M109.9 382.7h0M105.0 390.2h0M112.1 375.5h0M98.6 377.5h0M111.4 375.2h0M91.3 353.6h0M116.0 361.4h0M95.8 370.3h0M106.8 386.7h0M94.5 363.4h0M104.9 390.2h0M101.4 385.8h0M117.9 354.2h0M100.0 379.7h0M114.4 368.0h0M91.4 352.4h0M114.3 368.1h0M98.3 375.3h0M109.7 381.6h0M95.6 366.0h0M116.5 358.9h0M100.7 382.0h0M106.4 386.4h0M99.3 379.3h0M116.9 361.6h0M93.9 362.8h0M110.9 379.9h0M105.2 390.1h0M119.1 351.0h0M96.8 372.5h0M106.8 386.7h0M92.5 358.2h0M114.7 366.8h0M94.0 360.5h0M110.7 378.6h0M102.8 386.2h0M114.3 367.4h0M102.2 386.6h0M116.8 360.4h0M90.5 348.6h0M118.4 351.9h0M99.1 379.0h0M117.0 359.2h0M104.4 387.7h0M110.5 379.1h0M104.1 389.3h0M111.1 376.2h0M99.2 378.3h0M110.9 378.7h0M95.3 367.0h0M118.9 353.6h0M93.6 356.9h0M111.8 373.9h0M95.3 364.6h0M107.1 387.2h0M104.3 389.2h0M109.9 379.5h0M102.2 389.2h0M107.2 387.0h0M90.2 349.1h0M108.6 383.6h0M99.2 377.9h0M116.7 359.1h0M96.3 372.4h0M113.2 368.8h0M89.9 349.4h0M107.5 387.4h0M97.4 371.1h0M116.2 363.2h0M99.1 377.6h0M117.2 359.7h0M91.9 354.4h0M116.4 363.0h0M97.0 372.0h0M117.9 356.7h0M94.3 364.1h0M106.0 389.9h0M95.7 367.2h0M109.0 383.1h0M94.8 364.6h0M111.8 376.9h0M101.7 384.6h0M116.7 360.3h0M93.3 359.7h0M110.8 378.8h0M96.7 371.8h0M112.3 375.4h0M97.4 371.9h0M107.1 387.4h0M96.8 372.3h0M111.1 377.8h0M100.1 380.8h0M109.5 381.8h0M97.2 371.5h0M107.5 385.4h0M91.9 353.6h0M105.7 389.3h0M92.1 357.4h0M107.6 387.5h0M96.3 371.1h0M112.4 374.4h0M91.1 353.4h0M106.8 388.7h0M100.7 381.6h0M114.8 364.9h0M93.9 360.4h0M113.1 371.1h0M101.5 382.6h0M114.3 369.3h0M97.9 376.2h0M118.4 354.8h0M94.3 363.4h0M113.0 371.0h0M101.8 384.9h0M116.4 361.5h0M99.6 379.7h0M113.1 372.3h0M102.9 387.3h0M104.6 390.0h0M89.9 349.9h0M105.2 389.7h0M93.9 364.1h0M109.3 382.4h0M99.3 380.6h0M109.4 383.2h0M96.1 369.0h0M106.9 388.0h0M96.9 371.9h0M107.0 386.5h0M105.6 389.8h0M119.3 351.0h0M97.0 370.7h0M107.3 387.0h0M93.4 360.7h0M105.8 389.3h0M92.2 357.4h0M113.5 371.1h0M91.5 353.0h0M118.0 355.2h0M90.4 348.8h0M109.2 382.3h0M104.2 387.1h0M105.6 390.2h0M99.5 379.8h0M106.1 387.9h0M100.8 382.0h0M115.5 361.9h0M104.2 389.1h0M113.1 370.8h0M105.0 389.9h0M105.4 389.4h0M96.0 369.0h0M117.5 358.3h0M102.4 386.6h0M118.1 356.9h0M98.4 375.9h0M107.5 387.4h0M96.9 371.4h0M114.7 366.8h0M97.9 372.4h0M106.6 387.5h0M99.6 378.3h0M106.2 389.6h0M103.3 387.3h0M115.8 365.3h0M103.2 388.8h0M109.1 382.4h0M94.9 365.6h0M106.0 389.0h0M92.5 358.4h0M113.4 371.0h0M96.8 370.1h0M117.7 358.0h0M90.4 347.7h0M110.2 378.9h0M97.5 374.3h0M113.1 371.9h0M103.7 388.4h0M115.8 361.9h0M104.3 389.3h0M114.3 369.0h0M95.5 367.6h0M114.7 368.3h0M95.0 364.9h0M106.4 388.5h0M90.6 351.2h0M111.2 375.8h0M100.4 381.6h0M118.5 354.3h0M98.0 376.3h0M112.1 375.4h0M94.2 362.6h0M106.7 389.5h0M98.2 375.4h0M117.2 359.4h0M95.3 367.1h0M115.0 365.8h0M96.4 369.3h0M117.5 355.8h0M105.0 388.6h0M112.2 373.8h0M97.8 374.1h0M111.8 375.7h0M93.1 359.3h0M115.4 362.5h0M99.4 378.7h0M116.2 359.4h0M101.7 385.8h0M115.5 364.1h0M103.5 386.9h0M105.3 390.2h0M99.2 377.0h0M116.5 360.8h0M103.0 386.0h0M114.6 366.1h0M89.5 346.4h0M111.9 376.0h0M104.0 388.3h0M108.0 386.1h0M92.6 354.2h0M116.5 359.7h0M92.4 355.9h0M114.8 367.5h0M99.5 378.6h0M111.4 377.2h0M91.4 354.6h0M116.3 360.9h0M90.8 353.5h0M108.6 382.5h0M95.1 367.3h0M113.4 368.5h0M95.9 368.1h0M105.2 390.2h0M92.3 358.1h0M108.3 382.7h0M101.5 383.7h0M114.6 367.9h0M100.5 381.9h0M119.2 349.1h0M97.1 371.2h0M110.9 379.0h0M90.6 349.8h0M118.7 351.3h0M97.6 373.0h0M118.9 352.6h0M104.1 387.9h0M118.5 352.8h0M91.1 352.1h0M112.9 373.5h0M91.7 353.8h0M116.3 360.9h0M92.6 357.3h0M109.3 383.8h0M97.6 374.8h0M105.0 390.2h0M97.2 373.3h0M114.5 368.7h0M104.2 389.1h0M112.0 376.2h0M102.4 383.9h0M113.3 369.9h0M102.0 384.3h0M105.4 388.9h0M93.2 361.6h0M118.4 355.1h0M99.1 377.4h0M109.3 380.8h0M92.3 356.4h0M107.1 385.1h0M102.6 384.8h0M104.6 390.2h0M102.8 385.9h0M117.0 357.9h0M93.0 357.2h0M115.5 361.0h0M93.2 359.7h0M111.1 378.4h0M90.0 347.8h0M107.6 385.6h0M90.8 350.0h0M113.3 373.2h0M91.4 351.8h0M115.1 364.4h0M93.2 360.7h0M113.3 372.6h0M104.9 390.1h0M107.1 387.1h0M93.0 357.0h0M112.2 374.8h0M120.2 360.3h0M119.6 357.0h0M96.5 372.5h0M98.0 369.0h0M121.0 356.0h0" stroke="#48196c" stroke-width="1.6" stroke-linecap="round" fill="none"/>
<path d="M89.7 347.8h0M86.1 323.7h0M85.7 322.3h0M88.8 341.9h0M85.7 325.9h0M87.8 350.8h0M84.8 318.6h0M90.4 343.5h0M85.7 331.2h0M88.1 334.3h0M85.8 337.1h0M84.8 319.7h0M87.4 339.4h0M86.0 335.2h0M86.3 335.9h0M88.1 333.2h0M88.5 342.3h0M85.2 324.8h0M85.7 327.9h0M88.2 343.4h0M84.6 324.7h0M85.2 332.4h0M87.7 326.2h0M88.0 336.1h0M87.9 345.6h0M86.8 327.3h0M89.4 342.6h0M84.4 325.9h0M119.3 341.5h0M117.3 346.5h0M120.7 336.3h0M124.5 334.8h0M121.7 330.8h0M119.9 338.9h0M122.4 333.6h0M121.3 340.6h0M120.6 341.3h0M121.2 328.1h0M119.8 354.0h0M122.5 334.4h0M123.8 329.6h0M122.6 322.5h0M119.7 344.7h0M121.6 335.8h0M121.4 334.8h0M120.9 343.6h0M121.6 334.2h0M120.5 340.8h0M119.0 345.2h0M123.7 331.9h0M127.0 337.0h0M127.0 343.7h0M125.5 341.0h0M82.1 338.0h0M85.0 319.6h0" stroke="#d83a20" stroke-width="1.8" stroke-linecap="round" fill="none"/>
<circle cx="84.3" cy="326.7" r="1.65" fill="#a8182a"/>
<circle cx="81" cy="335.4" r="1.65" fill="#a8182a"/>
<circle cx="124.8" cy="309.3" r="1.65" fill="#a8182a"/>
<circle cx="123.5" cy="329.4" r="1.65" fill="#a8182a"/>
<circle cx="124.2" cy="334.5" r="1.65" fill="#a8182a"/>
<line x1="104.90" y1="303.00" x2="104.90" y2="390.00" stroke="#000" stroke-width="1.3" stroke-dasharray="1.25 1.32"/>
<line x1="41.00" y1="347.60" x2="172.00" y2="347.60" stroke="#000" stroke-width="1.3" stroke-dasharray="1.25 1.32"/>
<line x1="40.70" y1="301.30" x2="40.70" y2="391.00" stroke="#111" stroke-width="1.4" />
<line x1="40.20" y1="390.30" x2="172.00" y2="390.30" stroke="#111" stroke-width="1.4" />
<line x1="36.50" y1="390.20" x2="40.70" y2="390.20" stroke="#111" stroke-width="1.2" />
<text transform="translate(33.50,390.20)" y="2.66" font-size="7.6" fill="#111" stroke="#111" stroke-width="0.25" text-anchor="end" >0</text>
<line x1="36.50" y1="368.70" x2="40.70" y2="368.70" stroke="#111" stroke-width="1.2" />
<text transform="translate(33.50,368.70)" y="2.66" font-size="7.6" fill="#111" stroke="#111" stroke-width="0.25" text-anchor="end" >1</text>
<line x1="36.50" y1="347.20" x2="40.70" y2="347.20" stroke="#111" stroke-width="1.2" />
<text transform="translate(33.50,347.20)" y="2.66" font-size="7.6" fill="#111" stroke="#111" stroke-width="0.25" text-anchor="end" >2</text>
<line x1="36.50" y1="325.70" x2="40.70" y2="325.70" stroke="#111" stroke-width="1.2" />
<text transform="translate(33.50,325.70)" y="2.66" font-size="7.6" fill="#111" stroke="#111" stroke-width="0.25" text-anchor="end" >3</text>
<line x1="36.50" y1="304.20" x2="40.70" y2="304.20" stroke="#111" stroke-width="1.2" />
<text transform="translate(33.50,304.20)" y="2.66" font-size="7.6" fill="#111" stroke="#111" stroke-width="0.25" text-anchor="end" >4</text>
<line x1="40.30" y1="390.30" x2="40.30" y2="393.80" stroke="#111" stroke-width="1.2" />
<line x1="72.30" y1="390.30" x2="72.30" y2="393.80" stroke="#111" stroke-width="1.2" />
<line x1="105.00" y1="390.30" x2="105.00" y2="393.80" stroke="#111" stroke-width="1.2" />
<line x1="137.00" y1="390.30" x2="137.00" y2="393.80" stroke="#111" stroke-width="1.2" />
<line x1="169.70" y1="390.30" x2="169.70" y2="393.80" stroke="#111" stroke-width="1.2" />
<text transform="translate(40.30,402.20)" y="2.66" font-size="7.6" fill="#111" stroke="#111" stroke-width="0.25" text-anchor="middle" >-1</text>
<text transform="translate(105.00,402.20)" y="2.66" font-size="7.6" fill="#111" stroke="#111" stroke-width="0.25" text-anchor="middle" >0</text>
<text transform="translate(169.70,402.20)" y="2.66" font-size="7.6" fill="#111" stroke="#111" stroke-width="0.25" text-anchor="middle" >1</text>
<text transform="translate(58.40,325.70)" y="2.17" font-size="6.2" fill="#222" stroke="#222" stroke-width="0.25" >FOXA1</text>
<text transform="translate(59.30,335.20)" y="2.17" font-size="6.2" fill="#222" stroke="#222" stroke-width="0.25" >CTCF</text>
<text transform="translate(127.60,309.50)" y="2.17" font-size="6.2" fill="#222" stroke="#222" stroke-width="0.25" >RUNX1</text>
<text transform="translate(124.80,325.70)" y="2.17" font-size="6.2" fill="#222" stroke="#222" stroke-width="0.25" >NFIC</text>
<text transform="translate(127.00,333.20)" y="2.17" font-size="6.2" fill="#222" stroke="#222" stroke-width="0.25" >ATF4</text>
<text transform="translate(127.00,340.80)" y="2.17" font-size="6.2" fill="#222" stroke="#222" stroke-width="0.25" >STAT3</text>
<text transform="translate(45.50,414.30)" y="2.55" font-size="7.3" fill="#222" stroke="#222" stroke-width="0.25" >WT-enriched</text>
<text transform="translate(123.00,414.30)" y="2.55" font-size="7.3" fill="#222" stroke="#222" stroke-width="0.25" >KO-enriched</text>
<line x1="95.60" y1="414.20" x2="102.70" y2="414.20" stroke="#111" stroke-width="1.3" />
<path d="M92.6,414.2 L96.39999999999999,412.2 L96.39999999999999,416.2 Z" fill="#111"/>
<line x1="109.70" y1="414.20" x2="116.30" y2="414.20" stroke="#111" stroke-width="1.3" />
<path d="M119.3,414.2 L115.5,412.2 L115.5,416.2 Z" fill="#111"/>
<text transform="translate(105.13,427.00) scale(0.612,1)" y="3.36" font-size="9.6" fill="#111" stroke="#111" stroke-width="0.5" text-anchor="middle" letter-spacing="0.9">TF motif score</text>
<text transform="translate(14.60,345.90) rotate(-90) scale(0.659,1)" y="3.57" font-size="10.2" fill="#111" stroke="#111" stroke-width="0.5" text-anchor="middle" letter-spacing="0.9">-log<tspan font-size="6.32" dy="2.24">10</tspan><tspan dy="-2.24">(p-value)</tspan></text>
<text transform="translate(191.30,269.40)" y="5.22" font-size="14.5" fill="#000" stroke="#000" stroke-width="0.25" font-weight="bold" >D</text>
<text transform="translate(316.70,280.50)" y="3.60" font-size="10.3" fill="#111" stroke="#111" stroke-width="0.25" text-anchor="middle" >HSPC-MPP</text>
<line x1="225.30" y1="294.30" x2="225.30" y2="391.00" stroke="#111" stroke-width="1.4" />
<line x1="224.70" y1="390.40" x2="303.00" y2="390.40" stroke="#111" stroke-width="1.4" />
<line x1="221.50" y1="337.00" x2="225.30" y2="337.00" stroke="#111" stroke-width="1.2" />
<text transform="translate(218.70,337.00)" y="2.66" font-size="7.6" fill="#111" stroke="#111" stroke-width="0.25" text-anchor="end" >10</text>
<line x1="221.50" y1="380.80" x2="225.30" y2="380.80" stroke="#111" stroke-width="1.2" />
<text transform="translate(218.70,380.80)" y="2.66" font-size="7.6" fill="#111" stroke="#111" stroke-width="0.25" text-anchor="end" >5</text>
<line x1="254.10" y1="390.40" x2="254.10" y2="394.00" stroke="#111" stroke-width="1.2" />
<text transform="translate(254.10,403.20)" y="2.66" font-size="7.6" fill="#111" stroke="#111" stroke-width="0.25" text-anchor="middle" >-5</text>
<line x1="299.40" y1="390.40" x2="299.40" y2="394.00" stroke="#111" stroke-width="1.2" />
<text transform="translate(299.40,403.20)" y="2.66" font-size="7.6" fill="#111" stroke="#111" stroke-width="0.25" text-anchor="middle" >0</text>
<text transform="translate(229.10,297.20)" y="2.13" font-size="6.1" fill="#111" stroke="#111" stroke-width="0.12" >WT</text>
<line x1="330.00" y1="293.80" x2="330.00" y2="390.60" stroke="#111" stroke-width="1.4" />
<line x1="329.40" y1="390.00" x2="407.50" y2="390.00" stroke="#111" stroke-width="1.4" />
<line x1="326.20" y1="337.00" x2="330.00" y2="337.00" stroke="#111" stroke-width="1.2" />
<text transform="translate(323.40,337.00)" y="2.66" font-size="7.6" fill="#111" stroke="#111" stroke-width="0.25" text-anchor="end" >10</text>
<line x1="326.20" y1="380.80" x2="330.00" y2="380.80" stroke="#111" stroke-width="1.2" />
<text transform="translate(323.40,380.80)" y="2.66" font-size="7.6" fill="#111" stroke="#111" stroke-width="0.25" text-anchor="end" >5</text>
<line x1="357.50" y1="390.00" x2="357.50" y2="393.60" stroke="#111" stroke-width="1.2" />
<text transform="translate(357.50,402.80)" y="2.66" font-size="7.6" fill="#111" stroke="#111" stroke-width="0.25" text-anchor="middle" >-5</text>
<line x1="403.80" y1="390.00" x2="403.80" y2="393.60" stroke="#111" stroke-width="1.2" />
<text transform="translate(403.80,402.80)" y="2.66" font-size="7.6" fill="#111" stroke="#111" stroke-width="0.25" text-anchor="middle" >0</text>
<text transform="translate(332.40,297.20)" y="2.20" font-size="6.3" fill="#111" stroke="#111" stroke-width="0.1" font-style="italic" >gata2b<tspan font-size="4.2" dy="-2.6">ko</tspan></text>
<circle cx="265.6" cy="325.3" r="1.3" fill="#6aa4dc"/>
<circle cx="253.4" cy="326.0" r="1.3" fill="#ecb050"/>
<circle cx="262.2" cy="325.1" r="1.3" fill="#7ab0e2"/>
<circle cx="270.0" cy="321.8" r="1.3" fill="#8fc0ea"/>
<circle cx="249.5" cy="326.5" r="1.3" fill="#f0a848"/>
<circle cx="254.8" cy="325.8" r="1.3" fill="#c4dcee"/>
<circle cx="259.5" cy="326.4" r="1.3" fill="#f0c070"/>
<circle cx="271.1" cy="321.9" r="1.3" fill="#7ab0e2"/>
<circle cx="269.2" cy="323.4" r="1.3" fill="#6aa4dc"/>
<circle cx="255.1" cy="328.6" r="1.3" fill="#f0c070"/>
<circle cx="255.0" cy="320.5" r="1.3" fill="#a8d0ee"/>
<circle cx="265.5" cy="327.3" r="1.3" fill="#a8d0ee"/>
<circle cx="253.8" cy="324.7" r="1.3" fill="#f3dcb0"/>
<circle cx="265.8" cy="321.5" r="1.3" fill="#8fc0ea"/>
<circle cx="256.0" cy="322.9" r="1.3" fill="#f0d8a0"/>
<circle cx="250.1" cy="324.8" r="1.3" fill="#b9d8ef"/>
<circle cx="258.6" cy="322.8" r="1.3" fill="#e8e0cc"/>
<circle cx="256.4" cy="328.1" r="1.3" fill="#c4dcee"/>
<circle cx="252.8" cy="329.3" r="1.3" fill="#e8e2d0"/>
<circle cx="249.1" cy="324.5" r="1.3" fill="#e8e2d0"/>
<circle cx="251.8" cy="327.4" r="1.3" fill="#f2c878"/>
<circle cx="260.2" cy="322.8" r="1.3" fill="#a8d0ee"/>
<circle cx="255.9" cy="324.3" r="1.3" fill="#c4dcee"/>
<circle cx="256.1" cy="324.7" r="1.3" fill="#a8d0ee"/>
<circle cx="263.4" cy="323.9" r="1.3" fill="#6aa4dc"/>
<circle cx="246.3" cy="321.5" r="1.3" fill="#f0a848"/>
<circle cx="270.4" cy="323.1" r="1.3" fill="#6aa4dc"/>
<circle cx="269.7" cy="322.7" r="1.3" fill="#7ab0e2"/>
<circle cx="253.1" cy="324.3" r="1.3" fill="#ecb050"/>
<circle cx="247.0" cy="322.9" r="1.3" fill="#f3dcb0"/>
<circle cx="247.2" cy="328.6" r="1.3" fill="#b9d8ef"/>
<circle cx="249.3" cy="320.8" r="1.3" fill="#e8e2d0"/>
<circle cx="245.8" cy="321.7" r="1.3" fill="#f0a848"/>
<circle cx="271.0" cy="326.1" r="1.3" fill="#8fc0ea"/>
<circle cx="261.3" cy="322.4" r="1.3" fill="#e8e0cc"/>
<circle cx="253.4" cy="323.0" r="1.3" fill="#ecb050"/>
<circle cx="251.3" cy="329.0" r="1.3" fill="#e8e2d0"/>
<circle cx="262.8" cy="322.9" r="1.3" fill="#6aa4dc"/>
<circle cx="258.0" cy="323.5" r="1.3" fill="#c4dcee"/>
<circle cx="253.3" cy="324.6" r="1.3" fill="#f3dcb0"/>
<circle cx="257.7" cy="326.8" r="1.3" fill="#c4dcee"/>
<circle cx="254.9" cy="321.0" r="1.3" fill="#e8e0cc"/>
<circle cx="264.5" cy="321.5" r="1.3" fill="#7ab0e2"/>
<circle cx="260.1" cy="328.7" r="1.3" fill="#c4dcee"/>
<circle cx="256.3" cy="326.4" r="1.3" fill="#f0d8a0"/>
<circle cx="260.0" cy="325.5" r="1.3" fill="#e8e0cc"/>
<circle cx="251.4" cy="322.0" r="1.3" fill="#ecb050"/>
<circle cx="254.0" cy="324.5" r="1.3" fill="#f2c878"/>
<circle cx="266.0" cy="327.5" r="1.3" fill="#7ab0e2"/>
<circle cx="248.9" cy="322.4" r="1.3" fill="#f0a848"/>
<circle cx="261.0" cy="326.7" r="1.3" fill="#e8e0cc"/>
<circle cx="262.0" cy="323.7" r="1.3" fill="#7ab0e2"/>
<circle cx="267.0" cy="325.5" r="1.3" fill="#8fc0ea"/>
<circle cx="269.9" cy="325.8" r="1.3" fill="#a8d0ee"/>
<circle cx="268.4" cy="320.3" r="1.3" fill="#c4dcee"/>
<circle cx="249.5" cy="326.2" r="1.3" fill="#e8e2d0"/>
<circle cx="266.5" cy="327.5" r="1.3" fill="#6aa4dc"/>
<circle cx="261.4" cy="321.5" r="1.3" fill="#a8d0ee"/>
<circle cx="256.0" cy="320.4" r="1.3" fill="#e8e0cc"/>
<circle cx="245.5" cy="324.8" r="1.3" fill="#f0a848"/>
<circle cx="261.2" cy="324.7" r="1.3" fill="#f0c070"/>
<circle cx="256.5" cy="324.1" r="1.3" fill="#c4dcee"/>
<circle cx="248.2" cy="325.9" r="1.3" fill="#ecb050"/>
<circle cx="264.5" cy="328.1" r="1.3" fill="#8fc0ea"/>
<circle cx="248.2" cy="327.6" r="1.3" fill="#f0a848"/>
<circle cx="248.0" cy="326.8" r="1.3" fill="#f0a848"/>
<circle cx="263.5" cy="321.6" r="1.3" fill="#a8d0ee"/>
<circle cx="270.4" cy="321.7" r="1.3" fill="#6aa4dc"/>
<circle cx="264.8" cy="323.8" r="1.3" fill="#a8d0ee"/>
<circle cx="257.9" cy="328.6" r="1.3" fill="#f0c070"/>
<circle cx="251.7" cy="323.3" r="1.3" fill="#b9d8ef"/>
<circle cx="252.2" cy="325.7" r="1.3" fill="#e8e2d0"/>
<circle cx="249.6" cy="328.9" r="1.3" fill="#e8e2d0"/>
<circle cx="252.7" cy="320.5" r="1.3" fill="#ecb050"/>
<circle cx="265.5" cy="323.6" r="1.3" fill="#6aa4dc"/>
<circle cx="255.9" cy="328.0" r="1.3" fill="#f0d8a0"/>
<circle cx="258.6" cy="321.4" r="1.3" fill="#e8e0cc"/>
<circle cx="248.7" cy="328.5" r="1.3" fill="#f2c878"/>
<circle cx="262.4" cy="326.8" r="1.3" fill="#6aa4dc"/>
<circle cx="264.2" cy="323.5" r="1.3" fill="#8fc0ea"/>
<circle cx="254.2" cy="327.7" r="1.3" fill="#a8d0ee"/>
<circle cx="260.0" cy="323.9" r="1.3" fill="#f0c070"/>
<circle cx="251.5" cy="328.2" r="1.3" fill="#f2c878"/>
<circle cx="248.9" cy="325.5" r="1.3" fill="#f2c878"/>
<circle cx="270.2" cy="321.7" r="1.3" fill="#7ab0e2"/>
<circle cx="248.8" cy="323.6" r="1.3" fill="#f2c878"/>
<circle cx="267.8" cy="322.4" r="1.3" fill="#6aa4dc"/>
<circle cx="260.8" cy="324.2" r="1.3" fill="#f0d8a0"/>
<circle cx="266.3" cy="321.4" r="1.3" fill="#8fc0ea"/>
<circle cx="261.5" cy="326.3" r="1.3" fill="#8fc0ea"/>
<circle cx="258.9" cy="325.0" r="1.3" fill="#f0d8a0"/>
<circle cx="254.8" cy="321.4" r="1.3" fill="#e8e0cc"/>
<circle cx="255.2" cy="320.4" r="1.3" fill="#f0d8a0"/>
<circle cx="269.5" cy="325.4" r="1.3" fill="#7ab0e2"/>
<circle cx="248.8" cy="329.2" r="1.3" fill="#ecb050"/>
<circle cx="252.4" cy="323.8" r="1.3" fill="#f3dcb0"/>
<circle cx="247.2" cy="328.7" r="1.3" fill="#ecb050"/>
<circle cx="252.0" cy="320.6" r="1.3" fill="#f2c878"/>
<circle cx="266.8" cy="320.7" r="1.3" fill="#8fc0ea"/>
<circle cx="270.1" cy="320.8" r="1.3" fill="#7ab0e2"/>
<circle cx="253.7" cy="328.0" r="1.3" fill="#ecb050"/>
<circle cx="250.7" cy="327.0" r="1.3" fill="#f0a848"/>
<circle cx="271.5" cy="324.9" r="1.3" fill="#c4dcee"/>
<circle cx="259.2" cy="326.1" r="1.3" fill="#f0d8a0"/>
<circle cx="253.2" cy="325.9" r="1.3" fill="#f2c878"/>
<circle cx="249.9" cy="327.7" r="1.3" fill="#ecb050"/>
<circle cx="262.6" cy="323.0" r="1.3" fill="#6aa4dc"/>
<circle cx="261.8" cy="322.5" r="1.3" fill="#7ab0e2"/>
<circle cx="249.5" cy="324.5" r="1.3" fill="#f0a848"/>
<circle cx="249.5" cy="322.3" r="1.3" fill="#ecb050"/>
<circle cx="267.6" cy="326.3" r="1.3" fill="#6aa4dc"/>
<circle cx="251.8" cy="323.6" r="1.3" fill="#f3dcb0"/>
<circle cx="246.9" cy="325.0" r="1.3" fill="#c0201a"/>
<circle cx="253.5" cy="322.5" r="1.3" fill="#e06030"/>
<circle cx="259.6" cy="307.3" r="1.3" fill="#6aa4dc"/>
<circle cx="259.2" cy="314.6" r="1.3" fill="#a8d0ee"/>
<circle cx="261.5" cy="316.5" r="1.3" fill="#8fc0ea"/>
<circle cx="261.5" cy="318.5" r="1.3" fill="#c4dcee"/>
<circle cx="260.0" cy="312.0" r="1.3" fill="#b9d8ef"/>
<circle cx="263.0" cy="327.0" r="1.3" fill="#e8902a"/>
<circle cx="255.0" cy="326.0" r="1.3" fill="#f0b040"/>
<circle cx="362.5" cy="320.5" r="1.3" fill="#ead8b0"/>
<circle cx="354.9" cy="325.4" r="1.3" fill="#e05028"/>
<circle cx="350.3" cy="326.6" r="1.3" fill="#c41e16"/>
<circle cx="353.3" cy="325.1" r="1.3" fill="#e87030"/>
<circle cx="368.7" cy="323.4" r="1.3" fill="#f0b050"/>
<circle cx="355.3" cy="323.1" r="1.3" fill="#b51a14"/>
<circle cx="370.3" cy="320.5" r="1.3" fill="#f4a840"/>
<circle cx="348.8" cy="325.5" r="1.3" fill="#d84020"/>
<circle cx="354.0" cy="326.3" r="1.3" fill="#d84020"/>
<circle cx="358.6" cy="326.7" r="1.3" fill="#b51a14"/>
<circle cx="367.4" cy="325.6" r="1.3" fill="#f0c878"/>
<circle cx="355.7" cy="324.8" r="1.3" fill="#e05028"/>
<circle cx="352.0" cy="325.5" r="1.3" fill="#e87030"/>
<circle cx="351.0" cy="323.5" r="1.3" fill="#f0a040"/>
<circle cx="369.7" cy="324.0" r="1.3" fill="#e8e0c8"/>
<circle cx="357.7" cy="327.4" r="1.3" fill="#e05028"/>
<circle cx="356.0" cy="326.6" r="1.3" fill="#e05028"/>
<circle cx="365.9" cy="321.4" r="1.3" fill="#f0a030"/>
<circle cx="350.3" cy="322.9" r="1.3" fill="#b51a14"/>
<circle cx="371.3" cy="321.0" r="1.3" fill="#f0b050"/>
<circle cx="365.8" cy="321.6" r="1.3" fill="#f0a030"/>
<circle cx="370.5" cy="321.7" r="1.3" fill="#e8e0c8"/>
<circle cx="352.8" cy="325.5" r="1.3" fill="#d84020"/>
<circle cx="367.5" cy="326.4" r="1.3" fill="#f0a030"/>
<circle cx="358.9" cy="327.1" r="1.3" fill="#f0a040"/>
<circle cx="358.3" cy="321.6" r="1.3" fill="#e05028"/>
<circle cx="352.3" cy="322.8" r="1.3" fill="#f0a040"/>
<circle cx="358.0" cy="323.8" r="1.3" fill="#f0a040"/>
<circle cx="349.5" cy="328.4" r="1.3" fill="#e87030"/>
<circle cx="357.3" cy="322.7" r="1.3" fill="#d84020"/>
<circle cx="364.1" cy="321.1" r="1.3" fill="#e8e0c8"/>
<circle cx="360.2" cy="320.5" r="1.3" fill="#f0a030"/>
<circle cx="352.5" cy="325.1" r="1.3" fill="#c41e16"/>
<circle cx="351.0" cy="325.6" r="1.3" fill="#e87030"/>
<circle cx="358.4" cy="328.2" r="1.3" fill="#e05028"/>
<circle cx="373.1" cy="322.6" r="1.3" fill="#e8e0c8"/>
<circle cx="370.0" cy="320.0" r="1.3" fill="#f0a030"/>
<circle cx="356.3" cy="323.5" r="1.3" fill="#e87030"/>
<circle cx="362.9" cy="326.3" r="1.3" fill="#f0b050"/>
<circle cx="352.1" cy="319.5" r="1.3" fill="#f0a040"/>
<circle cx="353.9" cy="326.6" r="1.3" fill="#e05028"/>
<circle cx="351.9" cy="320.8" r="1.3" fill="#b51a14"/>
<circle cx="370.0" cy="325.2" r="1.3" fill="#f0b050"/>
<circle cx="352.5" cy="324.0" r="1.3" fill="#b51a14"/>
<circle cx="356.0" cy="328.0" r="1.3" fill="#d84020"/>
<circle cx="353.1" cy="323.0" r="1.3" fill="#d84020"/>
<circle cx="371.9" cy="325.6" r="1.3" fill="#f0a030"/>
<circle cx="371.9" cy="321.4" r="1.3" fill="#ead8b0"/>
<circle cx="359.5" cy="327.6" r="1.3" fill="#f0c878"/>
<circle cx="351.3" cy="327.5" r="1.3" fill="#d84020"/>
<circle cx="355.3" cy="327.5" r="1.3" fill="#c41e16"/>
<circle cx="361.0" cy="322.7" r="1.3" fill="#f4a840"/>
<circle cx="363.2" cy="321.5" r="1.3" fill="#f4a840"/>
<circle cx="349.5" cy="322.7" r="1.3" fill="#b51a14"/>
<circle cx="363.6" cy="321.8" r="1.3" fill="#f0b050"/>
<circle cx="356.2" cy="325.4" r="1.3" fill="#c41e16"/>
<circle cx="369.8" cy="325.1" r="1.3" fill="#f0a030"/>
<circle cx="363.3" cy="320.9" r="1.3" fill="#ead8b0"/>
<circle cx="348.7" cy="323.4" r="1.3" fill="#d84020"/>
<circle cx="352.8" cy="325.0" r="1.3" fill="#d84020"/>
<circle cx="362.3" cy="326.1" r="1.3" fill="#f4a840"/>
<circle cx="357.6" cy="326.8" r="1.3" fill="#f0a040"/>
<circle cx="362.5" cy="323.9" r="1.3" fill="#ead8b0"/>
<circle cx="350.9" cy="325.8" r="1.3" fill="#e05028"/>
<circle cx="354.0" cy="324.2" r="1.3" fill="#f0a040"/>
<circle cx="353.3" cy="320.8" r="1.3" fill="#b51a14"/>
<circle cx="357.0" cy="323.9" r="1.3" fill="#c41e16"/>
<circle cx="357.7" cy="326.6" r="1.3" fill="#b51a14"/>
<circle cx="357.7" cy="327.2" r="1.3" fill="#e87030"/>
<circle cx="357.2" cy="326.4" r="1.3" fill="#c41e16"/>
<circle cx="368.7" cy="323.2" r="1.3" fill="#f0c878"/>
<circle cx="359.5" cy="325.4" r="1.3" fill="#e8e0c8"/>
<circle cx="363.4" cy="323.4" r="1.3" fill="#e8e0c8"/>
<circle cx="362.3" cy="326.5" r="1.3" fill="#f0c878"/>
<circle cx="361.9" cy="321.8" r="1.3" fill="#e8e0c8"/>
<circle cx="370.8" cy="322.9" r="1.3" fill="#e8e0c8"/>
<circle cx="358.0" cy="326.6" r="1.3" fill="#e87030"/>
<circle cx="352.7" cy="320.1" r="1.3" fill="#e05028"/>
<circle cx="360.6" cy="321.0" r="1.3" fill="#ead8b0"/>
<circle cx="357.0" cy="321.6" r="1.3" fill="#e05028"/>
<circle cx="363.4" cy="320.1" r="1.3" fill="#ead8b0"/>
<circle cx="364.4" cy="323.7" r="1.3" fill="#f4a840"/>
<circle cx="364.1" cy="322.4" r="1.3" fill="#f4a840"/>
<circle cx="366.3" cy="323.4" r="1.3" fill="#f4a840"/>
<circle cx="350.3" cy="326.0" r="1.3" fill="#c41e16"/>
<circle cx="363.7" cy="326.4" r="1.3" fill="#f4a840"/>
<circle cx="358.2" cy="321.8" r="1.3" fill="#f0a040"/>
<circle cx="356.4" cy="327.4" r="1.3" fill="#e05028"/>
<circle cx="351.3" cy="323.0" r="1.3" fill="#f0a040"/>
<circle cx="365.0" cy="324.4" r="1.3" fill="#f0a030"/>
<circle cx="364.5" cy="322.8" r="1.3" fill="#f0a030"/>
<circle cx="364.6" cy="319.6" r="1.3" fill="#ead8b0"/>
<circle cx="366.1" cy="323.9" r="1.3" fill="#f0a030"/>
<circle cx="361.9" cy="320.8" r="1.3" fill="#ead8b0"/>
<circle cx="363.1" cy="321.8" r="1.3" fill="#e8e0c8"/>
<circle cx="361.5" cy="322.7" r="1.3" fill="#f0a030"/>
<circle cx="367.5" cy="320.5" r="1.3" fill="#ead8b0"/>
<circle cx="353.9" cy="326.6" r="1.3" fill="#d84020"/>
<circle cx="363.5" cy="327.8" r="1.3" fill="#f0a030"/>
<circle cx="356.4" cy="324.8" r="1.3" fill="#b51a14"/>
<circle cx="354.6" cy="321.1" r="1.3" fill="#c41e16"/>
<circle cx="356.0" cy="327.7" r="1.3" fill="#e87030"/>
<circle cx="350.6" cy="322.2" r="1.3" fill="#d84020"/>
<circle cx="370.3" cy="322.2" r="1.3" fill="#f4a840"/>
<circle cx="363.2" cy="322.7" r="1.3" fill="#c41e16"/>
<circle cx="360.3" cy="325.8" r="1.3" fill="#c41e16"/>
<circle cx="362.2" cy="304.0" r="1.3" fill="#f0a030"/>
<circle cx="363.3" cy="305.2" r="1.3" fill="#f0b848"/>
<circle cx="362.6" cy="306.8" r="1.3" fill="#e89030"/>
<circle cx="361.8" cy="309.8" r="1.3" fill="#e06a20"/>
<circle cx="362.6" cy="311.6" r="1.3" fill="#f0b050"/>
<circle cx="361.9" cy="313.3" r="1.3" fill="#f2c060"/>
<circle cx="361.5" cy="316.2" r="1.3" fill="#f2c870"/>
<circle cx="362.8" cy="317.5" r="1.3" fill="#eab048"/>
<defs><linearGradient id="g1" x1="0" y1="0" x2="0" y2="1"><stop offset="0" stop-color="#9e1a26"/><stop offset="0.14" stop-color="#b42228"/><stop offset="0.24" stop-color="#d4422a"/><stop offset="0.33" stop-color="#e8902e"/><stop offset="0.42" stop-color="#ecc062"/><stop offset="0.5" stop-color="#e4dccb"/><stop offset="0.6" stop-color="#c2dcee"/><stop offset="0.7" stop-color="#96c6ee"/><stop offset="0.82" stop-color="#6a9ee0"/><stop offset="1" stop-color="#3c62b2"/></linearGradient></defs>
<rect x="407.8" y="332.0" width="6.8" height="34.80000000000001" rx="2.9" fill="url(#g1)"/>
<rect x="407.7" y="340.42" width="1.1" height="0.9" fill="#fff"/>
<rect x="413.6" y="340.42" width="1.1" height="0.9" fill="#fff"/>
<rect x="407.7" y="348.95" width="1.1" height="0.9" fill="#fff"/>
<rect x="413.6" y="348.95" width="1.1" height="0.9" fill="#fff"/>
<rect x="407.7" y="357.82" width="1.1" height="0.9" fill="#fff"/>
<rect x="413.6" y="357.82" width="1.1" height="0.9" fill="#fff"/>
<text transform="translate(415.40,333.60)" y="2.52" font-size="7.2" fill="#222" stroke="#222" stroke-width="0.15" >0.5</text>
<text transform="translate(415.40,348.60)" y="2.52" font-size="7.2" fill="#222" stroke="#222" stroke-width="0.15" >0</text>
<text transform="translate(415.40,364.60)" y="2.52" font-size="7.2" fill="#222" stroke="#222" stroke-width="0.15" >-0.5</text>
<text transform="translate(412.30,320.30)" y="2.69" font-size="7.7" fill="#111" stroke="#111" stroke-width="0.25" text-anchor="middle" >NFIC</text>
<text transform="translate(400.80,348.10) rotate(-90) scale(0.584,1)" y="3.85" font-size="11" fill="#111" stroke="#111" stroke-width="0.1" text-anchor="middle" font-weight="bold" >z-score</text>
<line x1="206.40" y1="402.00" x2="206.40" y2="365.90" stroke="#111" stroke-width="1.3" />
<path d="M206.4,361.9 L203.55,368.2 L209.25,368.2 Z" fill="#111"/>
<line x1="205.75" y1="402.00" x2="233.40" y2="402.00" stroke="#111" stroke-width="1.3" />
<path d="M237.4,402 L231.1,399.15 L231.1,404.85 Z" fill="#111"/>
<text transform="translate(196.90,381.69) rotate(-90) scale(0.725,1)" y="3.22" font-size="9.2" fill="#111" stroke="#111" stroke-width="0.5" text-anchor="middle" letter-spacing="0.3">UMAP-2</text>
<text transform="translate(221.81,411.00) scale(0.731,1)" y="3.08" font-size="8.8" fill="#111" stroke="#111" stroke-width="0.5" text-anchor="middle" letter-spacing="0.3">UMAP-1</text>
<text transform="translate(445.20,269.40)" y="5.22" font-size="14.5" fill="#000" stroke="#000" stroke-width="0.25" font-weight="bold" >E</text>
<text transform="translate(490.10,280.50)" y="3.60" font-size="10.3" fill="#111" stroke="#111" stroke-width="0.25" text-anchor="middle" >NFIC</text>
<path d="M481.90,308.60 L481.73,310.59 L481.51,312.58 L481.26,314.58 L480.96,316.57 L480.60,318.56 L480.19,320.55 L479.77,322.55 L479.29,324.54 L478.76,326.53 L478.20,328.52 L477.64,330.52 L477.11,332.51 L476.66,334.50 L476.27,336.49 L475.88,338.48 L475.50,340.48 L475.13,342.47 L474.82,344.46 L474.58,346.45 L474.43,348.45 L474.41,350.44 L474.64,352.43 L475.10,354.42 L475.71,356.42 L476.41,358.41 L477.12,360.40 L477.76,362.39 L478.32,364.38 L478.93,366.38 L479.55,368.37 L480.13,370.36 L480.64,372.35 L481.02,374.35 L481.34,376.34 L481.59,378.33 L481.71,380.32 L481.76,382.32 L481.79,384.31 L481.80,386.30 L482.60,386.30 L482.61,384.31 L482.64,382.32 L482.69,380.32 L482.81,378.33 L483.06,376.34 L483.38,374.35 L483.76,372.35 L484.27,370.36 L484.85,368.37 L485.47,366.38 L486.08,364.38 L486.64,362.39 L487.28,360.40 L487.99,358.41 L488.69,356.42 L489.30,354.42 L489.76,352.43 L489.99,350.44 L489.97,348.45 L489.82,346.45 L489.58,344.46 L489.27,342.47 L488.90,340.48 L488.52,338.48 L488.13,336.49 L487.74,334.50 L487.29,332.51 L486.76,330.52 L486.20,328.52 L485.64,326.53 L485.11,324.54 L484.63,322.55 L484.21,320.55 L483.80,318.56 L483.44,316.57 L483.14,314.58 L482.89,312.58 L482.67,310.59 L482.50,308.60 Z" fill="#50256a" stroke="#0a0a0a" stroke-width="1.2" stroke-linejoin="round"/>
<path d="M498.05,303.00 L498.03,304.74 L497.96,306.49 L497.86,308.23 L497.65,309.97 L497.17,311.72 L496.70,313.46 L496.23,315.21 L495.73,316.95 L495.25,318.69 L494.81,320.44 L494.44,322.18 L494.13,323.92 L493.81,325.67 L493.49,327.41 L493.19,329.15 L492.89,330.90 L492.62,332.64 L492.37,334.38 L492.15,336.13 L491.97,337.87 L491.83,339.62 L491.74,341.36 L491.70,343.10 L491.76,344.85 L491.97,346.59 L492.30,348.33 L492.71,350.08 L493.18,351.82 L493.67,353.56 L494.15,355.31 L494.59,357.05 L494.97,358.79 L495.35,360.54 L495.74,362.28 L496.12,364.03 L496.46,365.77 L496.74,367.51 L496.94,369.26 L497.10,371.00 L499.70,371.00 L499.86,369.26 L500.06,367.51 L500.34,365.77 L500.68,364.03 L501.06,362.28 L501.45,360.54 L501.83,358.79 L502.21,357.05 L502.65,355.31 L503.13,353.56 L503.62,351.82 L504.09,350.08 L504.50,348.33 L504.83,346.59 L505.04,344.85 L505.10,343.10 L505.06,341.36 L504.97,339.62 L504.83,337.87 L504.65,336.13 L504.43,334.38 L504.18,332.64 L503.91,330.90 L503.61,329.15 L503.31,327.41 L502.99,325.67 L502.67,323.92 L502.36,322.18 L501.99,320.44 L501.55,318.69 L501.07,316.95 L500.57,315.21 L500.10,313.46 L499.63,311.72 L499.15,309.97 L498.94,308.23 L498.84,306.49 L498.77,304.74 L498.75,303.00 Z" fill="#c9291d" stroke="#0a0a0a" stroke-width="1.2" stroke-linejoin="round"/>
<line x1="482.20" y1="299.50" x2="498.60" y2="299.50" stroke="#555" stroke-width="1.5" />
<text transform="translate(490.30,297.50)" y="2.10" font-size="6" fill="#222" stroke="#222" stroke-width="0.25" text-anchor="middle" >*</text>
<line x1="472.10" y1="299.70" x2="472.10" y2="391.00" stroke="#111" stroke-width="1.4" />
<line x1="471.50" y1="390.30" x2="508.50" y2="390.30" stroke="#111" stroke-width="1.4" />
<line x1="468.30" y1="314.70" x2="472.10" y2="314.70" stroke="#111" stroke-width="1.2" />
<text transform="translate(465.20,314.70)" y="2.66" font-size="7.6" fill="#111" stroke="#111" stroke-width="0.25" text-anchor="end" >2</text>
<line x1="468.30" y1="330.90" x2="472.10" y2="330.90" stroke="#111" stroke-width="1.2" />
<text transform="translate(465.20,330.90)" y="2.66" font-size="7.6" fill="#111" stroke="#111" stroke-width="0.25" text-anchor="end" >1</text>
<line x1="468.30" y1="346.80" x2="472.10" y2="346.80" stroke="#111" stroke-width="1.2" />
<text transform="translate(465.20,346.80)" y="2.66" font-size="7.6" fill="#111" stroke="#111" stroke-width="0.25" text-anchor="end" >0</text>
<line x1="468.30" y1="362.80" x2="472.10" y2="362.80" stroke="#111" stroke-width="1.2" />
<text transform="translate(465.20,362.80)" y="2.66" font-size="7.6" fill="#111" stroke="#111" stroke-width="0.25" text-anchor="end" >-1</text>
<line x1="468.30" y1="378.90" x2="472.10" y2="378.90" stroke="#111" stroke-width="1.2" />
<text transform="translate(465.20,378.90)" y="2.66" font-size="7.6" fill="#111" stroke="#111" stroke-width="0.25" text-anchor="end" >-2</text>
<line x1="481.90" y1="390.30" x2="481.90" y2="393.80" stroke="#111" stroke-width="1.2" />
<line x1="498.30" y1="390.30" x2="498.30" y2="393.80" stroke="#111" stroke-width="1.2" />
<text transform="translate(483.40,401.20) rotate(-45)" y="2.45" font-size="7.0" fill="#111" stroke="#111" stroke-width="0.2" text-anchor="end" >WT</text>
<text transform="translate(500.30,403.80) rotate(-45)" y="2.31" font-size="6.6" fill="#111" stroke="#111" stroke-width="0.15" text-anchor="end" font-style="italic" >gata2b<tspan font-size="4.8" dy="-2.8">ko</tspan></text>
<text transform="translate(450.60,345.42) rotate(-90) scale(0.627,1)" y="3.36" font-size="9.6" fill="#111" stroke="#111" stroke-width="0.5" text-anchor="middle" letter-spacing="0.9">TF motif score</text>
<text transform="translate(8.00,459.00)" y="5.22" font-size="14.5" fill="#000" stroke="#000" stroke-width="0.25" font-weight="bold" >F</text>
<text transform="translate(111.30,470.50)" y="3.46" font-size="9.9" fill="#111" stroke="#111" stroke-width="0.25" text-anchor="middle" >Myeloid Progenitor</text>
<path d="M104.9 576.4h0M114.2 574.8h0M99.8 570.9h0M116.1 573.7h0M101.8 574.0h0M110.5 577.5h0M102.0 574.5h0M118.9 571.3h0M105.3 575.5h0M118.5 572.1h0M109.1 577.7h0M110.4 577.5h0M107.3 576.9h0M118.2 571.8h0M106.4 577.7h0M117.6 572.8h0M99.3 571.4h0M118.9 570.8h0M103.5 574.5h0M118.8 573.0h0M103.3 572.0h0M111.3 577.5h0M99.7 571.8h0M112.9 575.6h0M102.4 574.1h0M116.2 573.8h0M104.1 575.7h0M114.9 574.3h0M98.6 570.0h0M114.1 575.1h0M97.3 570.8h0M111.0 577.4h0M105.0 575.7h0M115.5 574.3h0M102.0 572.6h0M110.9 577.1h0M100.8 570.8h0M109.6 577.8h0M99.1 570.5h0M109.3 578.1h0M106.6 576.4h0M111.4 576.6h0M104.1 575.7h0M111.9 576.7h0M101.1 571.5h0M117.9 572.2h0M98.2 570.7h0M116.4 574.4h0M108.2 577.8h0M111.7 577.6h0M105.8 577.4h0M118.7 571.2h0M98.6 570.1h0M110.9 577.6h0M100.3 572.0h0M111.8 577.4h0M101.6 572.6h0M112.2 578.1h0M99.2 571.6h0M112.0 577.1h0M103.9 574.9h0M109.6 577.0h0M105.0 576.6h0M117.1 574.3h0M98.7 570.3h0M118.5 573.6h0M100.4 571.6h0M113.1 574.8h0M101.9 574.0h0M113.6 574.4h0M100.9 571.7h0M117.9 573.0h0M103.9 574.3h0M112.1 576.7h0M98.9 570.8h0M114.3 576.0h0M104.0 576.0h0M109.8 578.1h0M107.5 577.4h0M109.7 577.4h0M102.1 572.6h0M117.0 572.8h0M101.2 571.9h0M116.0 574.6h0M106.5 576.5h0M115.4 574.2h0M109.1 578.1h0M119.4 570.7h0M108.0 577.6h0M114.7 574.9h0M103.3 574.3h0M110.7 577.1h0M104.9 575.9h0M112.8 576.5h0M98.4 570.0h0M112.1 576.0h0M105.6 576.5h0M113.3 575.5h0M104.7 575.2h0M116.6 573.3h0M98.5 569.4h0M116.2 573.6h0M101.5 572.1h0M115.9 574.3h0M99.2 571.3h0M117.4 573.0h0M108.7 577.1h0M119.0 571.2h0M107.7 577.4h0M112.8 577.0h0M104.0 576.3h0M114.9 575.0h0M105.5 576.5h0M117.4 573.5h0M104.7 574.8h0M111.7 577.1h0M104.2 575.1h0M111.5 577.6h0M107.9 578.0h0M117.4 573.0h0M106.3 575.9h0M110.7 577.4h0M99.4 570.8h0M114.1 576.4h0M104.5 575.0h0M113.3 576.2h0M100.6 572.1h0M114.0 576.0h0M108.2 577.0h0M114.2 575.3h0M107.1 577.1h0M117.7 572.9h0M105.1 576.2h0M112.3 576.9h0M106.8 576.9h0M112.9 576.5h0M98.1 569.9h0M113.0 577.0h0M101.5 573.4h0M110.0 578.1h0M103.6 573.8h0M112.1 576.6h0M102.5 573.8h0M109.5 576.8h0M100.0 573.3h0M113.9 576.1h0M107.6 577.3h0M118.7 571.7h0M101.2 572.4h0M110.9 577.5h0M102.9 574.2h0M118.2 572.0h0M102.3 572.3h0M114.9 573.9h0M101.4 572.3h0M114.7 575.1h0M107.9 577.2h0M116.0 573.0h0M103.4 574.5h0M115.4 574.4h0M100.0 570.8h0M116.6 572.9h0M107.0 576.9h0M110.6 577.7h0M98.6 570.0h0M111.7 577.0h0M99.1 571.0h0M117.7 572.5h0M101.8 573.2h0M114.8 575.1h0M106.0 575.9h0M110.1 576.7h0M99.4 570.0h0M111.0 577.5h0M98.6 569.6h0M110.2 577.8h0M104.2 576.1h0M109.2 578.1h0M104.9 576.4h0M110.5 576.7h0M98.7 570.5h0M118.2 571.3h0M107.6 577.5h0M111.0 577.9h0M104.8 575.6h0M114.8 573.7h0M101.8 573.8h0M116.5 573.9h0M102.6 575.3h0M113.9 575.0h0M106.0 576.0h0M110.3 578.1h0M99.7 571.4h0M117.8 573.1h0M101.2 572.4h0M112.5 576.5h0M102.4 573.9h0M115.7 574.5h0M100.4 571.4h0M111.3 576.6h0M101.7 573.4h0M112.9 575.7h0M102.7 575.2h0M119.0 572.3h0M98.0 570.0h0M117.6 571.9h0M100.9 572.4h0M118.2 571.2h0M109.6 578.1h0M109.8 577.7h0M102.0 573.2h0M116.0 573.8h0M108.4 577.9h0M110.8 577.3h0M99.1 570.3h0M110.9 577.2h0M104.1 574.8h0M112.2 577.0h0M104.3 575.9h0M116.4 574.3h0M99.8 571.9h0M110.3 577.2h0M104.2 574.8h0M112.3 576.6h0M100.9 572.2h0M114.6 576.1h0M98.0 569.1h0M112.6 576.6h0M109.4 578.1h0M114.8 575.9h0M98.7 568.9h0M114.6 575.7h0M104.4 576.1h0M114.3 575.2h0M103.0 574.2h0M112.2 577.2h0M101.2 572.6h0M117.5 572.4h0M103.7 574.5h0M118.1 572.4h0M98.4 570.1h0M110.6 578.1h0M108.4 577.6h0M114.6 574.9h0M103.8 574.2h0M114.2 576.1h0M101.1 572.4h0M114.0 575.9h0M109.2 578.1h0M111.5 577.1h0M106.3 576.6h0M118.4 572.6h0M107.4 577.2h0M114.6 575.4h0M104.5 574.9h0M111.4 577.5h0M104.5 575.5h0M110.1 577.3h0M107.7 577.7h0M111.5 577.2h0M100.5 572.1h0M119.3 570.8h0M104.4 574.8h0M110.2 577.8h0M103.9 575.1h0M113.4 575.7h0M102.7 574.2h0M116.6 573.6h0M104.0 575.4h0M113.8 575.5h0M102.6 573.5h0M112.1 577.5h0M102.0 573.0h0M114.9 574.6h0M109.3 578.1h0M116.6 573.5h0M109.6 578.1h0M111.7 578.1h0M108.1 578.1h0M117.6 572.7h0M103.8 574.2h0M117.3 572.3h0M100.1 570.7h0M110.5 578.1h0M109.3 577.7h0M115.3 573.9h0M105.0 575.6h0M113.5 575.6h0M102.3 574.1h0M116.6 575.5h0M103.7 574.9h0M109.9 577.7h0M106.9 577.7h0M112.8 576.3h0M105.8 576.6h0M115.9 574.1h0M105.9 576.1h0M111.2 577.6h0M98.4 570.8h0M118.5 572.6h0" stroke="#48196c" stroke-width="1.9" stroke-linecap="round" fill="none"/>
<path d="M98.0 571.5h0M97.8 567.3h0M98.6 571.5h0M94.3 561.4h0M91.1 554.6h0M98.5 571.1h0M92.4 562.4h0M96.5 563.9h0M91.9 558.9h0M96.6 567.6h0M95.7 567.9h0M96.1 564.2h0M93.7 560.3h0M90.6 551.0h0M94.1 562.3h0M90.4 557.2h0M92.6 557.6h0M97.7 570.4h0M96.9 565.6h0M96.4 570.9h0M94.4 561.3h0M93.3 562.8h0M117.3 568.4h0M122.4 559.2h0M128.3 539.4h0M119.2 560.7h0M119.1 568.1h0M122.1 563.7h0M124.7 555.3h0M128.1 546.0h0M120.9 560.5h0M117.6 566.0h0M119.4 570.9h0M119.4 565.5h0M122.9 557.2h0M120.5 566.5h0M118.0 564.5h0M126.9 554.7h0M127.4 550.4h0M118.3 572.8h0M124.2 557.4h0M128.2 546.0h0M124.4 555.5h0M121.5 563.4h0M119.1 566.2h0M124.2 559.8h0M123.8 558.3h0M124.2 554.1h0M120.6 566.5h0M126.3 547.9h0M128.1 551.6h0M119.3 567.7h0M137.5 523.9h0M87.5 545.0h0M132.5 541.9h0M72.8 528.0h0" stroke="#d83a20" stroke-width="1.9" stroke-linecap="round" fill="none"/>
<circle cx="68.8" cy="516.9" r="1.65" fill="#a8182a"/>
<circle cx="73.1" cy="515.5" r="1.65" fill="#a8182a"/>
<circle cx="71" cy="527.1" r="1.65" fill="#a8182a"/>
<circle cx="88.1" cy="549.2" r="1.65" fill="#a8182a"/>
<circle cx="94.4" cy="566.9" r="1.65" fill="#a8182a"/>
<line x1="109.50" y1="490.00" x2="109.50" y2="578.00" stroke="#000" stroke-width="1.3" stroke-dasharray="1.25 1.32"/>
<line x1="46.50" y1="569.80" x2="173.00" y2="569.80" stroke="#000" stroke-width="1.3" stroke-dasharray="1.25 1.32"/>
<line x1="45.20" y1="489.50" x2="45.20" y2="579.00" stroke="#111" stroke-width="1.4" />
<line x1="44.60" y1="578.20" x2="173.50" y2="578.20" stroke="#111" stroke-width="1.4" />
<line x1="41.00" y1="578.10" x2="45.20" y2="578.10" stroke="#111" stroke-width="1.2" />
<text transform="translate(38.20,578.10)" y="2.66" font-size="7.6" fill="#111" stroke="#111" stroke-width="0.25" text-anchor="end" >0</text>
<line x1="41.00" y1="556.70" x2="45.20" y2="556.70" stroke="#111" stroke-width="1.2" />
<text transform="translate(38.20,556.70)" y="2.66" font-size="7.6" fill="#111" stroke="#111" stroke-width="0.25" text-anchor="end" >5</text>
<line x1="41.00" y1="535.30" x2="45.20" y2="535.30" stroke="#111" stroke-width="1.2" />
<text transform="translate(38.20,535.30)" y="2.66" font-size="7.6" fill="#111" stroke="#111" stroke-width="0.25" text-anchor="end" >10</text>
<line x1="41.00" y1="513.90" x2="45.20" y2="513.90" stroke="#111" stroke-width="1.2" />
<text transform="translate(38.20,513.90)" y="2.66" font-size="7.6" fill="#111" stroke="#111" stroke-width="0.25" text-anchor="end" >15</text>
<line x1="41.00" y1="492.50" x2="45.20" y2="492.50" stroke="#111" stroke-width="1.2" />
<text transform="translate(38.20,492.50)" y="2.66" font-size="7.6" fill="#111" stroke="#111" stroke-width="0.25" text-anchor="end" >20</text>
<line x1="45.80" y1="578.20" x2="45.80" y2="581.70" stroke="#111" stroke-width="1.2" />
<line x1="77.60" y1="578.20" x2="77.60" y2="581.70" stroke="#111" stroke-width="1.2" />
<line x1="109.40" y1="578.20" x2="109.40" y2="581.70" stroke="#111" stroke-width="1.2" />
<line x1="141.20" y1="578.20" x2="141.20" y2="581.70" stroke="#111" stroke-width="1.2" />
<line x1="173.10" y1="578.20" x2="173.10" y2="581.70" stroke="#111" stroke-width="1.2" />
<text transform="translate(45.30,590.00)" y="2.66" font-size="7.6" fill="#111" stroke="#111" stroke-width="0.25" text-anchor="middle" >-1</text>
<text transform="translate(109.40,590.00)" y="2.66" font-size="7.6" fill="#111" stroke="#111" stroke-width="0.25" text-anchor="middle" >0</text>
<text transform="translate(173.10,590.00)" y="2.66" font-size="7.6" fill="#111" stroke="#111" stroke-width="0.25" text-anchor="middle" >1</text>
<text transform="translate(50.80,516.30)" y="2.17" font-size="6.2" fill="#222" stroke="#222" stroke-width="0.25" >SPIB</text>
<text transform="translate(75.50,514.50)" y="2.17" font-size="6.2" fill="#222" stroke="#222" stroke-width="0.25" >SPIC</text>
<text transform="translate(54.00,526.60)" y="2.17" font-size="6.2" fill="#222" stroke="#222" stroke-width="0.25" >SPI1</text>
<text transform="translate(66.90,549.20)" y="2.17" font-size="6.2" fill="#222" stroke="#222" stroke-width="0.25" >ETV6</text>
<text transform="translate(96.50,550.80)" y="2.17" font-size="6.2" fill="#222" stroke="#222" stroke-width="0.25" >ELF</text>
<circle cx="108" cy="549.6" r="0.8" fill="#333"/>
<text transform="translate(66.90,566.20)" y="2.17" font-size="6.2" fill="#222" stroke="#222" stroke-width="0.25" >CEBPB</text>
<text transform="translate(124.80,564.00)" y="2.17" font-size="6.2" fill="#222" stroke="#222" stroke-width="0.25" >POU2F2</text>
<text transform="translate(122.90,571.00)" y="2.17" font-size="6.2" fill="#222" stroke="#222" stroke-width="0.25" >ZNF148</text>
<text transform="translate(49.50,602.00)" y="2.55" font-size="7.3" fill="#222" stroke="#222" stroke-width="0.25" >WT-enriched</text>
<text transform="translate(127.40,602.00)" y="2.55" font-size="7.3" fill="#222" stroke="#222" stroke-width="0.25" >KO-enriched</text>
<line x1="100.60" y1="602.30" x2="107.80" y2="602.30" stroke="#111" stroke-width="1.3" />
<path d="M97.6,602.3 L101.39999999999999,600.3 L101.39999999999999,604.3 Z" fill="#111"/>
<line x1="114.20" y1="602.30" x2="121.40" y2="602.30" stroke="#111" stroke-width="1.3" />
<path d="M124.4,602.3 L120.60000000000001,600.3 L120.60000000000001,604.3 Z" fill="#111"/>
<text transform="translate(109.82,615.30) scale(0.601,1)" y="3.36" font-size="9.6" fill="#111" stroke="#111" stroke-width="0.5" text-anchor="middle" letter-spacing="0.9">TF motif score</text>
<text transform="translate(15.00,533.20) rotate(-90) scale(0.675,1)" y="3.57" font-size="10.2" fill="#111" stroke="#111" stroke-width="0.5" text-anchor="middle" letter-spacing="0.9">-log<tspan font-size="6.32" dy="2.24">10</tspan><tspan dy="-2.24">(p-value)</tspan></text>
<text transform="translate(195.80,460.30)" y="5.22" font-size="14.5" fill="#000" stroke="#000" stroke-width="0.25" font-weight="bold" >G</text>
<text transform="translate(324.80,470.50)" y="3.43" font-size="9.8" fill="#111" stroke="#111" stroke-width="0.25" text-anchor="middle" >Myeloid lineage</text>
<line x1="232.60" y1="482.90" x2="232.60" y2="578.80" stroke="#111" stroke-width="1.4" />
<line x1="232.00" y1="578.20" x2="310.00" y2="578.20" stroke="#111" stroke-width="1.4" />
<line x1="228.80" y1="499.90" x2="232.60" y2="499.90" stroke="#111" stroke-width="1.2" />
<text transform="translate(226.00,499.90)" y="2.66" font-size="7.6" fill="#111" stroke="#111" stroke-width="0.25" text-anchor="end" >10</text>
<line x1="228.80" y1="517.30" x2="232.60" y2="517.30" stroke="#111" stroke-width="1.2" />
<text transform="translate(226.00,517.30)" y="2.66" font-size="7.6" fill="#111" stroke="#111" stroke-width="0.25" text-anchor="end" >5</text>
<line x1="228.80" y1="534.50" x2="232.60" y2="534.50" stroke="#111" stroke-width="1.2" />
<text transform="translate(226.00,534.50)" y="2.66" font-size="7.6" fill="#111" stroke="#111" stroke-width="0.25" text-anchor="end" >0</text>
<line x1="228.80" y1="551.90" x2="232.60" y2="551.90" stroke="#111" stroke-width="1.2" />
<text transform="translate(226.00,551.90)" y="2.66" font-size="7.6" fill="#111" stroke="#111" stroke-width="0.25" text-anchor="end" >-5</text>
<line x1="228.80" y1="569.30" x2="232.60" y2="569.30" stroke="#111" stroke-width="1.2" />
<text transform="translate(226.00,569.30)" y="2.66" font-size="7.6" fill="#111" stroke="#111" stroke-width="0.25" text-anchor="end" >-10</text>
<line x1="242.60" y1="578.20" x2="242.60" y2="581.80" stroke="#111" stroke-width="1.2" />
<text transform="translate(242.60,590.20)" y="2.66" font-size="7.6" fill="#111" stroke="#111" stroke-width="0.25" text-anchor="middle" >-10</text>
<line x1="273.10" y1="578.20" x2="273.10" y2="581.80" stroke="#111" stroke-width="1.2" />
<text transform="translate(273.10,590.20)" y="2.66" font-size="7.6" fill="#111" stroke="#111" stroke-width="0.25" text-anchor="middle" >-5</text>
<line x1="303.40" y1="578.20" x2="303.40" y2="581.80" stroke="#111" stroke-width="1.2" />
<text transform="translate(303.40,590.20)" y="2.66" font-size="7.6" fill="#111" stroke="#111" stroke-width="0.25" text-anchor="middle" >0</text>
<text transform="translate(236.40,485.80)" y="2.13" font-size="6.1" fill="#111" stroke="#111" stroke-width="0.12" >WT</text>
<line x1="340.00" y1="483.80" x2="340.00" y2="578.10" stroke="#111" stroke-width="1.4" />
<line x1="339.40" y1="577.50" x2="412.50" y2="577.50" stroke="#111" stroke-width="1.4" />
<line x1="336.20" y1="499.50" x2="340.00" y2="499.50" stroke="#111" stroke-width="1.2" />
<text transform="translate(333.40,499.50)" y="2.66" font-size="7.6" fill="#111" stroke="#111" stroke-width="0.25" text-anchor="end" >10</text>
<line x1="336.20" y1="517.00" x2="340.00" y2="517.00" stroke="#111" stroke-width="1.2" />
<text transform="translate(333.40,517.00)" y="2.66" font-size="7.6" fill="#111" stroke="#111" stroke-width="0.25" text-anchor="end" >5</text>
<line x1="336.20" y1="534.50" x2="340.00" y2="534.50" stroke="#111" stroke-width="1.2" />
<text transform="translate(333.40,534.50)" y="2.66" font-size="7.6" fill="#111" stroke="#111" stroke-width="0.25" text-anchor="end" >0</text>
<line x1="336.20" y1="551.80" x2="340.00" y2="551.80" stroke="#111" stroke-width="1.2" />
<text transform="translate(333.40,551.80)" y="2.66" font-size="7.6" fill="#111" stroke="#111" stroke-width="0.25" text-anchor="end" >-5</text>
<line x1="336.20" y1="569.20" x2="340.00" y2="569.20" stroke="#111" stroke-width="1.2" />
<text transform="translate(333.40,569.20)" y="2.66" font-size="7.6" fill="#111" stroke="#111" stroke-width="0.25" text-anchor="end" >-10</text>
<line x1="350.00" y1="577.50" x2="350.00" y2="581.10" stroke="#111" stroke-width="1.2" />
<text transform="translate(350.00,589.50)" y="2.66" font-size="7.6" fill="#111" stroke="#111" stroke-width="0.25" text-anchor="middle" >-10</text>
<line x1="380.50" y1="577.50" x2="380.50" y2="581.10" stroke="#111" stroke-width="1.2" />
<text transform="translate(380.50,589.50)" y="2.66" font-size="7.6" fill="#111" stroke="#111" stroke-width="0.25" text-anchor="middle" >-5</text>
<line x1="410.50" y1="577.50" x2="410.50" y2="581.10" stroke="#111" stroke-width="1.2" />
<text transform="translate(410.50,589.50)" y="2.66" font-size="7.6" fill="#111" stroke="#111" stroke-width="0.25" text-anchor="middle" >0</text>
<text transform="translate(342.40,487.20)" y="2.20" font-size="6.3" fill="#111" stroke="#111" stroke-width="0.1" font-style="italic" >gata2b<tspan font-size="4.2" dy="-2.6">ko</tspan></text>
<path d="M248.0,525.0 L252.0,520.5 L257.0,517.6 L259.5,519.0 L261.0,523.0 L262.0,528.0 L261.0,531.5 L258.0,533.5 L253.0,531.0 L249.5,528.0 Z" fill="#b41a0c"/>
<circle cx="258.6" cy="529.7" r="1.15" fill="#c0240e"/>
<circle cx="254.8" cy="530.4" r="1.15" fill="#c8300e"/>
<circle cx="255.0" cy="528.6" r="1.15" fill="#c8300e"/>
<circle cx="260.2" cy="523.0" r="1.15" fill="#b01a0a"/>
<circle cx="258.3" cy="519.6" r="1.15" fill="#b8200c"/>
<circle cx="253.9" cy="530.1" r="1.15" fill="#a81808"/>
<circle cx="259.0" cy="521.9" r="1.15" fill="#c0240e"/>
<circle cx="252.8" cy="521.6" r="1.15" fill="#c0240e"/>
<circle cx="256.4" cy="526.6" r="1.15" fill="#b8200c"/>
<circle cx="256.6" cy="529.0" r="1.15" fill="#c0240e"/>
<circle cx="257.6" cy="524.2" r="1.15" fill="#b01a0a"/>
<circle cx="253.4" cy="523.0" r="1.15" fill="#c8300e"/>
<circle cx="258.6" cy="523.3" r="1.15" fill="#a81808"/>
<circle cx="255.6" cy="529.9" r="1.15" fill="#b8200c"/>
<circle cx="254.7" cy="522.7" r="1.15" fill="#c0240e"/>
<circle cx="256.0" cy="523.0" r="1.15" fill="#c8300e"/>
<circle cx="259.9" cy="528.1" r="1.15" fill="#c0240e"/>
<circle cx="258.9" cy="523.6" r="1.15" fill="#b8200c"/>
<circle cx="253.3" cy="530.5" r="1.15" fill="#a81808"/>
<circle cx="250.5" cy="524.9" r="1.15" fill="#c0240e"/>
<circle cx="254.5" cy="528.7" r="1.15" fill="#a81808"/>
<circle cx="255.9" cy="529.0" r="1.15" fill="#a81808"/>
<circle cx="257.9" cy="525.7" r="1.15" fill="#c8300e"/>
<circle cx="259.0" cy="527.3" r="1.15" fill="#c8300e"/>
<circle cx="253.2" cy="524.3" r="1.15" fill="#c0240e"/>
<circle cx="256.3" cy="528.0" r="1.15" fill="#b01a0a"/>
<circle cx="257.1" cy="522.8" r="1.15" fill="#b8200c"/>
<circle cx="260.1" cy="527.6" r="1.15" fill="#a81808"/>
<circle cx="254.3" cy="531.1" r="1.15" fill="#c8300e"/>
<circle cx="258.5" cy="520.7" r="1.15" fill="#b01a0a"/>
<circle cx="258.0" cy="521.2" r="1.15" fill="#b01a0a"/>
<circle cx="253.2" cy="526.1" r="1.15" fill="#a81808"/>
<circle cx="260.6" cy="527.6" r="1.15" fill="#b01a0a"/>
<circle cx="257.2" cy="526.6" r="1.15" fill="#c0240e"/>
<circle cx="259.2" cy="532.0" r="1.15" fill="#b8200c"/>
<circle cx="257.4" cy="522.8" r="1.15" fill="#c8300e"/>
<circle cx="255.3" cy="523.1" r="1.15" fill="#c0240e"/>
<circle cx="256.8" cy="519.2" r="1.15" fill="#a81808"/>
<circle cx="253.1" cy="530.9" r="1.15" fill="#a81808"/>
<circle cx="259.8" cy="530.3" r="1.15" fill="#c0240e"/>
<circle cx="254.0" cy="531.0" r="1.15" fill="#c0240e"/>
<circle cx="255.8" cy="519.7" r="1.15" fill="#b01a0a"/>
<circle cx="258.1" cy="527.6" r="1.15" fill="#b01a0a"/>
<circle cx="258.2" cy="525.0" r="1.15" fill="#b8200c"/>
<circle cx="254.7" cy="520.7" r="1.15" fill="#c0240e"/>
<circle cx="257.3" cy="529.0" r="1.15" fill="#b01a0a"/>
<circle cx="253.9" cy="529.1" r="1.15" fill="#a81808"/>
<circle cx="254.3" cy="520.4" r="1.15" fill="#a81808"/>
<circle cx="259.9" cy="525.1" r="1.15" fill="#c8300e"/>
<circle cx="256.3" cy="531.8" r="1.15" fill="#a81808"/>
<circle cx="258.9" cy="520.7" r="1.15" fill="#b01a0a"/>
<circle cx="256.3" cy="519.1" r="1.15" fill="#b01a0a"/>
<circle cx="255.1" cy="530.0" r="1.15" fill="#c0240e"/>
<circle cx="258.5" cy="533.0" r="1.15" fill="#c0240e"/>
<circle cx="252.7" cy="525.6" r="1.15" fill="#b8200c"/>
<circle cx="251.5" cy="523.1" r="1.15" fill="#b8200c"/>
<circle cx="257.4" cy="533.2" r="1.15" fill="#b01a0a"/>
<circle cx="259.6" cy="524.2" r="1.15" fill="#b8200c"/>
<circle cx="255.5" cy="523.5" r="1.15" fill="#c0240e"/>
<circle cx="257.6" cy="528.0" r="1.15" fill="#b01a0a"/>
<circle cx="259.4" cy="526.8" r="1.15" fill="#c0240e"/>
<circle cx="254.6" cy="521.9" r="1.15" fill="#b8200c"/>
<circle cx="252.6" cy="528.4" r="1.15" fill="#b8200c"/>
<circle cx="258.1" cy="523.5" r="1.15" fill="#a81808"/>
<circle cx="262.0" cy="528.7" r="1.2" fill="#e87a20"/>
<circle cx="257.2" cy="528.5" r="1.2" fill="#f2b848"/>
<circle cx="262.7" cy="530.5" r="1.2" fill="#f2b848"/>
<circle cx="260.3" cy="523.5" r="1.2" fill="#f2b848"/>
<circle cx="263.3" cy="532.8" r="1.2" fill="#c8300e"/>
<circle cx="258.6" cy="521.8" r="1.2" fill="#c8300e"/>
<circle cx="259.7" cy="519.1" r="1.2" fill="#e89028"/>
<circle cx="261.9" cy="525.5" r="1.2" fill="#c8300e"/>
<circle cx="265.5" cy="527.7" r="1.2" fill="#e87a20"/>
<circle cx="262.7" cy="525.6" r="1.2" fill="#f0a030"/>
<circle cx="258.8" cy="522.7" r="1.2" fill="#c8300e"/>
<circle cx="258.7" cy="525.2" r="1.2" fill="#f0a030"/>
<circle cx="260.9" cy="519.8" r="1.2" fill="#e89028"/>
<circle cx="258.5" cy="521.8" r="1.2" fill="#f2b848"/>
<circle cx="259.4" cy="532.2" r="1.2" fill="#f0a030"/>
<circle cx="264.0" cy="531.4" r="1.2" fill="#c8300e"/>
<circle cx="265.2" cy="525.7" r="1.2" fill="#c8300e"/>
<circle cx="264.0" cy="527.5" r="1.2" fill="#d84a14"/>
<circle cx="263.9" cy="531.6" r="1.2" fill="#e89028"/>
<circle cx="260.4" cy="520.7" r="1.2" fill="#c8300e"/>
<circle cx="262.1" cy="531.4" r="1.2" fill="#c8300e"/>
<circle cx="260.0" cy="522.7" r="1.2" fill="#f0a030"/>
<circle cx="261.3" cy="528.5" r="1.2" fill="#c8300e"/>
<circle cx="261.2" cy="525.1" r="1.2" fill="#e87a20"/>
<circle cx="261.2" cy="527.6" r="1.2" fill="#e87a20"/>
<circle cx="262.6" cy="525.3" r="1.2" fill="#c8300e"/>
<circle cx="260.8" cy="521.1" r="1.2" fill="#f2b848"/>
<circle cx="263.4" cy="525.3" r="1.2" fill="#d84a14"/>
<circle cx="261.3" cy="530.7" r="1.2" fill="#f0a030"/>
<circle cx="264.7" cy="530.9" r="1.2" fill="#e87a20"/>
<circle cx="256.5" cy="520.4" r="1.2" fill="#f2b848"/>
<circle cx="259.9" cy="527.4" r="1.2" fill="#c8300e"/>
<circle cx="261.8" cy="527.8" r="1.2" fill="#f0a030"/>
<circle cx="257.3" cy="523.5" r="1.2" fill="#f0a030"/>
<circle cx="256.1" cy="521.0" r="1.2" fill="#f2b848"/>
<circle cx="260.6" cy="533.6" r="1.2" fill="#f2b848"/>
<circle cx="262.0" cy="521.5" r="1.2" fill="#d84a14"/>
<circle cx="265.9" cy="528.6" r="1.2" fill="#c8300e"/>
<circle cx="262.7" cy="531.6" r="1.2" fill="#d84a14"/>
<circle cx="261.7" cy="520.1" r="1.2" fill="#d84a14"/>
<circle cx="259.3" cy="521.4" r="1.2" fill="#f2b848"/>
<circle cx="261.7" cy="533.0" r="1.2" fill="#d84a14"/>
<circle cx="262.2" cy="526.9" r="1.2" fill="#f0a030"/>
<circle cx="257.0" cy="528.4" r="1.2" fill="#f2b848"/>
<circle cx="259.2" cy="521.8" r="1.2" fill="#f2b848"/>
<circle cx="259.7" cy="533.8" r="1.2" fill="#f0a030"/>
<circle cx="261.4" cy="524.5" r="1.2" fill="#f2b848"/>
<circle cx="257.7" cy="527.6" r="1.2" fill="#c8300e"/>
<circle cx="265.6" cy="526.5" r="1.2" fill="#e87a20"/>
<circle cx="260.0" cy="520.3" r="1.2" fill="#c8300e"/>
<circle cx="259.9" cy="527.2" r="1.2" fill="#c8300e"/>
<circle cx="263.5" cy="525.2" r="1.2" fill="#e87a20"/>
<circle cx="258.1" cy="523.1" r="1.2" fill="#f2b848"/>
<circle cx="257.0" cy="527.0" r="1.2" fill="#f2b848"/>
<circle cx="258.6" cy="526.5" r="1.2" fill="#e87a20"/>
<circle cx="264.2" cy="525.4" r="1.2" fill="#f0a030"/>
<circle cx="265.5" cy="527.5" r="1.25" fill="#e8782a"/>
<circle cx="264.3" cy="527.8" r="1.25" fill="#e8782a"/>
<circle cx="271.9" cy="527.7" r="1.25" fill="#f0a030"/>
<circle cx="275.1" cy="524.5" r="1.25" fill="#f0c078"/>
<circle cx="260.2" cy="516.5" r="1.25" fill="#f0a030"/>
<circle cx="256.5" cy="522.0" r="1.25" fill="#f2c040"/>
<circle cx="258.0" cy="524.5" r="1.25" fill="#f0c040"/>
<ellipse cx="258.3" cy="525.9" rx="14.1" ry="13" fill="none" stroke="#6cc0a4" stroke-width="0.95"/>
<path d="M240.4,556.0 L242.6,552.6 L246.8,551.3 L251.1,550.9 L254.5,550.1 L257.0,550.5 L257.5,552.6 L260.4,554.3 L260.9,557.7 L259.6,561.1 L255.3,562.8 L250.2,563.2 L245.1,562.4 L241.3,560.3 Z" fill="#9cc8ee"/>
<circle cx="248.9" cy="553.5" r="1.2" fill="#8cbcea"/>
<circle cx="258.2" cy="562.3" r="1.2" fill="#a4ccee"/>
<circle cx="252.7" cy="559.1" r="1.2" fill="#b8d2ea"/>
<circle cx="253.9" cy="553.9" r="1.2" fill="#b8d4ee"/>
<circle cx="255.4" cy="553.8" r="1.2" fill="#8cbcea"/>
<circle cx="247.4" cy="556.7" r="1.2" fill="#b8d4ee"/>
<circle cx="250.5" cy="563.5" r="1.2" fill="#b8d2ea"/>
<circle cx="249.8" cy="554.9" r="1.2" fill="#5b96da"/>
<circle cx="250.0" cy="562.2" r="1.2" fill="#e6d6a8"/>
<circle cx="251.9" cy="553.2" r="1.2" fill="#a4ccee"/>
<circle cx="254.6" cy="559.6" r="1.2" fill="#b8d2ea"/>
<circle cx="245.2" cy="558.4" r="1.2" fill="#8cbcea"/>
<circle cx="251.5" cy="562.6" r="1.2" fill="#e6d6a8"/>
<circle cx="259.3" cy="561.1" r="1.2" fill="#94c4ee"/>
<circle cx="245.7" cy="559.4" r="1.2" fill="#e0d4b0"/>
<circle cx="255.6" cy="551.6" r="1.2" fill="#a4ccee"/>
<circle cx="260.5" cy="558.5" r="1.2" fill="#a4ccee"/>
<circle cx="249.6" cy="556.7" r="1.2" fill="#94c4ee"/>
<circle cx="252.8" cy="551.1" r="1.2" fill="#5b96da"/>
<circle cx="249.9" cy="558.1" r="1.2" fill="#6ea6e0"/>
<circle cx="251.5" cy="560.8" r="1.2" fill="#ead8a4"/>
<circle cx="240.7" cy="556.5" r="1.2" fill="#a4ccee"/>
<circle cx="248.4" cy="552.1" r="1.2" fill="#94c4ee"/>
<circle cx="251.6" cy="561.1" r="1.2" fill="#e0d4b0"/>
<circle cx="246.2" cy="551.5" r="1.2" fill="#b8d4ee"/>
<circle cx="244.5" cy="563.2" r="1.2" fill="#b8d2ea"/>
<circle cx="249.1" cy="552.9" r="1.2" fill="#a4ccee"/>
<circle cx="242.0" cy="553.3" r="1.2" fill="#8cbcea"/>
<circle cx="244.8" cy="562.5" r="1.2" fill="#b8d2ea"/>
<circle cx="259.3" cy="560.1" r="1.2" fill="#5b96da"/>
<circle cx="261.2" cy="557.1" r="1.2" fill="#8cbcea"/>
<circle cx="253.0" cy="553.9" r="1.2" fill="#6ea6e0"/>
<circle cx="252.4" cy="551.4" r="1.2" fill="#6ea6e0"/>
<circle cx="246.9" cy="559.7" r="1.2" fill="#ead8a4"/>
<circle cx="257.4" cy="560.4" r="1.2" fill="#a4ccee"/>
<circle cx="253.4" cy="554.2" r="1.2" fill="#94c4ee"/>
<circle cx="246.0" cy="560.3" r="1.2" fill="#e6d6a8"/>
<circle cx="252.5" cy="560.1" r="1.2" fill="#e6d6a8"/>
<circle cx="259.8" cy="555.3" r="1.2" fill="#b8d4ee"/>
<circle cx="248.8" cy="559.1" r="1.2" fill="#ead8a4"/>
<circle cx="244.1" cy="558.7" r="1.2" fill="#6ea6e0"/>
<circle cx="259.1" cy="558.6" r="1.2" fill="#b8d4ee"/>
<circle cx="241.4" cy="557.4" r="1.2" fill="#6ea6e0"/>
<circle cx="246.7" cy="555.2" r="1.2" fill="#a4ccee"/>
<circle cx="256.0" cy="559.5" r="1.2" fill="#ead8a4"/>
<circle cx="250.3" cy="563.1" r="1.2" fill="#e6d6a8"/>
<circle cx="261.2" cy="554.6" r="1.2" fill="#a4ccee"/>
<circle cx="241.3" cy="560.2" r="1.2" fill="#94c4ee"/>
<circle cx="256.3" cy="552.3" r="1.2" fill="#b8d4ee"/>
<circle cx="254.7" cy="553.1" r="1.2" fill="#b8d4ee"/>
<circle cx="242.0" cy="557.1" r="1.2" fill="#b8d4ee"/>
<circle cx="249.9" cy="559.0" r="1.2" fill="#b8d2ea"/>
<circle cx="253.2" cy="557.4" r="1.2" fill="#6ea6e0"/>
<circle cx="242.2" cy="557.4" r="1.2" fill="#b8d4ee"/>
<circle cx="259.2" cy="558.7" r="1.2" fill="#b8d4ee"/>
<circle cx="258.8" cy="560.8" r="1.2" fill="#6ea6e0"/>
<circle cx="246.5" cy="556.1" r="1.2" fill="#94c4ee"/>
<circle cx="250.6" cy="558.7" r="1.2" fill="#b8d4ee"/>
<circle cx="258.9" cy="554.5" r="1.2" fill="#8cbcea"/>
<circle cx="242.4" cy="554.9" r="1.2" fill="#94c4ee"/>
<circle cx="258.0" cy="550.6" r="1.2" fill="#8cbcea"/>
<circle cx="242.2" cy="552.4" r="1.2" fill="#a4ccee"/>
<circle cx="250.1" cy="558.4" r="1.2" fill="#5b96da"/>
<circle cx="242.2" cy="555.7" r="1.2" fill="#94c4ee"/>
<circle cx="243.6" cy="557.5" r="1.2" fill="#a4ccee"/>
<circle cx="249.1" cy="559.3" r="1.2" fill="#e0d4b0"/>
<circle cx="254.1" cy="556.2" r="1.2" fill="#6ea6e0"/>
<circle cx="248.3" cy="551.4" r="1.2" fill="#6ea6e0"/>
<circle cx="244.5" cy="551.4" r="1.2" fill="#8cbcea"/>
<circle cx="244.3" cy="559.2" r="1.2" fill="#ead8a4"/>
<circle cx="254.0" cy="549.3" r="1.2" fill="#5b96da"/>
<circle cx="255.3" cy="557.1" r="1.2" fill="#8cbcea"/>
<circle cx="243.1" cy="562.3" r="1.2" fill="#b8d2ea"/>
<circle cx="243.6" cy="562.5" r="1.2" fill="#e0d4b0"/>
<circle cx="261.7" cy="556.0" r="1.2" fill="#a4ccee"/>
<circle cx="250.9" cy="550.6" r="1.2" fill="#6ea6e0"/>
<circle cx="253.4" cy="564.1" r="1.2" fill="#ead8a4"/>
<circle cx="243.0" cy="553.8" r="1.2" fill="#a4ccee"/>
<circle cx="259.3" cy="554.1" r="1.2" fill="#b8d4ee"/>
<circle cx="260.1" cy="562.3" r="1.2" fill="#8cbcea"/>
<circle cx="247.2" cy="554.2" r="1.2" fill="#a4ccee"/>
<circle cx="259.9" cy="560.7" r="1.2" fill="#5b96da"/>
<circle cx="250.6" cy="556.9" r="1.2" fill="#8cbcea"/>
<circle cx="246.7" cy="561.6" r="1.2" fill="#b8d2ea"/>
<circle cx="252.7" cy="559.2" r="1.2" fill="#e6d6a8"/>
<circle cx="256.6" cy="556.7" r="1.2" fill="#a4ccee"/>
<circle cx="253.2" cy="556.8" r="1.2" fill="#8cbcea"/>
<circle cx="252.9" cy="551.9" r="1.2" fill="#8cbcea"/>
<circle cx="248.4" cy="554.9" r="1.2" fill="#94c4ee"/>
<circle cx="250.2" cy="564.3" r="1.2" fill="#ead8a4"/>
<circle cx="254.0" cy="561.5" r="1.2" fill="#e0d4b0"/>
<circle cx="245.5" cy="559.8" r="1.2" fill="#e0d4b0"/>
<circle cx="255.5" cy="561.8" r="1.2" fill="#b8d2ea"/>
<circle cx="247.5" cy="558.8" r="1.2" fill="#8cbcea"/>
<circle cx="258.2" cy="556.5" r="1.2" fill="#8cbcea"/>
<circle cx="261.7" cy="557.2" r="1.2" fill="#94c4ee"/>
<circle cx="253.1" cy="553.9" r="1.2" fill="#a4ccee"/>
<circle cx="248.1" cy="554.9" r="1.2" fill="#b8d4ee"/>
<circle cx="247.1" cy="561.0" r="1.2" fill="#ead8a4"/>
<circle cx="247.3" cy="562.5" r="1.2" fill="#b8d2ea"/>
<circle cx="246.5" cy="553.4" r="1.2" fill="#5b96da"/>
<circle cx="246.4" cy="558.0" r="1.2" fill="#8cbcea"/>
<circle cx="248.0" cy="551.9" r="1.2" fill="#94c4ee"/>
<circle cx="244.5" cy="561.6" r="1.2" fill="#e0d4b0"/>
<circle cx="257.3" cy="560.7" r="1.2" fill="#b8d4ee"/>
<circle cx="250.5" cy="551.9" r="1.2" fill="#b8d4ee"/>
<circle cx="256.7" cy="556.5" r="1.2" fill="#a4ccee"/>
<circle cx="241.0" cy="556.8" r="1.2" fill="#6ea6e0"/>
<circle cx="259.8" cy="558.2" r="1.2" fill="#5b96da"/>
<circle cx="245.5" cy="561.2" r="1.2" fill="#b8d2ea"/>
<circle cx="254.9" cy="559.8" r="1.2" fill="#e6d6a8"/>
<circle cx="257.8" cy="558.5" r="1.2" fill="#94c4ee"/>
<circle cx="254.5" cy="554.4" r="1.2" fill="#b8d4ee"/>
<circle cx="251.6" cy="558.7" r="1.2" fill="#5b96da"/>
<circle cx="244.4" cy="558.0" r="1.2" fill="#5b96da"/>
<circle cx="241.5" cy="553.3" r="1.2" fill="#6ea6e0"/>
<circle cx="245.1" cy="555.3" r="1.2" fill="#6ea6e0"/>
<circle cx="251.5" cy="553.7" r="1.2" fill="#6ea6e0"/>
<circle cx="255.7" cy="556.6" r="1.2" fill="#a4ccee"/>
<circle cx="254.5" cy="554.4" r="1.2" fill="#b8d4ee"/>
<circle cx="244.4" cy="559.4" r="1.2" fill="#b8d2ea"/>
<circle cx="251.4" cy="555.1" r="1.2" fill="#8cbcea"/>
<circle cx="252.0" cy="551.3" r="1.2" fill="#6ea6e0"/>
<circle cx="243.2" cy="553.6" r="1.2" fill="#b8d4ee"/>
<circle cx="245.6" cy="559.2" r="1.2" fill="#e0d4b0"/>
<circle cx="260.5" cy="560.3" r="1.2" fill="#5b96da"/>
<circle cx="256.4" cy="556.0" r="1.2" fill="#5b96da"/>
<circle cx="245.7" cy="561.0" r="1.2" fill="#e6d6a8"/>
<circle cx="262.1" cy="556.4" r="1.2" fill="#94c4ee"/>
<circle cx="251.9" cy="560.0" r="1.2" fill="#b8d2ea"/>
<circle cx="242.0" cy="554.3" r="1.2" fill="#8cbcea"/>
<circle cx="250.3" cy="560.7" r="1.2" fill="#ead8a4"/>
<circle cx="259.2" cy="553.2" r="1.2" fill="#6ea6e0"/>
<circle cx="252.2" cy="554.8" r="1.2" fill="#5b96da"/>
<circle cx="240.4" cy="561.0" r="1.2" fill="#b8d4ee"/>
<circle cx="251.3" cy="556.8" r="1.2" fill="#8cbcea"/>
<circle cx="262.2" cy="557.0" r="1.2" fill="#94c4ee"/>
<circle cx="244.8" cy="553.8" r="1.2" fill="#5b96da"/>
<circle cx="258.2" cy="553.1" r="1.2" fill="#94c4ee"/>
<circle cx="255.9" cy="555.6" r="1.2" fill="#a4ccee"/>
<circle cx="250.8" cy="561.7" r="1.2" fill="#e6d6a8"/>
<circle cx="251.7" cy="561.4" r="1.2" fill="#e0d4b0"/>
<circle cx="252.5" cy="555.3" r="1.2" fill="#b8d4ee"/>
<circle cx="242.0" cy="559.0" r="1.2" fill="#94c4ee"/>
<circle cx="254.5" cy="554.3" r="1.2" fill="#8cbcea"/>
<circle cx="246.2" cy="563.1" r="1.2" fill="#ead8a4"/>
<circle cx="261.1" cy="561.2" r="1.2" fill="#8cbcea"/>
<circle cx="251.1" cy="562.4" r="1.2" fill="#e0d4b0"/>
<circle cx="257.2" cy="558.8" r="1.2" fill="#5b96da"/>
<circle cx="255.9" cy="559.4" r="1.2" fill="#b8d2ea"/>
<circle cx="259.5" cy="557.9" r="1.2" fill="#b8d4ee"/>
<circle cx="250.7" cy="553.2" r="1.2" fill="#8cbcea"/>
<circle cx="244.1" cy="552.2" r="1.2" fill="#6ea6e0"/>
<circle cx="245.2" cy="563.3" r="1.2" fill="#e6d6a8"/>
<circle cx="242.6" cy="552.2" r="1.2" fill="#b8d4ee"/>
<circle cx="261.8" cy="557.8" r="1.2" fill="#5b96da"/>
<circle cx="254.2" cy="550.5" r="1.2" fill="#6ea6e0"/>
<rect x="259.2" y="553.7" width="8.4" height="2.4" fill="#2848a0" stroke="#222" stroke-width="0.7" rx="0.6"/>
<circle cx="263.4" cy="557.5" r="1.2" fill="#f0a030"/>
<circle cx="272.2" cy="569.5" r="1.2" fill="#4a86d4"/>
<circle cx="274.4" cy="496.4" r="1.2" fill="#e8b860"/>
<circle cx="273.2" cy="496.2" r="1.2" fill="#4a86d4"/>
<ellipse cx="252.8" cy="556.9" rx="17.6" ry="13.3" fill="none" stroke="#dc6a90" stroke-width="0.95"/>
<text transform="translate(269.00,506.70)" y="2.61" font-size="7.45" fill="#3aa585" stroke="#3aa585" stroke-width="0.05" text-anchor="middle" >Myeloid Progenitor</text>
<text transform="translate(278.90,574.10)" y="2.59" font-size="7.4" fill="#d65a88" stroke="#d65a88" stroke-width="0.05" text-anchor="middle" >Granulocyte</text>
<path d="M357.7,524.4 L359.2,521.0 L362.6,519.3 L365.2,518.8 L367.7,520.2 L369.4,522.7 L371.1,525.3 L373.7,527.8 L374.1,532.1 L373.7,535.5 L370.3,533.8 L365.2,533.3 L360.1,532.1 L358.0,528.7 Z" fill="#f0b448"/>
<circle cx="371.0" cy="530.6" r="1.2" fill="#eca235"/>
<circle cx="357.7" cy="529.8" r="1.2" fill="#f4c058"/>
<circle cx="364.1" cy="529.7" r="1.2" fill="#f0b040"/>
<circle cx="369.2" cy="527.0" r="1.2" fill="#eca235"/>
<circle cx="366.8" cy="524.4" r="1.2" fill="#eca235"/>
<circle cx="356.3" cy="525.2" r="1.2" fill="#eca235"/>
<circle cx="364.4" cy="528.5" r="1.2" fill="#e89a30"/>
<circle cx="357.4" cy="525.1" r="1.2" fill="#eca235"/>
<circle cx="373.5" cy="527.8" r="1.2" fill="#f6cf78"/>
<circle cx="369.9" cy="532.0" r="1.2" fill="#f0a838"/>
<circle cx="364.5" cy="521.5" r="1.2" fill="#f0a838"/>
<circle cx="368.2" cy="529.3" r="1.2" fill="#f2b84c"/>
<circle cx="361.3" cy="528.2" r="1.2" fill="#eca235"/>
<circle cx="365.5" cy="532.9" r="1.2" fill="#f6e2b8"/>
<circle cx="359.6" cy="531.4" r="1.2" fill="#e89a30"/>
<circle cx="360.1" cy="523.1" r="1.2" fill="#f2b84c"/>
<circle cx="362.5" cy="531.2" r="1.2" fill="#f0b040"/>
<circle cx="369.5" cy="530.5" r="1.2" fill="#f4c058"/>
<circle cx="373.5" cy="529.2" r="1.2" fill="#f0a838"/>
<circle cx="364.7" cy="523.8" r="1.2" fill="#f6cf78"/>
<circle cx="368.5" cy="534.0" r="1.2" fill="#f2b84c"/>
<circle cx="373.9" cy="527.5" r="1.2" fill="#f4c058"/>
<circle cx="359.4" cy="520.1" r="1.2" fill="#f6e2b8"/>
<circle cx="372.1" cy="530.5" r="1.2" fill="#f4c058"/>
<circle cx="374.4" cy="530.4" r="1.2" fill="#f2b84c"/>
<circle cx="372.3" cy="534.3" r="1.2" fill="#f4c058"/>
<circle cx="367.1" cy="527.9" r="1.2" fill="#f2b84c"/>
<circle cx="370.6" cy="523.3" r="1.2" fill="#f0b040"/>
<circle cx="358.1" cy="527.0" r="1.2" fill="#f4c058"/>
<circle cx="363.3" cy="531.4" r="1.2" fill="#f0b040"/>
<circle cx="358.4" cy="523.0" r="1.2" fill="#f6e2b8"/>
<circle cx="374.0" cy="531.2" r="1.2" fill="#f2b84c"/>
<circle cx="369.8" cy="525.1" r="1.2" fill="#f4c058"/>
<circle cx="364.3" cy="519.8" r="1.2" fill="#f2b84c"/>
<circle cx="362.8" cy="533.4" r="1.2" fill="#f6cf78"/>
<circle cx="363.6" cy="527.0" r="1.2" fill="#f0b040"/>
<circle cx="360.8" cy="528.5" r="1.2" fill="#f6e2b8"/>
<circle cx="368.2" cy="533.6" r="1.2" fill="#f0b040"/>
<circle cx="364.3" cy="532.1" r="1.2" fill="#f0b040"/>
<circle cx="370.9" cy="531.0" r="1.2" fill="#e89a30"/>
<circle cx="360.2" cy="522.9" r="1.2" fill="#f0a838"/>
<circle cx="368.7" cy="528.9" r="1.2" fill="#e89a30"/>
<circle cx="368.4" cy="528.3" r="1.2" fill="#e89a30"/>
<circle cx="366.8" cy="530.4" r="1.2" fill="#f0b040"/>
<circle cx="366.3" cy="529.9" r="1.2" fill="#f4c058"/>
<circle cx="374.5" cy="536.1" r="1.2" fill="#f6e2b8"/>
<circle cx="366.5" cy="528.1" r="1.2" fill="#e89a30"/>
<circle cx="368.7" cy="529.6" r="1.2" fill="#e89a30"/>
<circle cx="363.2" cy="525.7" r="1.2" fill="#f2b84c"/>
<circle cx="358.0" cy="530.8" r="1.2" fill="#e89a30"/>
<circle cx="362.2" cy="528.0" r="1.2" fill="#f6e2b8"/>
<circle cx="362.5" cy="524.9" r="1.2" fill="#f0a838"/>
<circle cx="360.1" cy="525.3" r="1.2" fill="#f6e2b8"/>
<circle cx="374.9" cy="532.1" r="1.2" fill="#f6e2b8"/>
<circle cx="365.0" cy="534.0" r="1.2" fill="#f4c058"/>
<circle cx="368.4" cy="531.2" r="1.2" fill="#eca235"/>
<circle cx="367.0" cy="530.6" r="1.2" fill="#f6e2b8"/>
<circle cx="365.1" cy="527.1" r="1.2" fill="#f0a838"/>
<circle cx="361.1" cy="526.1" r="1.2" fill="#f4c058"/>
<circle cx="361.9" cy="524.4" r="1.2" fill="#f6e2b8"/>
<circle cx="365.5" cy="522.3" r="1.2" fill="#f0a838"/>
<circle cx="363.7" cy="518.3" r="1.2" fill="#f6cf78"/>
<circle cx="368.9" cy="532.0" r="1.2" fill="#f6cf78"/>
<circle cx="365.6" cy="531.1" r="1.2" fill="#f4c058"/>
<circle cx="363.9" cy="532.3" r="1.2" fill="#f6e2b8"/>
<circle cx="361.1" cy="529.9" r="1.2" fill="#e89a30"/>
<circle cx="358.4" cy="523.7" r="1.2" fill="#f6cf78"/>
<circle cx="370.1" cy="525.7" r="1.2" fill="#e89a30"/>
<circle cx="361.2" cy="527.3" r="1.2" fill="#f0b040"/>
<circle cx="357.7" cy="525.7" r="1.2" fill="#e89a30"/>
<circle cx="360.0" cy="530.1" r="1.2" fill="#f6e2b8"/>
<circle cx="370.0" cy="533.0" r="1.2" fill="#f6cf78"/>
<circle cx="365.3" cy="528.4" r="1.2" fill="#eca235"/>
<circle cx="372.9" cy="528.1" r="1.2" fill="#eca235"/>
<circle cx="372.5" cy="529.6" r="1.2" fill="#e89a30"/>
<circle cx="370.2" cy="524.4" r="1.2" fill="#e89a30"/>
<circle cx="368.1" cy="534.4" r="1.2" fill="#f6e2b8"/>
<circle cx="369.3" cy="523.7" r="1.2" fill="#f6cf78"/>
<circle cx="366.0" cy="534.5" r="1.2" fill="#eca235"/>
<circle cx="358.7" cy="528.8" r="1.2" fill="#f6cf78"/>
<circle cx="374.8" cy="532.4" r="1.2" fill="#e89a30"/>
<circle cx="361.9" cy="519.9" r="1.2" fill="#f6cf78"/>
<circle cx="359.6" cy="529.7" r="1.2" fill="#eca235"/>
<circle cx="362.1" cy="533.2" r="1.2" fill="#f0b040"/>
<circle cx="366.1" cy="534.0" r="1.2" fill="#f0a838"/>
<circle cx="364.1" cy="528.4" r="1.2" fill="#e89a30"/>
<circle cx="365.6" cy="525.7" r="1.2" fill="#f6e2b8"/>
<circle cx="371.0" cy="531.0" r="1.2" fill="#f6e2b8"/>
<circle cx="368.6" cy="532.3" r="1.2" fill="#f4c058"/>
<circle cx="360.7" cy="531.8" r="1.2" fill="#e89a30"/>
<circle cx="367.3" cy="528.1" r="1.2" fill="#f0a838"/>
<circle cx="369.6" cy="529.9" r="1.2" fill="#f2b84c"/>
<circle cx="368.8" cy="530.4" r="1.2" fill="#f6e2b8"/>
<circle cx="368.2" cy="531.7" r="1.2" fill="#f0a838"/>
<circle cx="371.5" cy="533.1" r="1.2" fill="#f6cf78"/>
<circle cx="362.9" cy="523.1" r="1.2" fill="#f0b040"/>
<circle cx="369.5" cy="529.8" r="1.2" fill="#f0b040"/>
<circle cx="356.6" cy="528.9" r="1.2" fill="#f6cf78"/>
<circle cx="356.3" cy="524.5" r="1.2" fill="#f2b84c"/>
<circle cx="367.2" cy="531.9" r="1.2" fill="#f6e2b8"/>
<circle cx="366.6" cy="520.3" r="1.2" fill="#e89a30"/>
<circle cx="358.1" cy="526.6" r="1.2" fill="#e89a30"/>
<circle cx="364.3" cy="530.3" r="1.2" fill="#eca235"/>
<circle cx="360.6" cy="530.2" r="1.2" fill="#f6cf78"/>
<circle cx="364.1" cy="525.5" r="1.2" fill="#f0b040"/>
<circle cx="366.1" cy="531.3" r="1.2" fill="#f6cf78"/>
<circle cx="358.3" cy="529.3" r="1.2" fill="#f2b84c"/>
<circle cx="368.7" cy="532.6" r="1.2" fill="#f0a838"/>
<circle cx="361.2" cy="529.8" r="1.2" fill="#f4c058"/>
<circle cx="372.8" cy="532.2" r="1.2" fill="#f2b84c"/>
<circle cx="357.6" cy="530.8" r="1.2" fill="#f6cf78"/>
<circle cx="360.5" cy="532.3" r="1.2" fill="#e89a30"/>
<circle cx="358.3" cy="525.8" r="1.2" fill="#e89a30"/>
<circle cx="369.2" cy="533.2" r="1.2" fill="#f0a838"/>
<circle cx="367.7" cy="528.5" r="1.2" fill="#f4c058"/>
<circle cx="360.3" cy="521.6" r="1.2" fill="#f6e2b8"/>
<circle cx="364.9" cy="519.3" r="1.2" fill="#f2b84c"/>
<circle cx="358.9" cy="521.2" r="1.2" fill="#f4c058"/>
<circle cx="365.6" cy="532.4" r="1.2" fill="#f4c058"/>
<circle cx="373.5" cy="532.2" r="1.2" fill="#f2b84c"/>
<circle cx="367.3" cy="522.0" r="1.2" fill="#e89a30"/>
<circle cx="358.9" cy="531.9" r="1.2" fill="#f2b84c"/>
<circle cx="359.3" cy="529.5" r="1.2" fill="#f6cf78"/>
<circle cx="367.2" cy="531.0" r="1.2" fill="#f0a838"/>
<circle cx="373.9" cy="528.8" r="1.2" fill="#e89a30"/>
<circle cx="373.3" cy="536.0" r="1.2" fill="#f2b84c"/>
<circle cx="369.3" cy="521.8" r="1.2" fill="#eca235"/>
<circle cx="366.1" cy="524.4" r="1.2" fill="#f6cf78"/>
<circle cx="374.0" cy="530.6" r="1.2" fill="#e89a30"/>
<circle cx="365.7" cy="522.2" r="1.2" fill="#f6cf78"/>
<circle cx="367.7" cy="534.0" r="1.2" fill="#f0b040"/>
<circle cx="367.4" cy="534.7" r="1.2" fill="#f6e2b8"/>
<circle cx="359.3" cy="521.7" r="1.2" fill="#f2b84c"/>
<circle cx="358.9" cy="520.6" r="1.2" fill="#f6cf78"/>
<circle cx="373.4" cy="531.5" r="1.2" fill="#f0b040"/>
<circle cx="368.3" cy="527.7" r="1.2" fill="#f0b040"/>
<circle cx="369.0" cy="524.5" r="1.2" fill="#e89a30"/>
<circle cx="367.7" cy="529.8" r="1.2" fill="#f0b040"/>
<circle cx="366.0" cy="525.6" r="1.2" fill="#f0a838"/>
<circle cx="368.4" cy="524.7" r="1.2" fill="#f2b84c"/>
<circle cx="364.4" cy="524.4" r="1.2" fill="#f2b84c"/>
<circle cx="360.8" cy="522.5" r="1.2" fill="#f0a838"/>
<circle cx="368.3" cy="531.7" r="1.2" fill="#f6cf78"/>
<circle cx="370.3" cy="528.7" r="1.2" fill="#e89a30"/>
<circle cx="366.6" cy="534.6" r="1.2" fill="#f6e2b8"/>
<circle cx="373.0" cy="532.1" r="1.2" fill="#f6e2b8"/>
<circle cx="358.8" cy="528.6" r="1.2" fill="#e89a30"/>
<circle cx="361.5" cy="533.5" r="1.2" fill="#f4c058"/>
<circle cx="357.7" cy="527.4" r="1.2" fill="#f6e2b8"/>
<circle cx="363.3" cy="526.5" r="1.2" fill="#f6cf78"/>
<circle cx="363.0" cy="528.8" r="1.2" fill="#e89a30"/>
<circle cx="359.3" cy="531.6" r="1.2" fill="#d84a20"/>
<circle cx="362.0" cy="530.5" r="1.2" fill="#e07a28"/>
<circle cx="374.5" cy="525.0" r="1.3" fill="#dcdcc4"/>
<circle cx="376.5" cy="526.5" r="1.3" fill="#e4e0c8"/>
<circle cx="378.5" cy="525.5" r="1.3" fill="#d8dcc8"/>
<circle cx="380.0" cy="527.0" r="1.3" fill="#e0dcc0"/>
<circle cx="376.0" cy="528.5" r="1.3" fill="#e8e0c8"/>
<circle cx="378.0" cy="528.5" r="1.3" fill="#dcd8c0"/>
<circle cx="374.5" cy="527.5" r="1.3" fill="#e4dcc0"/>
<circle cx="386.6" cy="525.0" r="1.3" fill="#e8c070"/>
<circle cx="367.3" cy="559.9" r="1.2" fill="#7ab2e6"/>
<circle cx="355.1" cy="558.0" r="1.2" fill="#9cc8ee"/>
<circle cx="368.9" cy="556.2" r="1.2" fill="#aacff0"/>
<circle cx="367.5" cy="556.2" r="1.2" fill="#9cc8ee"/>
<circle cx="352.8" cy="562.2" r="1.2" fill="#b8d8f2"/>
<circle cx="350.7" cy="556.4" r="1.2" fill="#88bceb"/>
<circle cx="358.2" cy="558.3" r="1.2" fill="#88bceb"/>
<circle cx="363.2" cy="555.0" r="1.2" fill="#88bceb"/>
<circle cx="356.8" cy="561.5" r="1.2" fill="#88bceb"/>
<circle cx="365.8" cy="560.3" r="1.2" fill="#88bceb"/>
<circle cx="361.9" cy="562.0" r="1.2" fill="#7ab2e6"/>
<circle cx="353.3" cy="551.6" r="1.2" fill="#aacff0"/>
<circle cx="361.8" cy="556.6" r="1.2" fill="#9cc8ee"/>
<circle cx="348.1" cy="554.7" r="1.2" fill="#b8d8f2"/>
<circle cx="369.7" cy="557.5" r="1.2" fill="#b8d8f2"/>
<circle cx="368.4" cy="556.0" r="1.2" fill="#b8d8f2"/>
<circle cx="355.3" cy="563.3" r="1.2" fill="#7ab2e6"/>
<circle cx="357.0" cy="559.4" r="1.2" fill="#88bceb"/>
<circle cx="363.9" cy="562.4" r="1.2" fill="#9cc8ee"/>
<circle cx="358.0" cy="559.0" r="1.2" fill="#88bceb"/>
<circle cx="349.0" cy="560.4" r="1.2" fill="#b8d8f2"/>
<circle cx="352.8" cy="557.5" r="1.2" fill="#88bceb"/>
<circle cx="361.4" cy="560.5" r="1.2" fill="#aacff0"/>
<circle cx="350.7" cy="558.6" r="1.2" fill="#b8d8f2"/>
<circle cx="361.8" cy="555.8" r="1.2" fill="#aacff0"/>
<circle cx="355.7" cy="557.2" r="1.2" fill="#aacff0"/>
<circle cx="366.5" cy="555.0" r="1.2" fill="#aacff0"/>
<circle cx="348.5" cy="556.8" r="1.2" fill="#7ab2e6"/>
<circle cx="363.8" cy="563.2" r="1.2" fill="#88bceb"/>
<circle cx="366.1" cy="554.7" r="1.2" fill="#7ab2e6"/>
<circle cx="362.7" cy="552.7" r="1.2" fill="#aacff0"/>
<circle cx="362.0" cy="556.6" r="1.2" fill="#7ab2e6"/>
<circle cx="368.4" cy="558.2" r="1.2" fill="#9cc8ee"/>
<circle cx="368.5" cy="555.9" r="1.2" fill="#aacff0"/>
<circle cx="347.7" cy="554.6" r="1.2" fill="#9cc8ee"/>
<circle cx="348.3" cy="554.0" r="1.2" fill="#aacff0"/>
<circle cx="363.0" cy="553.0" r="1.2" fill="#7ab2e6"/>
<circle cx="366.7" cy="557.2" r="1.2" fill="#9cc8ee"/>
<circle cx="352.0" cy="559.1" r="1.2" fill="#9cc8ee"/>
<circle cx="364.4" cy="553.3" r="1.2" fill="#88bceb"/>
<circle cx="367.2" cy="557.2" r="1.2" fill="#aacff0"/>
<circle cx="351.4" cy="552.7" r="1.2" fill="#aacff0"/>
<circle cx="368.4" cy="559.4" r="1.2" fill="#7ab2e6"/>
<circle cx="355.8" cy="560.8" r="1.2" fill="#88bceb"/>
<circle cx="363.9" cy="560.9" r="1.2" fill="#88bceb"/>
<circle cx="362.3" cy="561.3" r="1.2" fill="#88bceb"/>
<circle cx="367.6" cy="554.7" r="1.2" fill="#7ab2e6"/>
<circle cx="353.3" cy="552.4" r="1.2" fill="#88bceb"/>
<circle cx="366.8" cy="556.7" r="1.2" fill="#9cc8ee"/>
<circle cx="354.1" cy="553.2" r="1.2" fill="#7ab2e6"/>
<circle cx="353.5" cy="556.7" r="1.2" fill="#7ab2e6"/>
<circle cx="349.6" cy="553.1" r="1.2" fill="#aacff0"/>
<circle cx="356.6" cy="551.8" r="1.2" fill="#aacff0"/>
<circle cx="359.6" cy="552.0" r="1.2" fill="#aacff0"/>
<circle cx="355.9" cy="559.5" r="1.2" fill="#9cc8ee"/>
<circle cx="366.0" cy="562.2" r="1.2" fill="#88bceb"/>
<circle cx="369.2" cy="557.4" r="1.2" fill="#aacff0"/>
<circle cx="350.2" cy="562.1" r="1.2" fill="#88bceb"/>
<circle cx="361.4" cy="563.4" r="1.2" fill="#7ab2e6"/>
<circle cx="367.1" cy="560.4" r="1.2" fill="#88bceb"/>
<circle cx="351.2" cy="556.9" r="1.2" fill="#aacff0"/>
<circle cx="356.2" cy="552.2" r="1.2" fill="#9cc8ee"/>
<circle cx="352.3" cy="560.8" r="1.2" fill="#b8d8f2"/>
<circle cx="353.5" cy="563.1" r="1.2" fill="#9cc8ee"/>
<circle cx="366.6" cy="558.6" r="1.2" fill="#aacff0"/>
<circle cx="353.5" cy="554.4" r="1.2" fill="#7ab2e6"/>
<circle cx="352.0" cy="561.0" r="1.2" fill="#88bceb"/>
<circle cx="366.2" cy="558.1" r="1.2" fill="#88bceb"/>
<circle cx="358.0" cy="553.1" r="1.2" fill="#b8d8f2"/>
<circle cx="363.7" cy="560.7" r="1.2" fill="#9cc8ee"/>
<circle cx="362.6" cy="558.1" r="1.2" fill="#aacff0"/>
<circle cx="363.4" cy="560.7" r="1.2" fill="#9cc8ee"/>
<circle cx="347.2" cy="557.4" r="1.2" fill="#7ab2e6"/>
<circle cx="362.0" cy="560.7" r="1.2" fill="#b8d8f2"/>
<circle cx="363.6" cy="555.4" r="1.2" fill="#7ab2e6"/>
<circle cx="361.2" cy="560.6" r="1.2" fill="#7ab2e6"/>
<circle cx="359.8" cy="552.9" r="1.2" fill="#88bceb"/>
<circle cx="364.5" cy="553.2" r="1.2" fill="#9cc8ee"/>
<circle cx="367.4" cy="560.6" r="1.2" fill="#b8d8f2"/>
<circle cx="354.2" cy="563.4" r="1.2" fill="#7ab2e6"/>
<circle cx="363.2" cy="563.3" r="1.2" fill="#9cc8ee"/>
<circle cx="357.1" cy="552.5" r="1.2" fill="#7ab2e6"/>
<circle cx="369.7" cy="558.0" r="1.2" fill="#aacff0"/>
<circle cx="357.1" cy="556.3" r="1.2" fill="#88bceb"/>
<circle cx="368.8" cy="557.0" r="1.2" fill="#b8d8f2"/>
<circle cx="356.0" cy="559.6" r="1.2" fill="#9cc8ee"/>
<circle cx="363.9" cy="552.3" r="1.2" fill="#b8d8f2"/>
<circle cx="365.4" cy="556.2" r="1.2" fill="#aacff0"/>
<circle cx="350.7" cy="555.7" r="1.2" fill="#7ab2e6"/>
<circle cx="367.2" cy="557.1" r="1.2" fill="#7ab2e6"/>
<circle cx="347.7" cy="558.2" r="1.2" fill="#aacff0"/>
<circle cx="360.6" cy="551.5" r="1.2" fill="#7ab2e6"/>
<circle cx="358.1" cy="560.1" r="1.2" fill="#88bceb"/>
<circle cx="356.9" cy="554.6" r="1.2" fill="#9cc8ee"/>
<circle cx="368.1" cy="561.2" r="1.2" fill="#aacff0"/>
<circle cx="361.6" cy="553.3" r="1.2" fill="#88bceb"/>
<circle cx="360.2" cy="554.2" r="1.2" fill="#88bceb"/>
<circle cx="367.4" cy="557.7" r="1.2" fill="#7ab2e6"/>
<circle cx="359.3" cy="556.0" r="1.2" fill="#7ab2e6"/>
<circle cx="357.1" cy="559.8" r="1.2" fill="#aacff0"/>
<circle cx="347.8" cy="557.5" r="1.2" fill="#b8d8f2"/>
<circle cx="366.7" cy="555.6" r="1.2" fill="#88bceb"/>
<circle cx="357.4" cy="559.2" r="1.2" fill="#7ab2e6"/>
<circle cx="351.8" cy="557.9" r="1.2" fill="#9cc8ee"/>
<circle cx="349.9" cy="554.1" r="1.2" fill="#9cc8ee"/>
<circle cx="355.0" cy="560.2" r="1.2" fill="#88bceb"/>
<circle cx="360.1" cy="556.5" r="1.2" fill="#9cc8ee"/>
<circle cx="365.6" cy="560.4" r="1.2" fill="#9cc8ee"/>
<circle cx="356.3" cy="558.8" r="1.2" fill="#9cc8ee"/>
<circle cx="368.7" cy="559.6" r="1.2" fill="#7ab2e6"/>
<circle cx="356.5" cy="553.4" r="1.2" fill="#88bceb"/>
<circle cx="349.4" cy="554.7" r="1.2" fill="#88bceb"/>
<circle cx="352.3" cy="551.8" r="1.2" fill="#b8d8f2"/>
<circle cx="348.5" cy="558.5" r="1.2" fill="#9cc8ee"/>
<circle cx="367.7" cy="556.5" r="1.2" fill="#b8d8f2"/>
<circle cx="352.7" cy="553.5" r="1.2" fill="#aacff0"/>
<circle cx="358.5" cy="558.0" r="1.2" fill="#b8d8f2"/>
<circle cx="350.9" cy="561.8" r="1.2" fill="#b8d8f2"/>
<circle cx="353.4" cy="559.1" r="1.2" fill="#88bceb"/>
<circle cx="367.2" cy="560.0" r="1.2" fill="#7ab2e6"/>
<circle cx="353.6" cy="553.4" r="1.2" fill="#88bceb"/>
<circle cx="351.3" cy="556.3" r="1.2" fill="#7ab2e6"/>
<circle cx="351.4" cy="556.5" r="1.2" fill="#7ab2e6"/>
<circle cx="368.4" cy="557.2" r="1.2" fill="#b8d8f2"/>
<circle cx="360.9" cy="561.8" r="1.2" fill="#b8d8f2"/>
<circle cx="364.0" cy="558.7" r="1.2" fill="#9cc8ee"/>
<circle cx="350.5" cy="556.7" r="1.2" fill="#7ab2e6"/>
<circle cx="355.9" cy="562.8" r="1.2" fill="#b8d8f2"/>
<circle cx="351.2" cy="562.3" r="1.2" fill="#aacff0"/>
<circle cx="364.6" cy="554.8" r="1.2" fill="#88bceb"/>
<circle cx="358.8" cy="553.0" r="1.2" fill="#9cc8ee"/>
<circle cx="352.4" cy="555.6" r="1.2" fill="#88bceb"/>
<circle cx="371.0" cy="555.2" r="1.2" fill="#5088d0"/>
<circle cx="372.8" cy="555.5" r="1.2" fill="#5088d0"/>
<circle cx="374.6" cy="555.8" r="1.2" fill="#4a80cc"/>
<circle cx="378.0" cy="496.3" r="1.2" fill="#4a80d0"/>
<circle cx="384.0" cy="496.3" r="1.2" fill="#4a80d0"/>
<circle cx="377.5" cy="568.8" r="1.2" fill="#4a80d0"/>
<circle cx="385.5" cy="570.5" r="1.2" fill="#4a80d0"/>
<defs><linearGradient id="g2" x1="0" y1="0" x2="0" y2="1"><stop offset="0" stop-color="#9e1a26"/><stop offset="0.14" stop-color="#b42228"/><stop offset="0.24" stop-color="#d4422a"/><stop offset="0.33" stop-color="#e8902e"/><stop offset="0.42" stop-color="#ecc062"/><stop offset="0.5" stop-color="#e4dccb"/><stop offset="0.6" stop-color="#c2dcee"/><stop offset="0.7" stop-color="#96c6ee"/><stop offset="0.82" stop-color="#6a9ee0"/><stop offset="1" stop-color="#3c62b2"/></linearGradient></defs>
<rect x="417.9" y="521.1" width="6.6" height="34.39999999999998" rx="1.6" fill="url(#g2)"/>
<rect x="417.79999999999995" y="529.42" width="1.1" height="0.9" fill="#fff"/>
<rect x="423.5" y="529.42" width="1.1" height="0.9" fill="#fff"/>
<rect x="417.79999999999995" y="537.85" width="1.1" height="0.9" fill="#fff"/>
<rect x="423.5" y="537.85" width="1.1" height="0.9" fill="#fff"/>
<rect x="417.79999999999995" y="546.62" width="1.1" height="0.9" fill="#fff"/>
<rect x="423.5" y="546.62" width="1.1" height="0.9" fill="#fff"/>
<text transform="translate(425.30,527.80)" y="2.52" font-size="7.2" fill="#222" stroke="#222" stroke-width="0.15" >4</text>
<text transform="translate(425.30,540.80)" y="2.52" font-size="7.2" fill="#222" stroke="#222" stroke-width="0.15" >2</text>
<text transform="translate(425.30,552.90)" y="2.52" font-size="7.2" fill="#222" stroke="#222" stroke-width="0.15" >0</text>
<text transform="translate(421.50,510.70)" y="2.69" font-size="7.7" fill="#111" stroke="#111" stroke-width="0.25" text-anchor="middle" >SPI1</text>
<text transform="translate(410.80,538.10) rotate(-90) scale(0.584,1)" y="3.85" font-size="11" fill="#111" stroke="#111" stroke-width="0.1" text-anchor="middle" font-weight="bold" >z-score</text>
<line x1="211.00" y1="595.50" x2="211.00" y2="555.20" stroke="#111" stroke-width="1.3" />
<path d="M211,551.2 L208.15,557.5 L213.85,557.5 Z" fill="#111"/>
<line x1="210.35" y1="595.50" x2="239.80" y2="595.50" stroke="#111" stroke-width="1.3" />
<path d="M243.8,595.5 L237.5,592.65 L237.5,598.35 Z" fill="#111"/>
<text transform="translate(201.20,570.89) rotate(-90) scale(0.725,1)" y="3.22" font-size="9.2" fill="#111" stroke="#111" stroke-width="0.5" text-anchor="middle" letter-spacing="0.3">UMAP-2</text>
<text transform="translate(228.51,604.60) scale(0.731,1)" y="3.08" font-size="8.8" fill="#111" stroke="#111" stroke-width="0.5" text-anchor="middle" letter-spacing="0.3">UMAP-1</text>
<text transform="translate(448.20,459.60)" y="5.22" font-size="14.5" fill="#000" stroke="#000" stroke-width="0.25" font-weight="bold" >H</text>
<text transform="translate(492.80,470.20)" y="3.60" font-size="10.3" fill="#111" stroke="#111" stroke-width="0.25" text-anchor="middle" >SPI1</text>
<path d="M484.95,494.50 L484.90,496.22 L484.75,497.93 L484.55,499.65 L484.18,501.36 L483.61,503.08 L482.91,504.79 L482.10,506.51 L481.29,508.22 L480.61,509.94 L480.14,511.65 L479.73,513.37 L479.36,515.08 L479.08,516.80 L478.92,518.52 L478.94,520.23 L479.17,521.95 L479.58,523.66 L480.09,525.38 L480.66,527.09 L481.23,528.81 L481.73,530.52 L482.19,532.24 L482.69,533.95 L483.20,535.67 L483.67,537.38 L484.05,539.10 L484.31,540.82 L484.50,542.53 L484.66,544.25 L484.78,545.96 L484.85,547.68 L484.86,549.39 L484.87,551.11 L484.88,552.82 L484.89,554.54 L484.89,556.25 L484.90,557.97 L484.90,559.68 L484.90,561.40 L485.70,561.40 L485.70,559.68 L485.70,557.97 L485.71,556.25 L485.71,554.54 L485.72,552.82 L485.73,551.11 L485.74,549.39 L485.75,547.68 L485.82,545.96 L485.94,544.25 L486.10,542.53 L486.29,540.82 L486.55,539.10 L486.93,537.38 L487.40,535.67 L487.91,533.95 L488.41,532.24 L488.87,530.52 L489.37,528.81 L489.94,527.09 L490.51,525.38 L491.02,523.66 L491.43,521.95 L491.66,520.23 L491.68,518.52 L491.52,516.80 L491.24,515.08 L490.87,513.37 L490.46,511.65 L489.99,509.94 L489.31,508.22 L488.50,506.51 L487.69,504.79 L486.99,503.08 L486.42,501.36 L486.05,499.65 L485.85,497.93 L485.70,496.22 L485.65,494.50 Z" fill="#50256a" stroke="#0a0a0a" stroke-width="1.2" stroke-linejoin="round"/>
<path d="M501.45,490.40 L501.45,492.05 L501.43,493.70 L501.41,495.35 L501.38,497.01 L501.34,498.66 L501.29,500.31 L501.15,501.96 L500.89,503.61 L500.56,505.26 L500.18,506.91 L499.76,508.56 L499.14,510.22 L498.40,511.87 L497.66,513.52 L497.04,515.17 L496.60,516.82 L496.19,518.47 L495.80,520.12 L495.49,521.77 L495.27,523.43 L495.20,525.08 L495.36,526.73 L495.76,528.38 L496.32,530.03 L496.97,531.68 L497.63,533.33 L498.24,534.98 L498.75,536.64 L499.27,538.29 L499.79,539.94 L500.27,541.59 L500.66,543.24 L500.95,544.89 L501.19,546.54 L501.31,548.19 L501.35,549.85 L501.38,551.50 L501.39,553.15 L501.40,554.80 L502.20,554.80 L502.21,553.15 L502.22,551.50 L502.25,549.85 L502.29,548.19 L502.41,546.54 L502.65,544.89 L502.94,543.24 L503.33,541.59 L503.81,539.94 L504.33,538.29 L504.85,536.64 L505.36,534.98 L505.97,533.33 L506.63,531.68 L507.28,530.03 L507.84,528.38 L508.24,526.73 L508.40,525.08 L508.33,523.43 L508.11,521.77 L507.80,520.12 L507.41,518.47 L507.00,516.82 L506.56,515.17 L505.94,513.52 L505.20,511.87 L504.46,510.22 L503.84,508.56 L503.42,506.91 L503.04,505.26 L502.71,503.61 L502.45,501.96 L502.31,500.31 L502.26,498.66 L502.22,497.01 L502.19,495.35 L502.17,493.70 L502.15,492.05 L502.15,490.40 Z" fill="#c9291d" stroke="#0a0a0a" stroke-width="1.2" stroke-linejoin="round"/>
<line x1="486.20" y1="487.40" x2="502.70" y2="487.40" stroke="#555" stroke-width="1.5" />
<text transform="translate(494.10,485.50)" y="2.10" font-size="6" fill="#222" stroke="#222" stroke-width="0.25" text-anchor="middle" >*</text>
<line x1="474.90" y1="488.70" x2="474.90" y2="578.60" stroke="#111" stroke-width="1.4" />
<line x1="474.30" y1="577.90" x2="511.20" y2="577.90" stroke="#111" stroke-width="1.4" />
<line x1="471.00" y1="490.00" x2="474.90" y2="490.00" stroke="#111" stroke-width="1.2" />
<text transform="translate(468.20,490.00)" y="2.66" font-size="7.6" fill="#111" stroke="#111" stroke-width="0.25" text-anchor="end" >8</text>
<line x1="471.00" y1="519.80" x2="474.90" y2="519.80" stroke="#111" stroke-width="1.2" />
<text transform="translate(468.20,519.80)" y="2.66" font-size="7.6" fill="#111" stroke="#111" stroke-width="0.25" text-anchor="end" >4</text>
<line x1="471.00" y1="549.50" x2="474.90" y2="549.50" stroke="#111" stroke-width="1.2" />
<text transform="translate(468.20,549.50)" y="2.66" font-size="7.6" fill="#111" stroke="#111" stroke-width="0.25" text-anchor="end" >0</text>
<line x1="485.30" y1="577.90" x2="485.30" y2="581.40" stroke="#111" stroke-width="1.2" />
<line x1="501.80" y1="577.90" x2="501.80" y2="581.40" stroke="#111" stroke-width="1.2" />
<text transform="translate(487.00,588.30) rotate(-45)" y="2.52" font-size="7.2" fill="#111" stroke="#111" stroke-width="0.2" text-anchor="end" >WT</text>
<text transform="translate(503.40,591.00) rotate(-45)" y="2.31" font-size="6.6" fill="#111" stroke="#111" stroke-width="0.15" text-anchor="end" font-style="italic" >gata2b<tspan font-size="4.8" dy="-2.8">ko</tspan></text>
<text transform="translate(454.30,535.43) rotate(-90) scale(0.598,1)" y="3.36" font-size="9.6" fill="#111" stroke="#111" stroke-width="0.5" text-anchor="middle" letter-spacing="0.9">TF motif score</text>
<rect x="0" y="0" width="520" height="1.2" fill="#000"/>
<rect x="0" y="0" width="1.2" height="630" fill="#000"/>
<rect x="518.4" y="0" width="1.6" height="630" fill="#000"/>
<rect x="0" y="628.4" width="520" height="1.6" fill="#000"/>
</svg></div></body></html>
